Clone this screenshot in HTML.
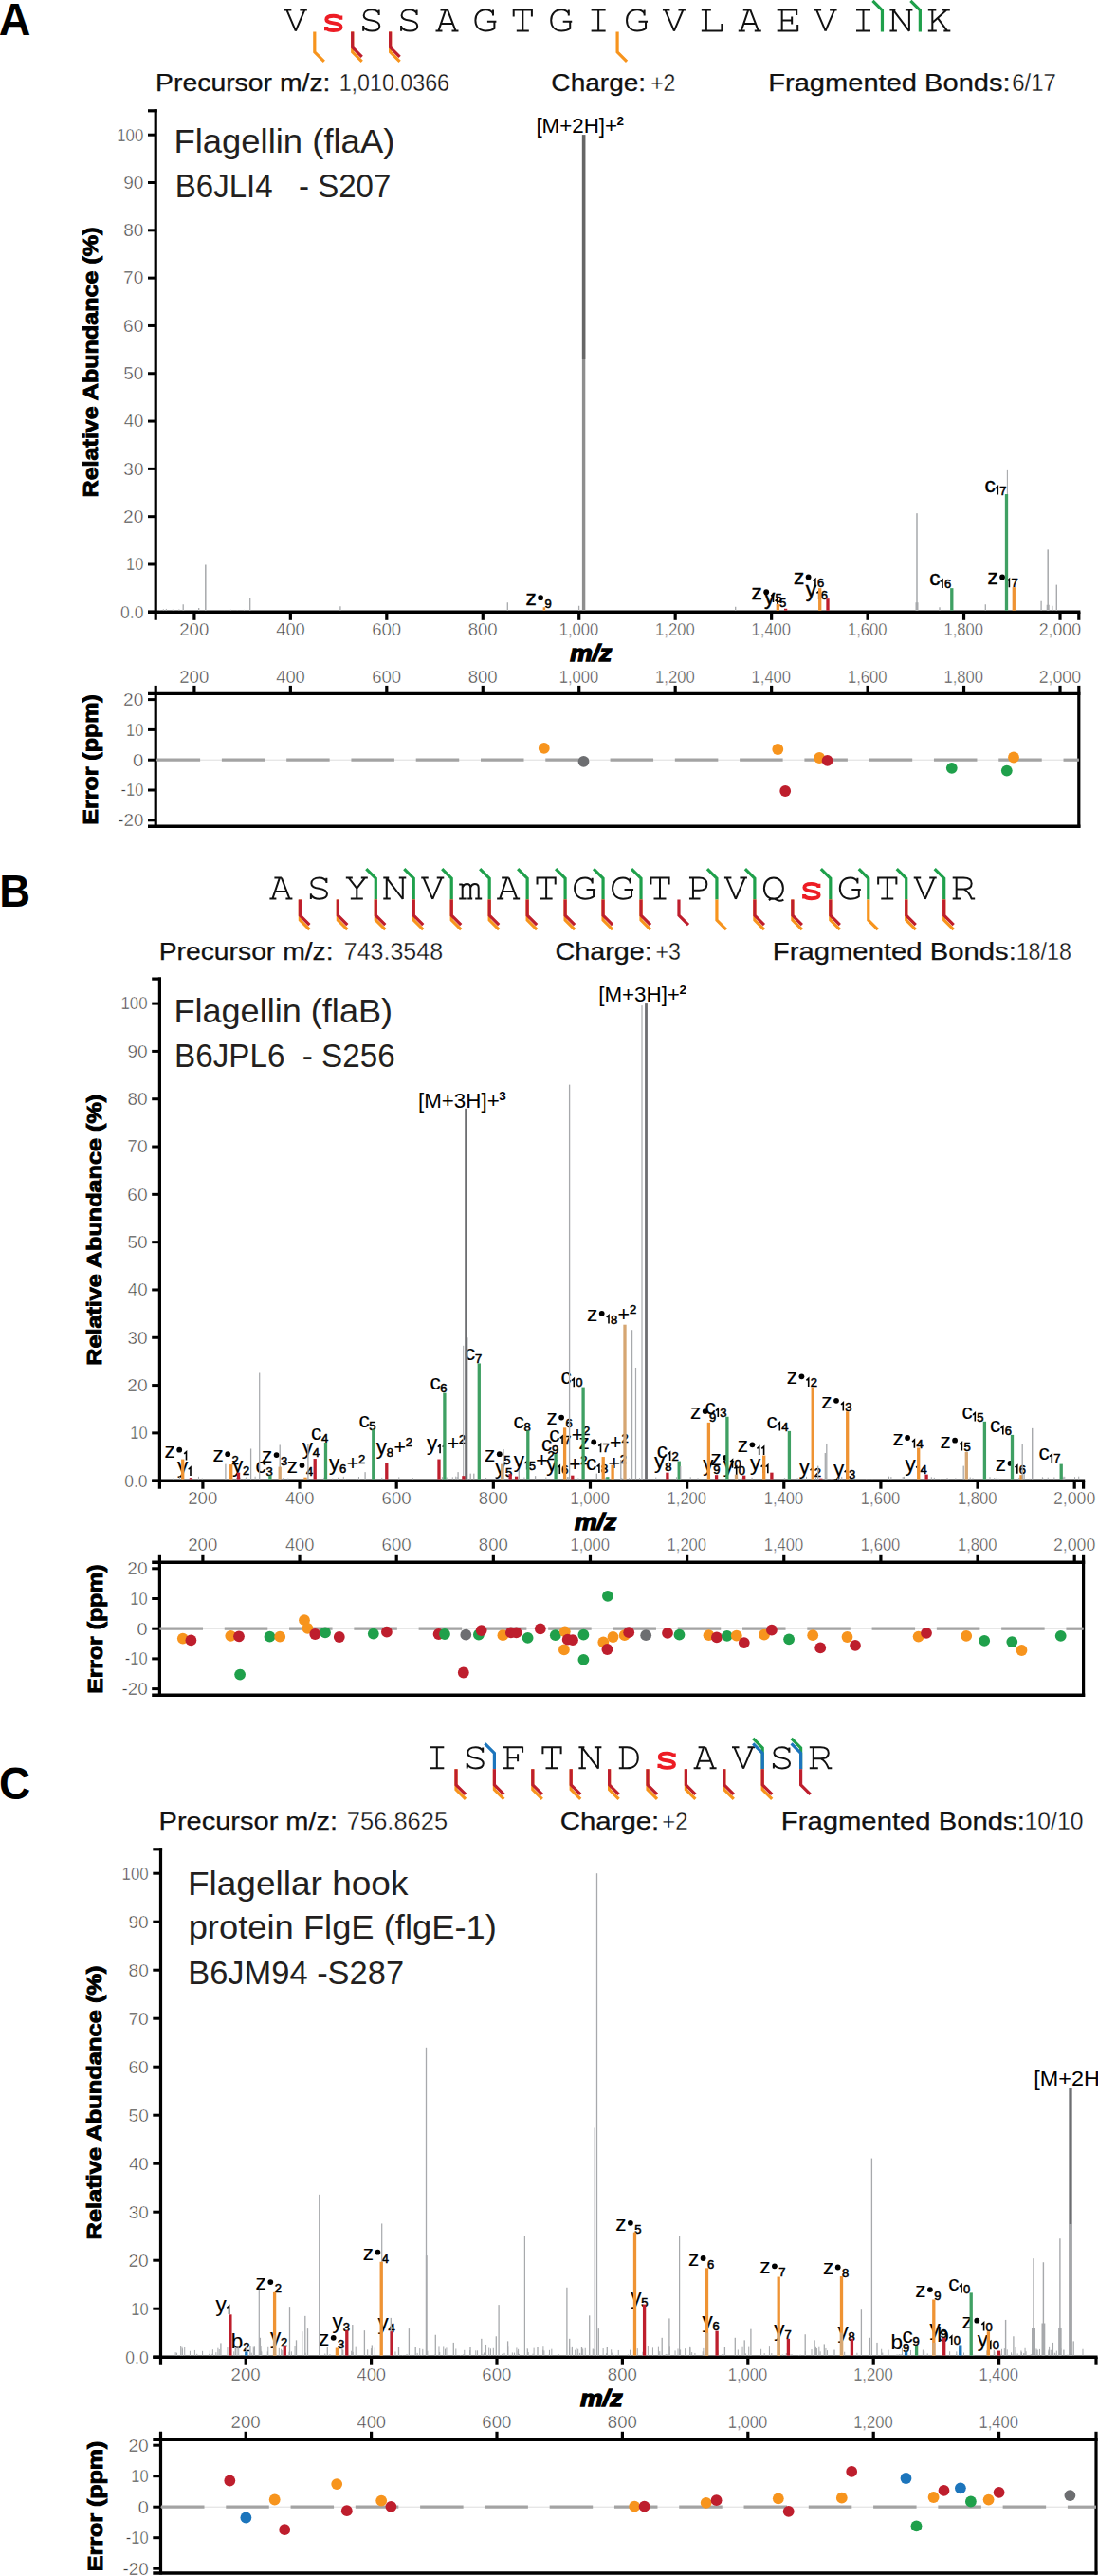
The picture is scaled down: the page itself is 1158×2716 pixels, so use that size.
<!DOCTYPE html><html><head><meta charset="utf-8"><style>html,body{margin:0;padding:0;background:#fff;}svg{display:block}</style></head><body>
<svg width="1158" height="2716" viewBox="0 0 1158 2716">
<rect width="1158" height="2716" fill="#fff"/>
<text x="-1.16" y="37.3" font-size="47.8" fill="#000" font-weight="bold" textLength="33.69" lengthAdjust="spacingAndGlyphs" font-family='"Liberation Sans", sans-serif'>A</text>
<path d="M-12,1 L-4.5,1 M4.5,1 L12,1 M-9.5,1 L0,23.3 M9.5,1 L0,23.3" transform="translate(311.85,9.4) scale(1,1)" fill="none" stroke="#111" stroke-width="2.0" stroke-linejoin="miter"/>
<path d="M7.4,10 C6,8 3.5,7.3 0,7.3 C-4.5,7.3 -7.3,8.8 -7.3,11.2 C-7.3,13.8 -4.5,14.5 0,15 C4.5,15.5 7.6,16.5 7.6,19.2 C7.6,21.7 4.5,22.6 0,22.6 C-3.5,22.6 -6,21.8 -7.6,20 M7.4,7.2 L7.4,11.4 M-7.6,18.5 L-7.6,22.8" transform="translate(351.76,9.4) scale(1.02,1.0)" fill="none" stroke="#ED1C24" stroke-width="3.9" stroke-linejoin="round"/>
<path d="M8,1.2 L8,6.5 M8,5 C6.5,2 4,0.9 0.5,0.9 C-5,0.9 -8,3.5 -8,6.8 C-8,10.3 -5,11.3 0,12.2 C5.5,13.1 8.6,14.6 8.6,18 C8.6,21.3 5.5,23.1 0.5,23.1 C-3.8,23.1 -6.8,21.5 -8.5,19 M-8.5,17.6 L-8.5,23.3" transform="translate(391.67,9.4) scale(1,1)" fill="none" stroke="#111" stroke-width="2.0" stroke-linejoin="miter"/>
<path d="M8,1.2 L8,6.5 M8,5 C6.5,2 4,0.9 0.5,0.9 C-5,0.9 -8,3.5 -8,6.8 C-8,10.3 -5,11.3 0,12.2 C5.5,13.1 8.6,14.6 8.6,18 C8.6,21.3 5.5,23.1 0.5,23.1 C-3.8,23.1 -6.8,21.5 -8.5,19 M-8.5,17.6 L-8.5,23.3" transform="translate(431.58,9.4) scale(1,1)" fill="none" stroke="#111" stroke-width="2.0" stroke-linejoin="miter"/>
<path d="M-7,1 L0.5,1 M0.5,1 L9,23 M-1.5,1 L-9,23 M-6.3,15.5 L6.3,15.5 M-12,23 L-5,23 M5,23 L12,23" transform="translate(471.49,9.4) scale(1,1)" fill="none" stroke="#111" stroke-width="2.0" stroke-linejoin="miter"/>
<path d="M8.6,1.2 L8.6,7 M8.6,5.2 C7,2.2 4.5,0.9 1,0.9 C-5.8,0.9 -10,5.5 -10,12 C-10,18.6 -6,23.1 1,23.1 C4.8,23.1 7.8,22.2 10,20.6 L10,13.3 M2.5,13.3 L12,13.3" transform="translate(511.4,9.4) scale(1,1)" fill="none" stroke="#111" stroke-width="2.0" stroke-linejoin="miter"/>
<path d="M-9.6,1 L9.6,1 M-9.6,0 L-9.6,8 M9.6,0 L9.6,8 M0,1 L0,23 M-6.5,23 L6.5,23" transform="translate(551.31,9.4) scale(1,1)" fill="none" stroke="#111" stroke-width="2.0" stroke-linejoin="miter"/>
<path d="M8.6,1.2 L8.6,7 M8.6,5.2 C7,2.2 4.5,0.9 1,0.9 C-5.8,0.9 -10,5.5 -10,12 C-10,18.6 -6,23.1 1,23.1 C4.8,23.1 7.8,22.2 10,20.6 L10,13.3 M2.5,13.3 L12,13.3" transform="translate(591.22,9.4) scale(1,1)" fill="none" stroke="#111" stroke-width="2.0" stroke-linejoin="miter"/>
<path d="M-7.5,1 L7.5,1 M0,1 L0,23 M-7.5,23 L7.5,23" transform="translate(631.13,9.4) scale(1,1)" fill="none" stroke="#111" stroke-width="2.0" stroke-linejoin="miter"/>
<path d="M8.6,1.2 L8.6,7 M8.6,5.2 C7,2.2 4.5,0.9 1,0.9 C-5.8,0.9 -10,5.5 -10,12 C-10,18.6 -6,23.1 1,23.1 C4.8,23.1 7.8,22.2 10,20.6 L10,13.3 M2.5,13.3 L12,13.3" transform="translate(671.04,9.4) scale(1,1)" fill="none" stroke="#111" stroke-width="2.0" stroke-linejoin="miter"/>
<path d="M-12,1 L-4.5,1 M4.5,1 L12,1 M-9.5,1 L0,23.3 M9.5,1 L0,23.3" transform="translate(710.95,9.4) scale(1,1)" fill="none" stroke="#111" stroke-width="2.0" stroke-linejoin="miter"/>
<path d="M-11,1 L-1,1 M-6,1 L-6,23 M-11,23 L10.5,23 M10.5,23.9 L10.5,15.5" transform="translate(750.86,9.4) scale(1,1)" fill="none" stroke="#111" stroke-width="2.0" stroke-linejoin="miter"/>
<path d="M-7,1 L0.5,1 M0.5,1 L9,23 M-1.5,1 L-9,23 M-6.3,15.5 L6.3,15.5 M-12,23 L-5,23 M5,23 L12,23" transform="translate(790.77,9.4) scale(1,1)" fill="none" stroke="#111" stroke-width="2.0" stroke-linejoin="miter"/>
<path d="M-11,1 L9.5,1 M9.5,0.1 L9.5,6.5 M-6,1 L-6,23 M-11,23 L10.5,23 M10.5,23.9 L10.5,16.5 M-6,12 L4.5,12 M4.5,8 L4.5,16" transform="translate(830.68,9.4) scale(1,1)" fill="none" stroke="#111" stroke-width="2.0" stroke-linejoin="miter"/>
<path d="M-12,1 L-4.5,1 M4.5,1 L12,1 M-9.5,1 L0,23.3 M9.5,1 L0,23.3" transform="translate(870.59,9.4) scale(1,1)" fill="none" stroke="#111" stroke-width="2.0" stroke-linejoin="miter"/>
<path d="M-7.5,1 L7.5,1 M0,1 L0,23 M-7.5,23 L7.5,23" transform="translate(910.5,9.4) scale(1,1)" fill="none" stroke="#111" stroke-width="2.0" stroke-linejoin="miter"/>
<path d="M-12,1 L-6,1 M-8.5,1 L-8.5,23 M-12,23 L-4.5,23 M-8.5,1 L8.5,23.4 M8.5,23.4 L8.5,1 M4.5,1 L12,1" transform="translate(950.41,9.4) scale(1,1)" fill="none" stroke="#111" stroke-width="2.0" stroke-linejoin="miter"/>
<path d="M-11.5,1 L-3,1 M-7,1 L-7,23 M-11.5,23 L-2.5,23 M-7,14.5 L8,1 M3,1 L11.5,1 M-1.5,9.5 L8.5,23 M5,23 L12,23" transform="translate(990.32,9.4) scale(1,1)" fill="none" stroke="#111" stroke-width="2.0" stroke-linejoin="miter"/>
<polyline points="331.81,33.4 331.81,54.9 341.81,64.9" fill="none" stroke="#F7941D" stroke-width="3.2" stroke-linejoin="miter" stroke-linecap="butt"/>
<polyline points="371.71,33.4 371.71,54.9 381.71,64.9" fill="none" stroke="#F7941D" stroke-width="3.2" stroke-linejoin="miter" stroke-linecap="butt"/>
<polyline points="371.71,33.4 371.71,49.9 381.71,59.9" fill="none" stroke="#BE1E2D" stroke-width="3.2" stroke-linejoin="miter" stroke-linecap="butt"/>
<polyline points="411.62,33.4 411.62,54.9 421.62,64.9" fill="none" stroke="#F7941D" stroke-width="3.2" stroke-linejoin="miter" stroke-linecap="butt"/>
<polyline points="411.62,33.4 411.62,49.9 421.62,59.9" fill="none" stroke="#BE1E2D" stroke-width="3.2" stroke-linejoin="miter" stroke-linecap="butt"/>
<polyline points="651.09,33.4 651.09,54.9 661.09,64.9" fill="none" stroke="#F7941D" stroke-width="3.2" stroke-linejoin="miter" stroke-linecap="butt"/>
<polyline points="920.46,0.9 930.46,10.9 930.46,33.4" fill="none" stroke="#1FA04B" stroke-width="3.2" stroke-linejoin="miter" stroke-linecap="butt"/>
<polyline points="960.37,0.9 970.37,10.9 970.37,33.4" fill="none" stroke="#1FA04B" stroke-width="3.2" stroke-linejoin="miter" stroke-linecap="butt"/>
<text x="164.07" y="96" font-size="25" fill="#111" textLength="184.42" lengthAdjust="spacingAndGlyphs" font-family='"Liberation Sans", sans-serif' stroke="#111" stroke-width="0.25">Precursor m/z:</text>
<text x="357.63" y="96" font-size="25" fill="#111" textLength="116.39" lengthAdjust="spacingAndGlyphs" font-family='"Liberation Sans", sans-serif' stroke="#fff" stroke-width="0.3">1,010.0366</text>
<text x="581.38" y="96" font-size="25" fill="#111" textLength="99.79" lengthAdjust="spacingAndGlyphs" font-family='"Liberation Sans", sans-serif' stroke="#111" stroke-width="0.25">Charge:</text>
<text x="686.17" y="96" font-size="25" fill="#111" textLength="26.29" lengthAdjust="spacingAndGlyphs" font-family='"Liberation Sans", sans-serif' stroke="#fff" stroke-width="0.3">+2</text>
<text x="810.21" y="96" font-size="25" fill="#111" textLength="255.44" lengthAdjust="spacingAndGlyphs" font-family='"Liberation Sans", sans-serif' stroke="#111" stroke-width="0.25">Fragmented Bonds:</text>
<text x="1067.18" y="96" font-size="25" fill="#111" textLength="46.62" lengthAdjust="spacingAndGlyphs" font-family='"Liberation Sans", sans-serif' stroke="#fff" stroke-width="0.3">6/17</text>
<text x="183.41" y="160.5" font-size="35" fill="#231F20" textLength="232.95" lengthAdjust="spacingAndGlyphs" font-family='"Liberation Sans", sans-serif'>Flagellin (flaA)</text>
<text x="184.79" y="208.3" font-size="35" fill="#231F20" textLength="227.57" lengthAdjust="spacingAndGlyphs" font-family='"Liberation Sans", sans-serif' xml:space="preserve">B6JLI4   - S207</text>
<line x1="164.2" y1="115.2" x2="164.2" y2="653.8" stroke="#000" stroke-width="3.2" stroke-linecap="butt"/>
<line x1="156" y1="116.8" x2="165.8" y2="116.8" stroke="#000" stroke-width="3.2" stroke-linecap="butt"/>
<line x1="156" y1="645.3" x2="164.2" y2="645.3" stroke="#000" stroke-width="3" stroke-linecap="butt"/>
<text x="127.02" y="651.6" font-size="17.6" fill="#3A3A3A" textLength="24.37" lengthAdjust="spacingAndGlyphs" font-family='"Liberation Sans", sans-serif' stroke="#fff" stroke-width="0.45">0.0</text>
<line x1="156" y1="594.99" x2="164.2" y2="594.99" stroke="#000" stroke-width="3" stroke-linecap="butt"/>
<text x="133.05" y="601.29" font-size="17.6" fill="#3A3A3A" textLength="18.3" lengthAdjust="spacingAndGlyphs" font-family='"Liberation Sans", sans-serif' stroke="#fff" stroke-width="0.45">10</text>
<line x1="156" y1="544.68" x2="164.2" y2="544.68" stroke="#000" stroke-width="3" stroke-linecap="butt"/>
<text x="130.14" y="550.98" font-size="17.6" fill="#3A3A3A" textLength="21.31" lengthAdjust="spacingAndGlyphs" font-family='"Liberation Sans", sans-serif' stroke="#fff" stroke-width="0.45">20</text>
<line x1="156" y1="494.37" x2="164.2" y2="494.37" stroke="#000" stroke-width="3" stroke-linecap="butt"/>
<text x="130.38" y="500.67" font-size="17.6" fill="#3A3A3A" textLength="21.06" lengthAdjust="spacingAndGlyphs" font-family='"Liberation Sans", sans-serif' stroke="#fff" stroke-width="0.45">30</text>
<line x1="156" y1="444.06" x2="164.2" y2="444.06" stroke="#000" stroke-width="3" stroke-linecap="butt"/>
<text x="130.67" y="450.36" font-size="17.6" fill="#3A3A3A" textLength="20.76" lengthAdjust="spacingAndGlyphs" font-family='"Liberation Sans", sans-serif' stroke="#fff" stroke-width="0.45">40</text>
<line x1="156" y1="393.75" x2="164.2" y2="393.75" stroke="#000" stroke-width="3" stroke-linecap="butt"/>
<text x="130.34" y="400.05" font-size="17.6" fill="#3A3A3A" textLength="21.1" lengthAdjust="spacingAndGlyphs" font-family='"Liberation Sans", sans-serif' stroke="#fff" stroke-width="0.45">50</text>
<line x1="156" y1="343.44" x2="164.2" y2="343.44" stroke="#000" stroke-width="3" stroke-linecap="butt"/>
<text x="130.13" y="349.74" font-size="17.6" fill="#3A3A3A" textLength="21.32" lengthAdjust="spacingAndGlyphs" font-family='"Liberation Sans", sans-serif' stroke="#fff" stroke-width="0.45">60</text>
<line x1="156" y1="293.13" x2="164.2" y2="293.13" stroke="#000" stroke-width="3" stroke-linecap="butt"/>
<text x="130.12" y="299.43" font-size="17.6" fill="#3A3A3A" textLength="21.33" lengthAdjust="spacingAndGlyphs" font-family='"Liberation Sans", sans-serif' stroke="#fff" stroke-width="0.45">70</text>
<line x1="156" y1="242.82" x2="164.2" y2="242.82" stroke="#000" stroke-width="3" stroke-linecap="butt"/>
<text x="130.27" y="249.12" font-size="17.6" fill="#3A3A3A" textLength="21.17" lengthAdjust="spacingAndGlyphs" font-family='"Liberation Sans", sans-serif' stroke="#fff" stroke-width="0.45">80</text>
<line x1="156" y1="192.51" x2="164.2" y2="192.51" stroke="#000" stroke-width="3" stroke-linecap="butt"/>
<text x="130.2" y="198.81" font-size="17.6" fill="#3A3A3A" textLength="21.24" lengthAdjust="spacingAndGlyphs" font-family='"Liberation Sans", sans-serif' stroke="#fff" stroke-width="0.45">90</text>
<line x1="156" y1="142.2" x2="164.2" y2="142.2" stroke="#000" stroke-width="3" stroke-linecap="butt"/>
<text x="123.22" y="148.5" font-size="17.6" fill="#3A3A3A" textLength="28.14" lengthAdjust="spacingAndGlyphs" font-family='"Liberation Sans", sans-serif' stroke="#fff" stroke-width="0.45">100</text>
<line x1="156" y1="645.3" x2="1139.4" y2="645.3" stroke="#000" stroke-width="3.5" stroke-linecap="butt"/>
<line x1="1137.8" y1="645.3" x2="1137.8" y2="653.8" stroke="#000" stroke-width="3.2" stroke-linecap="butt"/>
<line x1="204.9" y1="645.3" x2="204.9" y2="653.8" stroke="#000" stroke-width="3.2" stroke-linecap="butt"/>
<text x="189.26" y="669.9" font-size="17.6" fill="#3A3A3A" textLength="31.06" lengthAdjust="spacingAndGlyphs" font-family='"Liberation Sans", sans-serif' stroke="#fff" stroke-width="0.45">200</text>
<line x1="306.36" y1="645.3" x2="306.36" y2="653.8" stroke="#000" stroke-width="3.2" stroke-linecap="butt"/>
<text x="291.24" y="669.9" font-size="17.6" fill="#3A3A3A" textLength="30.53" lengthAdjust="spacingAndGlyphs" font-family='"Liberation Sans", sans-serif' stroke="#fff" stroke-width="0.45">400</text>
<line x1="407.81" y1="645.3" x2="407.81" y2="653.8" stroke="#000" stroke-width="3.2" stroke-linecap="butt"/>
<text x="392.17" y="669.9" font-size="17.6" fill="#3A3A3A" textLength="31.07" lengthAdjust="spacingAndGlyphs" font-family='"Liberation Sans", sans-serif' stroke="#fff" stroke-width="0.45">600</text>
<line x1="509.27" y1="645.3" x2="509.27" y2="653.8" stroke="#000" stroke-width="3.2" stroke-linecap="butt"/>
<text x="493.76" y="669.9" font-size="17.6" fill="#3A3A3A" textLength="30.93" lengthAdjust="spacingAndGlyphs" font-family='"Liberation Sans", sans-serif' stroke="#fff" stroke-width="0.45">800</text>
<line x1="610.72" y1="645.3" x2="610.72" y2="653.8" stroke="#000" stroke-width="3.2" stroke-linecap="butt"/>
<text x="589.66" y="669.9" font-size="17.6" fill="#3A3A3A" textLength="41.51" lengthAdjust="spacingAndGlyphs" font-family='"Liberation Sans", sans-serif' stroke="#fff" stroke-width="0.45">1,000</text>
<line x1="712.18" y1="645.3" x2="712.18" y2="653.8" stroke="#000" stroke-width="3.2" stroke-linecap="butt"/>
<text x="691.12" y="669.9" font-size="17.6" fill="#3A3A3A" textLength="41.51" lengthAdjust="spacingAndGlyphs" font-family='"Liberation Sans", sans-serif' stroke="#fff" stroke-width="0.45">1,200</text>
<line x1="813.64" y1="645.3" x2="813.64" y2="653.8" stroke="#000" stroke-width="3.2" stroke-linecap="butt"/>
<text x="792.57" y="669.9" font-size="17.6" fill="#3A3A3A" textLength="41.51" lengthAdjust="spacingAndGlyphs" font-family='"Liberation Sans", sans-serif' stroke="#fff" stroke-width="0.45">1,400</text>
<line x1="915.09" y1="645.3" x2="915.09" y2="653.8" stroke="#000" stroke-width="3.2" stroke-linecap="butt"/>
<text x="894.03" y="669.9" font-size="17.6" fill="#3A3A3A" textLength="41.51" lengthAdjust="spacingAndGlyphs" font-family='"Liberation Sans", sans-serif' stroke="#fff" stroke-width="0.45">1,600</text>
<line x1="1016.55" y1="645.3" x2="1016.55" y2="653.8" stroke="#000" stroke-width="3.2" stroke-linecap="butt"/>
<text x="995.48" y="669.9" font-size="17.6" fill="#3A3A3A" textLength="41.51" lengthAdjust="spacingAndGlyphs" font-family='"Liberation Sans", sans-serif' stroke="#fff" stroke-width="0.45">1,800</text>
<line x1="1118" y1="645.3" x2="1118" y2="653.8" stroke="#000" stroke-width="3.2" stroke-linecap="butt"/>
<text x="1095.71" y="669.9" font-size="17.6" fill="#3A3A3A" textLength="44.38" lengthAdjust="spacingAndGlyphs" font-family='"Liberation Sans", sans-serif' stroke="#fff" stroke-width="0.45">2,000</text>
<text transform="translate(102.6,382) rotate(-90)" font-size="21.6" font-weight="bold" fill="#000" stroke="#000" stroke-width="0.9" text-anchor="middle" textLength="285" lengthAdjust="spacingAndGlyphs" font-family='"Liberation Sans", sans-serif'>Relative Abundance (%)</text>
<text x="601.15" y="697" font-size="23.5" fill="#000" font-weight="bold" font-style="italic" textLength="44.23" lengthAdjust="spacingAndGlyphs" font-family='"Liberation Sans", sans-serif' stroke="#000" stroke-width="1.3">m/z</text>
<line x1="204.9" y1="731.4" x2="204.9" y2="722.9" stroke="#000" stroke-width="3.2" stroke-linecap="butt"/>
<text x="189.26" y="719.5" font-size="17.6" fill="#3A3A3A" textLength="31.06" lengthAdjust="spacingAndGlyphs" font-family='"Liberation Sans", sans-serif' stroke="#fff" stroke-width="0.45">200</text>
<line x1="306.36" y1="731.4" x2="306.36" y2="722.9" stroke="#000" stroke-width="3.2" stroke-linecap="butt"/>
<text x="291.24" y="719.5" font-size="17.6" fill="#3A3A3A" textLength="30.53" lengthAdjust="spacingAndGlyphs" font-family='"Liberation Sans", sans-serif' stroke="#fff" stroke-width="0.45">400</text>
<line x1="407.81" y1="731.4" x2="407.81" y2="722.9" stroke="#000" stroke-width="3.2" stroke-linecap="butt"/>
<text x="392.17" y="719.5" font-size="17.6" fill="#3A3A3A" textLength="31.07" lengthAdjust="spacingAndGlyphs" font-family='"Liberation Sans", sans-serif' stroke="#fff" stroke-width="0.45">600</text>
<line x1="509.27" y1="731.4" x2="509.27" y2="722.9" stroke="#000" stroke-width="3.2" stroke-linecap="butt"/>
<text x="493.76" y="719.5" font-size="17.6" fill="#3A3A3A" textLength="30.93" lengthAdjust="spacingAndGlyphs" font-family='"Liberation Sans", sans-serif' stroke="#fff" stroke-width="0.45">800</text>
<line x1="610.72" y1="731.4" x2="610.72" y2="722.9" stroke="#000" stroke-width="3.2" stroke-linecap="butt"/>
<text x="589.66" y="719.5" font-size="17.6" fill="#3A3A3A" textLength="41.51" lengthAdjust="spacingAndGlyphs" font-family='"Liberation Sans", sans-serif' stroke="#fff" stroke-width="0.45">1,000</text>
<line x1="712.18" y1="731.4" x2="712.18" y2="722.9" stroke="#000" stroke-width="3.2" stroke-linecap="butt"/>
<text x="691.12" y="719.5" font-size="17.6" fill="#3A3A3A" textLength="41.51" lengthAdjust="spacingAndGlyphs" font-family='"Liberation Sans", sans-serif' stroke="#fff" stroke-width="0.45">1,200</text>
<line x1="813.64" y1="731.4" x2="813.64" y2="722.9" stroke="#000" stroke-width="3.2" stroke-linecap="butt"/>
<text x="792.57" y="719.5" font-size="17.6" fill="#3A3A3A" textLength="41.51" lengthAdjust="spacingAndGlyphs" font-family='"Liberation Sans", sans-serif' stroke="#fff" stroke-width="0.45">1,400</text>
<line x1="915.09" y1="731.4" x2="915.09" y2="722.9" stroke="#000" stroke-width="3.2" stroke-linecap="butt"/>
<text x="894.03" y="719.5" font-size="17.6" fill="#3A3A3A" textLength="41.51" lengthAdjust="spacingAndGlyphs" font-family='"Liberation Sans", sans-serif' stroke="#fff" stroke-width="0.45">1,600</text>
<line x1="1016.55" y1="731.4" x2="1016.55" y2="722.9" stroke="#000" stroke-width="3.2" stroke-linecap="butt"/>
<text x="995.48" y="719.5" font-size="17.6" fill="#3A3A3A" textLength="41.51" lengthAdjust="spacingAndGlyphs" font-family='"Liberation Sans", sans-serif' stroke="#fff" stroke-width="0.45">1,800</text>
<line x1="1118" y1="731.4" x2="1118" y2="722.9" stroke="#000" stroke-width="3.2" stroke-linecap="butt"/>
<text x="1095.71" y="719.5" font-size="17.6" fill="#3A3A3A" textLength="44.38" lengthAdjust="spacingAndGlyphs" font-family='"Liberation Sans", sans-serif' stroke="#fff" stroke-width="0.45">2,000</text>
<line x1="164.2" y1="722.9" x2="164.2" y2="872.8" stroke="#000" stroke-width="3.2" stroke-linecap="butt"/>
<line x1="1137.8" y1="722.9" x2="1137.8" y2="872.8" stroke="#000" stroke-width="3.2" stroke-linecap="butt"/>
<line x1="156" y1="731.4" x2="1139.4" y2="731.4" stroke="#000" stroke-width="3.4" stroke-linecap="butt"/>
<line x1="156" y1="871.2" x2="1139.4" y2="871.2" stroke="#000" stroke-width="3.4" stroke-linecap="butt"/>
<line x1="156" y1="737.6" x2="164.2" y2="737.6" stroke="#000" stroke-width="3" stroke-linecap="butt"/>
<text x="130.14" y="743.9" font-size="17.6" fill="#3A3A3A" textLength="21.31" lengthAdjust="spacingAndGlyphs" font-family='"Liberation Sans", sans-serif' stroke="#fff" stroke-width="0.45">20</text>
<line x1="156" y1="769.4" x2="164.2" y2="769.4" stroke="#000" stroke-width="3" stroke-linecap="butt"/>
<text x="133.05" y="775.7" font-size="17.6" fill="#3A3A3A" textLength="18.3" lengthAdjust="spacingAndGlyphs" font-family='"Liberation Sans", sans-serif' stroke="#fff" stroke-width="0.45">10</text>
<line x1="156" y1="801.2" x2="164.2" y2="801.2" stroke="#000" stroke-width="3" stroke-linecap="butt"/>
<text x="140.1" y="807.5" font-size="17.6" fill="#3A3A3A" textLength="11.4" lengthAdjust="spacingAndGlyphs" font-family='"Liberation Sans", sans-serif' stroke="#fff" stroke-width="0.45">0</text>
<line x1="156" y1="833" x2="164.2" y2="833" stroke="#000" stroke-width="3" stroke-linecap="butt"/>
<text x="127.57" y="839.3" font-size="17.6" fill="#3A3A3A" textLength="23.77" lengthAdjust="spacingAndGlyphs" font-family='"Liberation Sans", sans-serif' stroke="#fff" stroke-width="0.45">-10</text>
<line x1="156" y1="864.8" x2="164.2" y2="864.8" stroke="#000" stroke-width="3" stroke-linecap="butt"/>
<text x="124.26" y="871.1" font-size="17.6" fill="#3A3A3A" textLength="27.17" lengthAdjust="spacingAndGlyphs" font-family='"Liberation Sans", sans-serif' stroke="#fff" stroke-width="0.45">-20</text>
<line x1="164.2" y1="801.2" x2="1137.8" y2="801.2" stroke="#DDDDDD" stroke-width="1" stroke-linecap="butt"/>
<line x1="165.6" y1="801.2" x2="211.1" y2="801.2" stroke="#A3A3A3" stroke-width="3.2" stroke-linecap="butt"/>
<line x1="233.88" y1="801.2" x2="279.38" y2="801.2" stroke="#A3A3A3" stroke-width="3.2" stroke-linecap="butt"/>
<line x1="302.16" y1="801.2" x2="347.66" y2="801.2" stroke="#A3A3A3" stroke-width="3.2" stroke-linecap="butt"/>
<line x1="370.44" y1="801.2" x2="415.94" y2="801.2" stroke="#A3A3A3" stroke-width="3.2" stroke-linecap="butt"/>
<line x1="438.72" y1="801.2" x2="484.22" y2="801.2" stroke="#A3A3A3" stroke-width="3.2" stroke-linecap="butt"/>
<line x1="507" y1="801.2" x2="552.5" y2="801.2" stroke="#A3A3A3" stroke-width="3.2" stroke-linecap="butt"/>
<line x1="575.28" y1="801.2" x2="620.78" y2="801.2" stroke="#A3A3A3" stroke-width="3.2" stroke-linecap="butt"/>
<line x1="643.56" y1="801.2" x2="689.06" y2="801.2" stroke="#A3A3A3" stroke-width="3.2" stroke-linecap="butt"/>
<line x1="711.84" y1="801.2" x2="757.34" y2="801.2" stroke="#A3A3A3" stroke-width="3.2" stroke-linecap="butt"/>
<line x1="780.12" y1="801.2" x2="825.62" y2="801.2" stroke="#A3A3A3" stroke-width="3.2" stroke-linecap="butt"/>
<line x1="848.4" y1="801.2" x2="893.9" y2="801.2" stroke="#A3A3A3" stroke-width="3.2" stroke-linecap="butt"/>
<line x1="916.68" y1="801.2" x2="962.18" y2="801.2" stroke="#A3A3A3" stroke-width="3.2" stroke-linecap="butt"/>
<line x1="984.96" y1="801.2" x2="1030.46" y2="801.2" stroke="#A3A3A3" stroke-width="3.2" stroke-linecap="butt"/>
<line x1="1053.24" y1="801.2" x2="1098.74" y2="801.2" stroke="#A3A3A3" stroke-width="3.2" stroke-linecap="butt"/>
<line x1="1121.52" y1="801.2" x2="1137.8" y2="801.2" stroke="#A3A3A3" stroke-width="3.2" stroke-linecap="butt"/>
<text transform="translate(102.8,801) rotate(-90)" font-size="21.6" font-weight="bold" fill="#000" stroke="#000" stroke-width="0.9" text-anchor="middle" textLength="137.5" lengthAdjust="spacingAndGlyphs" font-family='"Liberation Sans", sans-serif'>Error (ppm)</text>
<circle cx="573.8" cy="788.9" r="5.9" fill="#F7941D"/>
<circle cx="615.5" cy="802.8" r="5.9" fill="#6D6E71"/>
<circle cx="820.3" cy="790" r="5.9" fill="#F7941D"/>
<circle cx="828.2" cy="834" r="5.9" fill="#BE1E2D"/>
<circle cx="864.2" cy="799" r="5.9" fill="#F7941D"/>
<circle cx="872.6" cy="801.9" r="5.9" fill="#BE1E2D"/>
<circle cx="1003.8" cy="809.8" r="5.9" fill="#1FA04B"/>
<circle cx="1061.8" cy="812.6" r="5.9" fill="#1FA04B"/>
<circle cx="1069" cy="798.5" r="5.9" fill="#F7941D"/>
<text x="565.41" y="139.9" font-size="22.5" fill="#000" textLength="85.7" lengthAdjust="spacingAndGlyphs" font-family='"Liberation Sans", sans-serif'>[M+2H]+</text>
<text x="650.5" y="131.5" font-size="13" fill="#000" font-weight="bold" textLength="7.5" lengthAdjust="spacingAndGlyphs" font-family='"Liberation Sans", sans-serif'>2</text>
<text x="-0.84" y="955.7" font-size="47.8" fill="#000" font-weight="bold" textLength="32.8" lengthAdjust="spacingAndGlyphs" font-family='"Liberation Sans", sans-serif'>B</text>
<path d="M-7,1 L0.5,1 M0.5,1 L9,23 M-1.5,1 L-9,23 M-6.3,15.5 L6.3,15.5 M-12,23 L-5,23 M5,23 L12,23" transform="translate(296.4,924.6) scale(1,1)" fill="none" stroke="#111" stroke-width="2.0" stroke-linejoin="miter"/>
<path d="M8,1.2 L8,6.5 M8,5 C6.5,2 4,0.9 0.5,0.9 C-5,0.9 -8,3.5 -8,6.8 C-8,10.3 -5,11.3 0,12.2 C5.5,13.1 8.6,14.6 8.6,18 C8.6,21.3 5.5,23.1 0.5,23.1 C-3.8,23.1 -6.8,21.5 -8.5,19 M-8.5,17.6 L-8.5,23.3" transform="translate(336.36,924.6) scale(1,1)" fill="none" stroke="#111" stroke-width="2.0" stroke-linejoin="miter"/>
<path d="M-11.5,1 L-4.5,1 M4.5,1 L11.5,1 M-8.5,1 L0,12 M8.5,1 L0,12 M0,12 L0,23 M-6.5,23 L6.5,23" transform="translate(376.32,924.6) scale(1,1)" fill="none" stroke="#111" stroke-width="2.0" stroke-linejoin="miter"/>
<path d="M-12,1 L-6,1 M-8.5,1 L-8.5,23 M-12,23 L-4.5,23 M-8.5,1 L8.5,23.4 M8.5,23.4 L8.5,1 M4.5,1 L12,1" transform="translate(416.28,924.6) scale(1,1)" fill="none" stroke="#111" stroke-width="2.0" stroke-linejoin="miter"/>
<path d="M-12,1 L-4.5,1 M4.5,1 L12,1 M-9.5,1 L0,23.3 M9.5,1 L0,23.3" transform="translate(456.24,924.6) scale(1,1)" fill="none" stroke="#111" stroke-width="2.0" stroke-linejoin="miter"/>
<path d="M-12,8 L-8.5,8 M-8.5,7.5 L-8.5,23 M-12,23 L-4.5,23 M-8.5,11 C-7.5,8.6 -5.8,7.4 -3.8,7.4 C-1.3,7.4 0,8.8 0,11.5 L0,23 M0,11 C1,8.6 2.8,7.4 4.6,7.4 C7.2,7.4 8.5,8.8 8.5,11.5 L8.5,23 M5,23 L12,23 M-3,23 L2,23" transform="translate(496.2,924.6) scale(1,1)" fill="none" stroke="#111" stroke-width="2.0" stroke-linejoin="miter"/>
<path d="M-7,1 L0.5,1 M0.5,1 L9,23 M-1.5,1 L-9,23 M-6.3,15.5 L6.3,15.5 M-12,23 L-5,23 M5,23 L12,23" transform="translate(536.16,924.6) scale(1,1)" fill="none" stroke="#111" stroke-width="2.0" stroke-linejoin="miter"/>
<path d="M-9.6,1 L9.6,1 M-9.6,0 L-9.6,8 M9.6,0 L9.6,8 M0,1 L0,23 M-6.5,23 L6.5,23" transform="translate(576.12,924.6) scale(1,1)" fill="none" stroke="#111" stroke-width="2.0" stroke-linejoin="miter"/>
<path d="M8.6,1.2 L8.6,7 M8.6,5.2 C7,2.2 4.5,0.9 1,0.9 C-5.8,0.9 -10,5.5 -10,12 C-10,18.6 -6,23.1 1,23.1 C4.8,23.1 7.8,22.2 10,20.6 L10,13.3 M2.5,13.3 L12,13.3" transform="translate(616.08,924.6) scale(1,1)" fill="none" stroke="#111" stroke-width="2.0" stroke-linejoin="miter"/>
<path d="M8.6,1.2 L8.6,7 M8.6,5.2 C7,2.2 4.5,0.9 1,0.9 C-5.8,0.9 -10,5.5 -10,12 C-10,18.6 -6,23.1 1,23.1 C4.8,23.1 7.8,22.2 10,20.6 L10,13.3 M2.5,13.3 L12,13.3" transform="translate(656.04,924.6) scale(1,1)" fill="none" stroke="#111" stroke-width="2.0" stroke-linejoin="miter"/>
<path d="M-9.6,1 L9.6,1 M-9.6,0 L-9.6,8 M9.6,0 L9.6,8 M0,1 L0,23 M-6.5,23 L6.5,23" transform="translate(696,924.6) scale(1,1)" fill="none" stroke="#111" stroke-width="2.0" stroke-linejoin="miter"/>
<path d="M-9,1 L1.5,1 C6.8,1 9.4,3.8 9.4,7.6 C9.4,11.4 6.8,14.2 1.5,14.2 L-5,14.2 M-5,1 L-5,23 M-9,23 L2.5,23" transform="translate(735.96,924.6) scale(1,1)" fill="none" stroke="#111" stroke-width="2.0" stroke-linejoin="miter"/>
<path d="M-12,1 L-4.5,1 M4.5,1 L12,1 M-9.5,1 L0,23.3 M9.5,1 L0,23.3" transform="translate(775.92,924.6) scale(1,1)" fill="none" stroke="#111" stroke-width="2.0" stroke-linejoin="miter"/>
<path d="M0,0.9 C6,0.9 10,5.5 10,12 C10,18.5 6,23.1 0,23.1 C-6,23.1 -10,18.5 -10,12 C-10,5.5 -6,0.9 0,0.9 Z M-5,24.5 C-2.5,22.5 0.5,22.5 3,24 C5.5,25.5 8,25.5 10.5,24" transform="translate(815.88,924.6) scale(1,1)" fill="none" stroke="#111" stroke-width="2.0" stroke-linejoin="miter"/>
<path d="M7.4,10 C6,8 3.5,7.3 0,7.3 C-4.5,7.3 -7.3,8.8 -7.3,11.2 C-7.3,13.8 -4.5,14.5 0,15 C4.5,15.5 7.6,16.5 7.6,19.2 C7.6,21.7 4.5,22.6 0,22.6 C-3.5,22.6 -6,21.8 -7.6,20 M7.4,7.2 L7.4,11.4 M-7.6,18.5 L-7.6,22.8" transform="translate(855.84,924.6) scale(1.02,1.0)" fill="none" stroke="#ED1C24" stroke-width="3.9" stroke-linejoin="round"/>
<path d="M8.6,1.2 L8.6,7 M8.6,5.2 C7,2.2 4.5,0.9 1,0.9 C-5.8,0.9 -10,5.5 -10,12 C-10,18.6 -6,23.1 1,23.1 C4.8,23.1 7.8,22.2 10,20.6 L10,13.3 M2.5,13.3 L12,13.3" transform="translate(895.8,924.6) scale(1,1)" fill="none" stroke="#111" stroke-width="2.0" stroke-linejoin="miter"/>
<path d="M-9.6,1 L9.6,1 M-9.6,0 L-9.6,8 M9.6,0 L9.6,8 M0,1 L0,23 M-6.5,23 L6.5,23" transform="translate(935.76,924.6) scale(1,1)" fill="none" stroke="#111" stroke-width="2.0" stroke-linejoin="miter"/>
<path d="M-12,1 L-4.5,1 M4.5,1 L12,1 M-9.5,1 L0,23.3 M9.5,1 L0,23.3" transform="translate(975.72,924.6) scale(1,1)" fill="none" stroke="#111" stroke-width="2.0" stroke-linejoin="miter"/>
<path d="M-11,1 L0.5,1 C6,1 9,3.5 9,7 C9,10.5 6,13 0.5,13 L-7,13 M-7,1 L-7,23 M-11,23 L-2,23 M1,13 C4.5,14.5 7,18 9,23 L12.5,23" transform="translate(1015.68,924.6) scale(1,1)" fill="none" stroke="#111" stroke-width="2.0" stroke-linejoin="miter"/>
<polyline points="316.38,948.6 316.38,970.1 326.38,980.1" fill="none" stroke="#F7941D" stroke-width="3.2" stroke-linejoin="miter" stroke-linecap="butt"/>
<polyline points="316.38,948.6 316.38,965.1 326.38,975.1" fill="none" stroke="#BE1E2D" stroke-width="3.2" stroke-linejoin="miter" stroke-linecap="butt"/>
<polyline points="356.34,948.6 356.34,970.1 366.34,980.1" fill="none" stroke="#F7941D" stroke-width="3.2" stroke-linejoin="miter" stroke-linecap="butt"/>
<polyline points="356.34,948.6 356.34,965.1 366.34,975.1" fill="none" stroke="#BE1E2D" stroke-width="3.2" stroke-linejoin="miter" stroke-linecap="butt"/>
<polyline points="386.3,916.1 396.3,926.1 396.3,948.6" fill="none" stroke="#1FA04B" stroke-width="3.2" stroke-linejoin="miter" stroke-linecap="butt"/>
<polyline points="396.3,948.6 396.3,970.1 406.3,980.1" fill="none" stroke="#F7941D" stroke-width="3.2" stroke-linejoin="miter" stroke-linecap="butt"/>
<polyline points="396.3,948.6 396.3,965.1 406.3,975.1" fill="none" stroke="#BE1E2D" stroke-width="3.2" stroke-linejoin="miter" stroke-linecap="butt"/>
<polyline points="426.26,916.1 436.26,926.1 436.26,948.6" fill="none" stroke="#1FA04B" stroke-width="3.2" stroke-linejoin="miter" stroke-linecap="butt"/>
<polyline points="436.26,948.6 436.26,970.1 446.26,980.1" fill="none" stroke="#F7941D" stroke-width="3.2" stroke-linejoin="miter" stroke-linecap="butt"/>
<polyline points="436.26,948.6 436.26,965.1 446.26,975.1" fill="none" stroke="#BE1E2D" stroke-width="3.2" stroke-linejoin="miter" stroke-linecap="butt"/>
<polyline points="466.22,916.1 476.22,926.1 476.22,948.6" fill="none" stroke="#1FA04B" stroke-width="3.2" stroke-linejoin="miter" stroke-linecap="butt"/>
<polyline points="476.22,948.6 476.22,970.1 486.22,980.1" fill="none" stroke="#F7941D" stroke-width="3.2" stroke-linejoin="miter" stroke-linecap="butt"/>
<polyline points="476.22,948.6 476.22,965.1 486.22,975.1" fill="none" stroke="#BE1E2D" stroke-width="3.2" stroke-linejoin="miter" stroke-linecap="butt"/>
<polyline points="506.18,916.1 516.18,926.1 516.18,948.6" fill="none" stroke="#1FA04B" stroke-width="3.2" stroke-linejoin="miter" stroke-linecap="butt"/>
<polyline points="516.18,948.6 516.18,970.1 526.18,980.1" fill="none" stroke="#F7941D" stroke-width="3.2" stroke-linejoin="miter" stroke-linecap="butt"/>
<polyline points="516.18,948.6 516.18,965.1 526.18,975.1" fill="none" stroke="#BE1E2D" stroke-width="3.2" stroke-linejoin="miter" stroke-linecap="butt"/>
<polyline points="546.14,916.1 556.14,926.1 556.14,948.6" fill="none" stroke="#1FA04B" stroke-width="3.2" stroke-linejoin="miter" stroke-linecap="butt"/>
<polyline points="556.14,948.6 556.14,970.1 566.14,980.1" fill="none" stroke="#F7941D" stroke-width="3.2" stroke-linejoin="miter" stroke-linecap="butt"/>
<polyline points="556.14,948.6 556.14,965.1 566.14,975.1" fill="none" stroke="#BE1E2D" stroke-width="3.2" stroke-linejoin="miter" stroke-linecap="butt"/>
<polyline points="586.1,916.1 596.1,926.1 596.1,948.6" fill="none" stroke="#1FA04B" stroke-width="3.2" stroke-linejoin="miter" stroke-linecap="butt"/>
<polyline points="596.1,948.6 596.1,970.1 606.1,980.1" fill="none" stroke="#F7941D" stroke-width="3.2" stroke-linejoin="miter" stroke-linecap="butt"/>
<polyline points="596.1,948.6 596.1,965.1 606.1,975.1" fill="none" stroke="#BE1E2D" stroke-width="3.2" stroke-linejoin="miter" stroke-linecap="butt"/>
<polyline points="626.06,916.1 636.06,926.1 636.06,948.6" fill="none" stroke="#1FA04B" stroke-width="3.2" stroke-linejoin="miter" stroke-linecap="butt"/>
<polyline points="636.06,948.6 636.06,970.1 646.06,980.1" fill="none" stroke="#F7941D" stroke-width="3.2" stroke-linejoin="miter" stroke-linecap="butt"/>
<polyline points="636.06,948.6 636.06,965.1 646.06,975.1" fill="none" stroke="#BE1E2D" stroke-width="3.2" stroke-linejoin="miter" stroke-linecap="butt"/>
<polyline points="666.02,916.1 676.02,926.1 676.02,948.6" fill="none" stroke="#1FA04B" stroke-width="3.2" stroke-linejoin="miter" stroke-linecap="butt"/>
<polyline points="676.02,948.6 676.02,970.1 686.02,980.1" fill="none" stroke="#F7941D" stroke-width="3.2" stroke-linejoin="miter" stroke-linecap="butt"/>
<polyline points="676.02,948.6 676.02,965.1 686.02,975.1" fill="none" stroke="#BE1E2D" stroke-width="3.2" stroke-linejoin="miter" stroke-linecap="butt"/>
<polyline points="715.98,948.6 715.98,965.1 725.98,975.1" fill="none" stroke="#BE1E2D" stroke-width="3.2" stroke-linejoin="miter" stroke-linecap="butt"/>
<polyline points="745.94,916.1 755.94,926.1 755.94,948.6" fill="none" stroke="#1FA04B" stroke-width="3.2" stroke-linejoin="miter" stroke-linecap="butt"/>
<polyline points="755.94,948.6 755.94,970.1 765.94,980.1" fill="none" stroke="#F7941D" stroke-width="3.2" stroke-linejoin="miter" stroke-linecap="butt"/>
<polyline points="785.9,916.1 795.9,926.1 795.9,948.6" fill="none" stroke="#1FA04B" stroke-width="3.2" stroke-linejoin="miter" stroke-linecap="butt"/>
<polyline points="795.9,948.6 795.9,970.1 805.9,980.1" fill="none" stroke="#F7941D" stroke-width="3.2" stroke-linejoin="miter" stroke-linecap="butt"/>
<polyline points="795.9,948.6 795.9,965.1 805.9,975.1" fill="none" stroke="#BE1E2D" stroke-width="3.2" stroke-linejoin="miter" stroke-linecap="butt"/>
<polyline points="835.86,948.6 835.86,970.1 845.86,980.1" fill="none" stroke="#F7941D" stroke-width="3.2" stroke-linejoin="miter" stroke-linecap="butt"/>
<polyline points="835.86,948.6 835.86,965.1 845.86,975.1" fill="none" stroke="#BE1E2D" stroke-width="3.2" stroke-linejoin="miter" stroke-linecap="butt"/>
<polyline points="865.82,916.1 875.82,926.1 875.82,948.6" fill="none" stroke="#1FA04B" stroke-width="3.2" stroke-linejoin="miter" stroke-linecap="butt"/>
<polyline points="875.82,948.6 875.82,970.1 885.82,980.1" fill="none" stroke="#F7941D" stroke-width="3.2" stroke-linejoin="miter" stroke-linecap="butt"/>
<polyline points="875.82,948.6 875.82,965.1 885.82,975.1" fill="none" stroke="#BE1E2D" stroke-width="3.2" stroke-linejoin="miter" stroke-linecap="butt"/>
<polyline points="905.78,916.1 915.78,926.1 915.78,948.6" fill="none" stroke="#1FA04B" stroke-width="3.2" stroke-linejoin="miter" stroke-linecap="butt"/>
<polyline points="915.78,948.6 915.78,970.1 925.78,980.1" fill="none" stroke="#F7941D" stroke-width="3.2" stroke-linejoin="miter" stroke-linecap="butt"/>
<polyline points="945.74,916.1 955.74,926.1 955.74,948.6" fill="none" stroke="#1FA04B" stroke-width="3.2" stroke-linejoin="miter" stroke-linecap="butt"/>
<polyline points="955.74,948.6 955.74,970.1 965.74,980.1" fill="none" stroke="#F7941D" stroke-width="3.2" stroke-linejoin="miter" stroke-linecap="butt"/>
<polyline points="955.74,948.6 955.74,965.1 965.74,975.1" fill="none" stroke="#BE1E2D" stroke-width="3.2" stroke-linejoin="miter" stroke-linecap="butt"/>
<polyline points="985.7,916.1 995.7,926.1 995.7,948.6" fill="none" stroke="#1FA04B" stroke-width="3.2" stroke-linejoin="miter" stroke-linecap="butt"/>
<polyline points="995.7,948.6 995.7,970.1 1005.7,980.1" fill="none" stroke="#F7941D" stroke-width="3.2" stroke-linejoin="miter" stroke-linecap="butt"/>
<polyline points="995.7,948.6 995.7,965.1 1005.7,975.1" fill="none" stroke="#BE1E2D" stroke-width="3.2" stroke-linejoin="miter" stroke-linecap="butt"/>
<text x="167.68" y="1011.8" font-size="25" fill="#111" textLength="183.9" lengthAdjust="spacingAndGlyphs" font-family='"Liberation Sans", sans-serif' stroke="#111" stroke-width="0.25">Precursor m/z:</text>
<text x="362.72" y="1011.8" font-size="25" fill="#111" textLength="104.37" lengthAdjust="spacingAndGlyphs" font-family='"Liberation Sans", sans-serif' stroke="#fff" stroke-width="0.3">743.3548</text>
<text x="585.44" y="1011.8" font-size="25" fill="#111" textLength="102.39" lengthAdjust="spacingAndGlyphs" font-family='"Liberation Sans", sans-serif' stroke="#111" stroke-width="0.25">Charge:</text>
<text x="691.47" y="1011.8" font-size="25" fill="#111" textLength="26.45" lengthAdjust="spacingAndGlyphs" font-family='"Liberation Sans", sans-serif' stroke="#fff" stroke-width="0.3">+3</text>
<text x="814.8" y="1011.8" font-size="25" fill="#111" textLength="257.07" lengthAdjust="spacingAndGlyphs" font-family='"Liberation Sans", sans-serif' stroke="#111" stroke-width="0.25">Fragmented Bonds:</text>
<text x="1071.63" y="1011.8" font-size="25" fill="#111" textLength="58.29" lengthAdjust="spacingAndGlyphs" font-family='"Liberation Sans", sans-serif' stroke="#fff" stroke-width="0.3">18/18</text>
<text x="183.44" y="1077.6" font-size="35" fill="#231F20" textLength="230.6" lengthAdjust="spacingAndGlyphs" font-family='"Liberation Sans", sans-serif'>Flagellin (flaB)</text>
<text x="184.08" y="1124.7" font-size="35" fill="#231F20" textLength="232.58" lengthAdjust="spacingAndGlyphs" font-family='"Liberation Sans", sans-serif' xml:space="preserve">B6JPL6  - S256</text>
<line x1="168.4" y1="1030.5" x2="168.4" y2="1569.7" stroke="#000" stroke-width="3.2" stroke-linecap="butt"/>
<line x1="160.2" y1="1032.1" x2="170" y2="1032.1" stroke="#000" stroke-width="3.2" stroke-linecap="butt"/>
<line x1="160.2" y1="1561.2" x2="168.4" y2="1561.2" stroke="#000" stroke-width="3" stroke-linecap="butt"/>
<text x="131.22" y="1567.5" font-size="17.6" fill="#3A3A3A" textLength="24.37" lengthAdjust="spacingAndGlyphs" font-family='"Liberation Sans", sans-serif' stroke="#fff" stroke-width="0.45">0.0</text>
<line x1="160.2" y1="1510.89" x2="168.4" y2="1510.89" stroke="#000" stroke-width="3" stroke-linecap="butt"/>
<text x="137.25" y="1517.19" font-size="17.6" fill="#3A3A3A" textLength="18.3" lengthAdjust="spacingAndGlyphs" font-family='"Liberation Sans", sans-serif' stroke="#fff" stroke-width="0.45">10</text>
<line x1="160.2" y1="1460.58" x2="168.4" y2="1460.58" stroke="#000" stroke-width="3" stroke-linecap="butt"/>
<text x="134.34" y="1466.88" font-size="17.6" fill="#3A3A3A" textLength="21.31" lengthAdjust="spacingAndGlyphs" font-family='"Liberation Sans", sans-serif' stroke="#fff" stroke-width="0.45">20</text>
<line x1="160.2" y1="1410.27" x2="168.4" y2="1410.27" stroke="#000" stroke-width="3" stroke-linecap="butt"/>
<text x="134.58" y="1416.57" font-size="17.6" fill="#3A3A3A" textLength="21.06" lengthAdjust="spacingAndGlyphs" font-family='"Liberation Sans", sans-serif' stroke="#fff" stroke-width="0.45">30</text>
<line x1="160.2" y1="1359.96" x2="168.4" y2="1359.96" stroke="#000" stroke-width="3" stroke-linecap="butt"/>
<text x="134.87" y="1366.26" font-size="17.6" fill="#3A3A3A" textLength="20.76" lengthAdjust="spacingAndGlyphs" font-family='"Liberation Sans", sans-serif' stroke="#fff" stroke-width="0.45">40</text>
<line x1="160.2" y1="1309.65" x2="168.4" y2="1309.65" stroke="#000" stroke-width="3" stroke-linecap="butt"/>
<text x="134.54" y="1315.95" font-size="17.6" fill="#3A3A3A" textLength="21.1" lengthAdjust="spacingAndGlyphs" font-family='"Liberation Sans", sans-serif' stroke="#fff" stroke-width="0.45">50</text>
<line x1="160.2" y1="1259.34" x2="168.4" y2="1259.34" stroke="#000" stroke-width="3" stroke-linecap="butt"/>
<text x="134.33" y="1265.64" font-size="17.6" fill="#3A3A3A" textLength="21.32" lengthAdjust="spacingAndGlyphs" font-family='"Liberation Sans", sans-serif' stroke="#fff" stroke-width="0.45">60</text>
<line x1="160.2" y1="1209.03" x2="168.4" y2="1209.03" stroke="#000" stroke-width="3" stroke-linecap="butt"/>
<text x="134.32" y="1215.33" font-size="17.6" fill="#3A3A3A" textLength="21.33" lengthAdjust="spacingAndGlyphs" font-family='"Liberation Sans", sans-serif' stroke="#fff" stroke-width="0.45">70</text>
<line x1="160.2" y1="1158.72" x2="168.4" y2="1158.72" stroke="#000" stroke-width="3" stroke-linecap="butt"/>
<text x="134.47" y="1165.02" font-size="17.6" fill="#3A3A3A" textLength="21.17" lengthAdjust="spacingAndGlyphs" font-family='"Liberation Sans", sans-serif' stroke="#fff" stroke-width="0.45">80</text>
<line x1="160.2" y1="1108.41" x2="168.4" y2="1108.41" stroke="#000" stroke-width="3" stroke-linecap="butt"/>
<text x="134.4" y="1114.71" font-size="17.6" fill="#3A3A3A" textLength="21.24" lengthAdjust="spacingAndGlyphs" font-family='"Liberation Sans", sans-serif' stroke="#fff" stroke-width="0.45">90</text>
<line x1="160.2" y1="1058.1" x2="168.4" y2="1058.1" stroke="#000" stroke-width="3" stroke-linecap="butt"/>
<text x="127.42" y="1064.4" font-size="17.6" fill="#3A3A3A" textLength="28.14" lengthAdjust="spacingAndGlyphs" font-family='"Liberation Sans", sans-serif' stroke="#fff" stroke-width="0.45">100</text>
<line x1="160.2" y1="1561.2" x2="1144.2" y2="1561.2" stroke="#000" stroke-width="3.5" stroke-linecap="butt"/>
<line x1="1142.6" y1="1561.2" x2="1142.6" y2="1569.7" stroke="#000" stroke-width="3.2" stroke-linecap="butt"/>
<line x1="213.9" y1="1561.2" x2="213.9" y2="1569.7" stroke="#000" stroke-width="3.2" stroke-linecap="butt"/>
<text x="198.26" y="1585.8" font-size="17.6" fill="#3A3A3A" textLength="31.06" lengthAdjust="spacingAndGlyphs" font-family='"Liberation Sans", sans-serif' stroke="#fff" stroke-width="0.45">200</text>
<line x1="316.04" y1="1561.2" x2="316.04" y2="1569.7" stroke="#000" stroke-width="3.2" stroke-linecap="butt"/>
<text x="300.92" y="1585.8" font-size="17.6" fill="#3A3A3A" textLength="30.53" lengthAdjust="spacingAndGlyphs" font-family='"Liberation Sans", sans-serif' stroke="#fff" stroke-width="0.45">400</text>
<line x1="418.19" y1="1561.2" x2="418.19" y2="1569.7" stroke="#000" stroke-width="3.2" stroke-linecap="butt"/>
<text x="402.54" y="1585.8" font-size="17.6" fill="#3A3A3A" textLength="31.07" lengthAdjust="spacingAndGlyphs" font-family='"Liberation Sans", sans-serif' stroke="#fff" stroke-width="0.45">600</text>
<line x1="520.33" y1="1561.2" x2="520.33" y2="1569.7" stroke="#000" stroke-width="3.2" stroke-linecap="butt"/>
<text x="504.83" y="1585.8" font-size="17.6" fill="#3A3A3A" textLength="30.93" lengthAdjust="spacingAndGlyphs" font-family='"Liberation Sans", sans-serif' stroke="#fff" stroke-width="0.45">800</text>
<line x1="622.48" y1="1561.2" x2="622.48" y2="1569.7" stroke="#000" stroke-width="3.2" stroke-linecap="butt"/>
<text x="601.41" y="1585.8" font-size="17.6" fill="#3A3A3A" textLength="41.51" lengthAdjust="spacingAndGlyphs" font-family='"Liberation Sans", sans-serif' stroke="#fff" stroke-width="0.45">1,000</text>
<line x1="724.62" y1="1561.2" x2="724.62" y2="1569.7" stroke="#000" stroke-width="3.2" stroke-linecap="butt"/>
<text x="703.56" y="1585.8" font-size="17.6" fill="#3A3A3A" textLength="41.51" lengthAdjust="spacingAndGlyphs" font-family='"Liberation Sans", sans-serif' stroke="#fff" stroke-width="0.45">1,200</text>
<line x1="826.76" y1="1561.2" x2="826.76" y2="1569.7" stroke="#000" stroke-width="3.2" stroke-linecap="butt"/>
<text x="805.7" y="1585.8" font-size="17.6" fill="#3A3A3A" textLength="41.51" lengthAdjust="spacingAndGlyphs" font-family='"Liberation Sans", sans-serif' stroke="#fff" stroke-width="0.45">1,400</text>
<line x1="928.91" y1="1561.2" x2="928.91" y2="1569.7" stroke="#000" stroke-width="3.2" stroke-linecap="butt"/>
<text x="907.84" y="1585.8" font-size="17.6" fill="#3A3A3A" textLength="41.51" lengthAdjust="spacingAndGlyphs" font-family='"Liberation Sans", sans-serif' stroke="#fff" stroke-width="0.45">1,600</text>
<line x1="1031.05" y1="1561.2" x2="1031.05" y2="1569.7" stroke="#000" stroke-width="3.2" stroke-linecap="butt"/>
<text x="1009.99" y="1585.8" font-size="17.6" fill="#3A3A3A" textLength="41.51" lengthAdjust="spacingAndGlyphs" font-family='"Liberation Sans", sans-serif' stroke="#fff" stroke-width="0.45">1,800</text>
<line x1="1133.2" y1="1561.2" x2="1133.2" y2="1569.7" stroke="#000" stroke-width="3.2" stroke-linecap="butt"/>
<text x="1110.9" y="1585.8" font-size="17.6" fill="#3A3A3A" textLength="44.38" lengthAdjust="spacingAndGlyphs" font-family='"Liberation Sans", sans-serif' stroke="#fff" stroke-width="0.45">2,000</text>
<text transform="translate(107.2,1296.8) rotate(-90)" font-size="21.6" font-weight="bold" fill="#000" stroke="#000" stroke-width="0.9" text-anchor="middle" textLength="286" lengthAdjust="spacingAndGlyphs" font-family='"Liberation Sans", sans-serif'>Relative Abundance (%)</text>
<text x="605.95" y="1613" font-size="23.5" fill="#000" font-weight="bold" font-style="italic" textLength="44.34" lengthAdjust="spacingAndGlyphs" font-family='"Liberation Sans", sans-serif' stroke="#000" stroke-width="1.3">m/z</text>
<line x1="213.9" y1="1647.3" x2="213.9" y2="1638.8" stroke="#000" stroke-width="3.2" stroke-linecap="butt"/>
<text x="198.26" y="1635.4" font-size="17.6" fill="#3A3A3A" textLength="31.06" lengthAdjust="spacingAndGlyphs" font-family='"Liberation Sans", sans-serif' stroke="#fff" stroke-width="0.45">200</text>
<line x1="316.04" y1="1647.3" x2="316.04" y2="1638.8" stroke="#000" stroke-width="3.2" stroke-linecap="butt"/>
<text x="300.92" y="1635.4" font-size="17.6" fill="#3A3A3A" textLength="30.53" lengthAdjust="spacingAndGlyphs" font-family='"Liberation Sans", sans-serif' stroke="#fff" stroke-width="0.45">400</text>
<line x1="418.19" y1="1647.3" x2="418.19" y2="1638.8" stroke="#000" stroke-width="3.2" stroke-linecap="butt"/>
<text x="402.54" y="1635.4" font-size="17.6" fill="#3A3A3A" textLength="31.07" lengthAdjust="spacingAndGlyphs" font-family='"Liberation Sans", sans-serif' stroke="#fff" stroke-width="0.45">600</text>
<line x1="520.33" y1="1647.3" x2="520.33" y2="1638.8" stroke="#000" stroke-width="3.2" stroke-linecap="butt"/>
<text x="504.83" y="1635.4" font-size="17.6" fill="#3A3A3A" textLength="30.93" lengthAdjust="spacingAndGlyphs" font-family='"Liberation Sans", sans-serif' stroke="#fff" stroke-width="0.45">800</text>
<line x1="622.48" y1="1647.3" x2="622.48" y2="1638.8" stroke="#000" stroke-width="3.2" stroke-linecap="butt"/>
<text x="601.41" y="1635.4" font-size="17.6" fill="#3A3A3A" textLength="41.51" lengthAdjust="spacingAndGlyphs" font-family='"Liberation Sans", sans-serif' stroke="#fff" stroke-width="0.45">1,000</text>
<line x1="724.62" y1="1647.3" x2="724.62" y2="1638.8" stroke="#000" stroke-width="3.2" stroke-linecap="butt"/>
<text x="703.56" y="1635.4" font-size="17.6" fill="#3A3A3A" textLength="41.51" lengthAdjust="spacingAndGlyphs" font-family='"Liberation Sans", sans-serif' stroke="#fff" stroke-width="0.45">1,200</text>
<line x1="826.76" y1="1647.3" x2="826.76" y2="1638.8" stroke="#000" stroke-width="3.2" stroke-linecap="butt"/>
<text x="805.7" y="1635.4" font-size="17.6" fill="#3A3A3A" textLength="41.51" lengthAdjust="spacingAndGlyphs" font-family='"Liberation Sans", sans-serif' stroke="#fff" stroke-width="0.45">1,400</text>
<line x1="928.91" y1="1647.3" x2="928.91" y2="1638.8" stroke="#000" stroke-width="3.2" stroke-linecap="butt"/>
<text x="907.84" y="1635.4" font-size="17.6" fill="#3A3A3A" textLength="41.51" lengthAdjust="spacingAndGlyphs" font-family='"Liberation Sans", sans-serif' stroke="#fff" stroke-width="0.45">1,600</text>
<line x1="1031.05" y1="1647.3" x2="1031.05" y2="1638.8" stroke="#000" stroke-width="3.2" stroke-linecap="butt"/>
<text x="1009.99" y="1635.4" font-size="17.6" fill="#3A3A3A" textLength="41.51" lengthAdjust="spacingAndGlyphs" font-family='"Liberation Sans", sans-serif' stroke="#fff" stroke-width="0.45">1,800</text>
<line x1="1133.2" y1="1647.3" x2="1133.2" y2="1638.8" stroke="#000" stroke-width="3.2" stroke-linecap="butt"/>
<text x="1110.9" y="1635.4" font-size="17.6" fill="#3A3A3A" textLength="44.38" lengthAdjust="spacingAndGlyphs" font-family='"Liberation Sans", sans-serif' stroke="#fff" stroke-width="0.45">2,000</text>
<line x1="168.4" y1="1638.8" x2="168.4" y2="1788.9" stroke="#000" stroke-width="3.2" stroke-linecap="butt"/>
<line x1="1142.6" y1="1638.8" x2="1142.6" y2="1788.9" stroke="#000" stroke-width="3.2" stroke-linecap="butt"/>
<line x1="160.2" y1="1647.3" x2="1144.2" y2="1647.3" stroke="#000" stroke-width="3.4" stroke-linecap="butt"/>
<line x1="160.2" y1="1787.3" x2="1144.2" y2="1787.3" stroke="#000" stroke-width="3.4" stroke-linecap="butt"/>
<line x1="160.2" y1="1653.8" x2="168.4" y2="1653.8" stroke="#000" stroke-width="3" stroke-linecap="butt"/>
<text x="134.34" y="1660.1" font-size="17.6" fill="#3A3A3A" textLength="21.31" lengthAdjust="spacingAndGlyphs" font-family='"Liberation Sans", sans-serif' stroke="#fff" stroke-width="0.45">20</text>
<line x1="160.2" y1="1685.5" x2="168.4" y2="1685.5" stroke="#000" stroke-width="3" stroke-linecap="butt"/>
<text x="137.25" y="1691.8" font-size="17.6" fill="#3A3A3A" textLength="18.3" lengthAdjust="spacingAndGlyphs" font-family='"Liberation Sans", sans-serif' stroke="#fff" stroke-width="0.45">10</text>
<line x1="160.2" y1="1717.2" x2="168.4" y2="1717.2" stroke="#000" stroke-width="3" stroke-linecap="butt"/>
<text x="144.3" y="1723.5" font-size="17.6" fill="#3A3A3A" textLength="11.4" lengthAdjust="spacingAndGlyphs" font-family='"Liberation Sans", sans-serif' stroke="#fff" stroke-width="0.45">0</text>
<line x1="160.2" y1="1748.9" x2="168.4" y2="1748.9" stroke="#000" stroke-width="3" stroke-linecap="butt"/>
<text x="131.77" y="1755.2" font-size="17.6" fill="#3A3A3A" textLength="23.77" lengthAdjust="spacingAndGlyphs" font-family='"Liberation Sans", sans-serif' stroke="#fff" stroke-width="0.45">-10</text>
<line x1="160.2" y1="1780.6" x2="168.4" y2="1780.6" stroke="#000" stroke-width="3" stroke-linecap="butt"/>
<text x="128.46" y="1786.9" font-size="17.6" fill="#3A3A3A" textLength="27.17" lengthAdjust="spacingAndGlyphs" font-family='"Liberation Sans", sans-serif' stroke="#fff" stroke-width="0.45">-20</text>
<line x1="168.4" y1="1717.2" x2="1142.6" y2="1717.2" stroke="#DDDDDD" stroke-width="1" stroke-linecap="butt"/>
<line x1="168.5" y1="1717.2" x2="214" y2="1717.2" stroke="#A3A3A3" stroke-width="3.2" stroke-linecap="butt"/>
<line x1="236.78" y1="1717.2" x2="282.28" y2="1717.2" stroke="#A3A3A3" stroke-width="3.2" stroke-linecap="butt"/>
<line x1="305.06" y1="1717.2" x2="350.56" y2="1717.2" stroke="#A3A3A3" stroke-width="3.2" stroke-linecap="butt"/>
<line x1="373.34" y1="1717.2" x2="418.84" y2="1717.2" stroke="#A3A3A3" stroke-width="3.2" stroke-linecap="butt"/>
<line x1="441.62" y1="1717.2" x2="487.12" y2="1717.2" stroke="#A3A3A3" stroke-width="3.2" stroke-linecap="butt"/>
<line x1="509.9" y1="1717.2" x2="555.4" y2="1717.2" stroke="#A3A3A3" stroke-width="3.2" stroke-linecap="butt"/>
<line x1="578.18" y1="1717.2" x2="623.68" y2="1717.2" stroke="#A3A3A3" stroke-width="3.2" stroke-linecap="butt"/>
<line x1="646.46" y1="1717.2" x2="691.96" y2="1717.2" stroke="#A3A3A3" stroke-width="3.2" stroke-linecap="butt"/>
<line x1="714.74" y1="1717.2" x2="760.24" y2="1717.2" stroke="#A3A3A3" stroke-width="3.2" stroke-linecap="butt"/>
<line x1="783.02" y1="1717.2" x2="828.52" y2="1717.2" stroke="#A3A3A3" stroke-width="3.2" stroke-linecap="butt"/>
<line x1="851.3" y1="1717.2" x2="896.8" y2="1717.2" stroke="#A3A3A3" stroke-width="3.2" stroke-linecap="butt"/>
<line x1="919.58" y1="1717.2" x2="965.08" y2="1717.2" stroke="#A3A3A3" stroke-width="3.2" stroke-linecap="butt"/>
<line x1="987.86" y1="1717.2" x2="1033.36" y2="1717.2" stroke="#A3A3A3" stroke-width="3.2" stroke-linecap="butt"/>
<line x1="1056.14" y1="1717.2" x2="1101.64" y2="1717.2" stroke="#A3A3A3" stroke-width="3.2" stroke-linecap="butt"/>
<line x1="1124.42" y1="1717.2" x2="1142.6" y2="1717.2" stroke="#A3A3A3" stroke-width="3.2" stroke-linecap="butt"/>
<text transform="translate(107.6,1717.7) rotate(-90)" font-size="21.6" font-weight="bold" fill="#000" stroke="#000" stroke-width="0.9" text-anchor="middle" textLength="136.3" lengthAdjust="spacingAndGlyphs" font-family='"Liberation Sans", sans-serif'>Error (ppm)</text>
<circle cx="192.8" cy="1727.6" r="5.9" fill="#F7941D"/>
<circle cx="201.4" cy="1729.4" r="5.9" fill="#BE1E2D"/>
<circle cx="243.3" cy="1724.8" r="5.9" fill="#F7941D"/>
<circle cx="252" cy="1725.3" r="5.9" fill="#BE1E2D"/>
<circle cx="253.1" cy="1765.6" r="5.9" fill="#1FA04B"/>
<circle cx="284.5" cy="1725.7" r="5.9" fill="#1FA04B"/>
<circle cx="295.2" cy="1725.7" r="5.9" fill="#F7941D"/>
<circle cx="321" cy="1708.2" r="5.9" fill="#F7941D"/>
<circle cx="324.4" cy="1716.9" r="5.9" fill="#F7941D"/>
<circle cx="332.3" cy="1723" r="5.9" fill="#BE1E2D"/>
<circle cx="343" cy="1721.4" r="5.9" fill="#1FA04B"/>
<circle cx="357.8" cy="1726" r="5.9" fill="#BE1E2D"/>
<circle cx="393.8" cy="1722.6" r="5.9" fill="#1FA04B"/>
<circle cx="407.9" cy="1720.7" r="5.9" fill="#BE1E2D"/>
<circle cx="462.6" cy="1723" r="5.9" fill="#BE1E2D"/>
<circle cx="469" cy="1723" r="5.9" fill="#1FA04B"/>
<circle cx="488.8" cy="1763.5" r="5.9" fill="#BE1E2D"/>
<circle cx="491.3" cy="1723.7" r="5.9" fill="#6D6E71"/>
<circle cx="504.9" cy="1723.5" r="5.9" fill="#1FA04B"/>
<circle cx="507.7" cy="1719.1" r="5.9" fill="#BE1E2D"/>
<circle cx="530.4" cy="1724.2" r="5.9" fill="#F7941D"/>
<circle cx="538.9" cy="1721.4" r="5.9" fill="#BE1E2D"/>
<circle cx="544.5" cy="1721.4" r="5.9" fill="#BE1E2D"/>
<circle cx="556.6" cy="1726.9" r="5.9" fill="#1FA04B"/>
<circle cx="569.8" cy="1717.3" r="5.9" fill="#BE1E2D"/>
<circle cx="585.8" cy="1724.2" r="5.9" fill="#1FA04B"/>
<circle cx="594.9" cy="1739.4" r="5.9" fill="#F7941D"/>
<circle cx="595.8" cy="1720.3" r="5.9" fill="#F7941D"/>
<circle cx="598.7" cy="1728.7" r="5.9" fill="#BE1E2D"/>
<circle cx="604" cy="1729.2" r="5.9" fill="#BE1E2D"/>
<circle cx="615.4" cy="1723.7" r="5.9" fill="#1FA04B"/>
<circle cx="615.4" cy="1749.9" r="5.9" fill="#1FA04B"/>
<circle cx="636.3" cy="1731.4" r="5.9" fill="#F7941D"/>
<circle cx="640.4" cy="1739" r="5.9" fill="#BE1E2D"/>
<circle cx="640.9" cy="1682.8" r="5.9" fill="#1FA04B"/>
<circle cx="646.5" cy="1726" r="5.9" fill="#F7941D"/>
<circle cx="658.7" cy="1724.2" r="5.9" fill="#F7941D"/>
<circle cx="663.2" cy="1721.2" r="5.9" fill="#BE1E2D"/>
<circle cx="681.2" cy="1724.2" r="5.9" fill="#6D6E71"/>
<circle cx="704" cy="1721.9" r="5.9" fill="#BE1E2D"/>
<circle cx="716.5" cy="1723.7" r="5.9" fill="#1FA04B"/>
<circle cx="747.5" cy="1724.2" r="5.9" fill="#F7941D"/>
<circle cx="755.9" cy="1726.4" r="5.9" fill="#BE1E2D"/>
<circle cx="766.8" cy="1724.8" r="5.9" fill="#1FA04B"/>
<circle cx="776.8" cy="1724.6" r="5.9" fill="#F7941D"/>
<circle cx="784.8" cy="1732.1" r="5.9" fill="#BE1E2D"/>
<circle cx="806" cy="1723.7" r="5.9" fill="#F7941D"/>
<circle cx="813.9" cy="1718.7" r="5.9" fill="#BE1E2D"/>
<circle cx="832.1" cy="1728.3" r="5.9" fill="#1FA04B"/>
<circle cx="857.2" cy="1724.2" r="5.9" fill="#F7941D"/>
<circle cx="865.2" cy="1737.4" r="5.9" fill="#BE1E2D"/>
<circle cx="893.5" cy="1726" r="5.9" fill="#F7941D"/>
<circle cx="902" cy="1734.9" r="5.9" fill="#BE1E2D"/>
<circle cx="968.6" cy="1725.6" r="5.9" fill="#F7941D"/>
<circle cx="977" cy="1721.8" r="5.9" fill="#BE1E2D"/>
<circle cx="1019.2" cy="1724.8" r="5.9" fill="#F7941D"/>
<circle cx="1038.2" cy="1729.9" r="5.9" fill="#1FA04B"/>
<circle cx="1067.3" cy="1731.1" r="5.9" fill="#1FA04B"/>
<circle cx="1077.5" cy="1740" r="5.9" fill="#F7941D"/>
<circle cx="1118.7" cy="1724.8" r="5.9" fill="#1FA04B"/>
<text x="441.01" y="1168.4" font-size="22.5" fill="#000" textLength="85.7" lengthAdjust="spacingAndGlyphs" font-family='"Liberation Sans", sans-serif'>[M+3H]+</text>
<text x="526.2" y="1160" font-size="13" fill="#000" font-weight="bold" textLength="7.5" lengthAdjust="spacingAndGlyphs" font-family='"Liberation Sans", sans-serif'>3</text>
<text x="631.21" y="1056.2" font-size="22.5" fill="#000" textLength="85.7" lengthAdjust="spacingAndGlyphs" font-family='"Liberation Sans", sans-serif'>[M+3H]+</text>
<text x="716.4" y="1047.8" font-size="13" fill="#000" font-weight="bold" textLength="7.5" lengthAdjust="spacingAndGlyphs" font-family='"Liberation Sans", sans-serif'>2</text>
<text x="-0.99" y="1897.2" font-size="47.8" fill="#000" font-weight="bold" textLength="33.25" lengthAdjust="spacingAndGlyphs" font-family='"Liberation Sans", sans-serif'>C</text>
<path d="M-7.5,1 L7.5,1 M0,1 L0,23 M-7.5,23 L7.5,23" transform="translate(460.8,1841.3) scale(1,1)" fill="none" stroke="#111" stroke-width="2.0" stroke-linejoin="miter"/>
<path d="M8,1.2 L8,6.5 M8,5 C6.5,2 4,0.9 0.5,0.9 C-5,0.9 -8,3.5 -8,6.8 C-8,10.3 -5,11.3 0,12.2 C5.5,13.1 8.6,14.6 8.6,18 C8.6,21.3 5.5,23.1 0.5,23.1 C-3.8,23.1 -6.8,21.5 -8.5,19 M-8.5,17.6 L-8.5,23.3" transform="translate(501.2,1841.3) scale(1,1)" fill="none" stroke="#111" stroke-width="2.0" stroke-linejoin="miter"/>
<path d="M-11,1 L9.5,1 M9.5,0.1 L9.5,6.5 M-6,1 L-6,23 M-11,23 L0.5,23 M-6,12 L4.5,12 M4.5,8 L4.5,16" transform="translate(541.6,1841.3) scale(1,1)" fill="none" stroke="#111" stroke-width="2.0" stroke-linejoin="miter"/>
<path d="M-9.6,1 L9.6,1 M-9.6,0 L-9.6,8 M9.6,0 L9.6,8 M0,1 L0,23 M-6.5,23 L6.5,23" transform="translate(582,1841.3) scale(1,1)" fill="none" stroke="#111" stroke-width="2.0" stroke-linejoin="miter"/>
<path d="M-12,1 L-6,1 M-8.5,1 L-8.5,23 M-12,23 L-4.5,23 M-8.5,1 L8.5,23.4 M8.5,23.4 L8.5,1 M4.5,1 L12,1" transform="translate(622.4,1841.3) scale(1,1)" fill="none" stroke="#111" stroke-width="2.0" stroke-linejoin="miter"/>
<path d="M-10,1 L-1.5,1 C6,1 10,5.6 10,12 C10,18.4 6,23 -1.5,23 L-10,23 M-6,1 L-6,23" transform="translate(662.8,1841.3) scale(1,1)" fill="none" stroke="#111" stroke-width="2.0" stroke-linejoin="miter"/>
<path d="M7.4,10 C6,8 3.5,7.3 0,7.3 C-4.5,7.3 -7.3,8.8 -7.3,11.2 C-7.3,13.8 -4.5,14.5 0,15 C4.5,15.5 7.6,16.5 7.6,19.2 C7.6,21.7 4.5,22.6 0,22.6 C-3.5,22.6 -6,21.8 -7.6,20 M7.4,7.2 L7.4,11.4 M-7.6,18.5 L-7.6,22.8" transform="translate(703.2,1841.3) scale(1.02,1.0)" fill="none" stroke="#ED1C24" stroke-width="3.9" stroke-linejoin="round"/>
<path d="M-7,1 L0.5,1 M0.5,1 L9,23 M-1.5,1 L-9,23 M-6.3,15.5 L6.3,15.5 M-12,23 L-5,23 M5,23 L12,23" transform="translate(743.6,1841.3) scale(1,1)" fill="none" stroke="#111" stroke-width="2.0" stroke-linejoin="miter"/>
<path d="M-12,1 L-4.5,1 M4.5,1 L12,1 M-9.5,1 L0,23.3 M9.5,1 L0,23.3" transform="translate(784,1841.3) scale(1,1)" fill="none" stroke="#111" stroke-width="2.0" stroke-linejoin="miter"/>
<path d="M8,1.2 L8,6.5 M8,5 C6.5,2 4,0.9 0.5,0.9 C-5,0.9 -8,3.5 -8,6.8 C-8,10.3 -5,11.3 0,12.2 C5.5,13.1 8.6,14.6 8.6,18 C8.6,21.3 5.5,23.1 0.5,23.1 C-3.8,23.1 -6.8,21.5 -8.5,19 M-8.5,17.6 L-8.5,23.3" transform="translate(824.4,1841.3) scale(1,1)" fill="none" stroke="#111" stroke-width="2.0" stroke-linejoin="miter"/>
<path d="M-11,1 L0.5,1 C6,1 9,3.5 9,7 C9,10.5 6,13 0.5,13 L-7,13 M-7,1 L-7,23 M-11,23 L-2,23 M1,13 C4.5,14.5 7,18 9,23 L12.5,23" transform="translate(864.8,1841.3) scale(1,1)" fill="none" stroke="#111" stroke-width="2.0" stroke-linejoin="miter"/>
<polyline points="481,1865.3 481,1886.8 491,1896.8" fill="none" stroke="#F7941D" stroke-width="3.2" stroke-linejoin="miter" stroke-linecap="butt"/>
<polyline points="481,1865.3 481,1881.8 491,1891.8" fill="none" stroke="#BE1E2D" stroke-width="3.2" stroke-linejoin="miter" stroke-linecap="butt"/>
<polyline points="511.4,1838.3 521.4,1848.3 521.4,1865.3" fill="none" stroke="#1C75BC" stroke-width="3.2" stroke-linejoin="miter" stroke-linecap="butt"/>
<polyline points="521.4,1865.3 521.4,1886.8 531.4,1896.8" fill="none" stroke="#F7941D" stroke-width="3.2" stroke-linejoin="miter" stroke-linecap="butt"/>
<polyline points="521.4,1865.3 521.4,1881.8 531.4,1891.8" fill="none" stroke="#BE1E2D" stroke-width="3.2" stroke-linejoin="miter" stroke-linecap="butt"/>
<polyline points="561.8,1865.3 561.8,1886.8 571.8,1896.8" fill="none" stroke="#F7941D" stroke-width="3.2" stroke-linejoin="miter" stroke-linecap="butt"/>
<polyline points="561.8,1865.3 561.8,1881.8 571.8,1891.8" fill="none" stroke="#BE1E2D" stroke-width="3.2" stroke-linejoin="miter" stroke-linecap="butt"/>
<polyline points="602.2,1865.3 602.2,1886.8 612.2,1896.8" fill="none" stroke="#F7941D" stroke-width="3.2" stroke-linejoin="miter" stroke-linecap="butt"/>
<polyline points="602.2,1865.3 602.2,1881.8 612.2,1891.8" fill="none" stroke="#BE1E2D" stroke-width="3.2" stroke-linejoin="miter" stroke-linecap="butt"/>
<polyline points="642.6,1865.3 642.6,1886.8 652.6,1896.8" fill="none" stroke="#F7941D" stroke-width="3.2" stroke-linejoin="miter" stroke-linecap="butt"/>
<polyline points="642.6,1865.3 642.6,1881.8 652.6,1891.8" fill="none" stroke="#BE1E2D" stroke-width="3.2" stroke-linejoin="miter" stroke-linecap="butt"/>
<polyline points="683,1865.3 683,1886.8 693,1896.8" fill="none" stroke="#F7941D" stroke-width="3.2" stroke-linejoin="miter" stroke-linecap="butt"/>
<polyline points="683,1865.3 683,1881.8 693,1891.8" fill="none" stroke="#BE1E2D" stroke-width="3.2" stroke-linejoin="miter" stroke-linecap="butt"/>
<polyline points="723.4,1865.3 723.4,1886.8 733.4,1896.8" fill="none" stroke="#F7941D" stroke-width="3.2" stroke-linejoin="miter" stroke-linecap="butt"/>
<polyline points="723.4,1865.3 723.4,1881.8 733.4,1891.8" fill="none" stroke="#BE1E2D" stroke-width="3.2" stroke-linejoin="miter" stroke-linecap="butt"/>
<polyline points="763.8,1865.3 763.8,1886.8 773.8,1896.8" fill="none" stroke="#F7941D" stroke-width="3.2" stroke-linejoin="miter" stroke-linecap="butt"/>
<polyline points="763.8,1865.3 763.8,1881.8 773.8,1891.8" fill="none" stroke="#BE1E2D" stroke-width="3.2" stroke-linejoin="miter" stroke-linecap="butt"/>
<polyline points="794.2,1832.8 804.2,1842.8 804.2,1865.3" fill="none" stroke="#1FA04B" stroke-width="3.2" stroke-linejoin="miter" stroke-linecap="butt"/>
<polyline points="794.2,1838.3 804.2,1848.3 804.2,1865.3" fill="none" stroke="#1C75BC" stroke-width="3.2" stroke-linejoin="miter" stroke-linecap="butt"/>
<polyline points="804.2,1865.3 804.2,1886.8 814.2,1896.8" fill="none" stroke="#F7941D" stroke-width="3.2" stroke-linejoin="miter" stroke-linecap="butt"/>
<polyline points="804.2,1865.3 804.2,1881.8 814.2,1891.8" fill="none" stroke="#BE1E2D" stroke-width="3.2" stroke-linejoin="miter" stroke-linecap="butt"/>
<polyline points="834.6,1832.8 844.6,1842.8 844.6,1865.3" fill="none" stroke="#1FA04B" stroke-width="3.2" stroke-linejoin="miter" stroke-linecap="butt"/>
<polyline points="834.6,1838.3 844.6,1848.3 844.6,1865.3" fill="none" stroke="#1C75BC" stroke-width="3.2" stroke-linejoin="miter" stroke-linecap="butt"/>
<polyline points="844.6,1865.3 844.6,1881.8 854.6,1891.8" fill="none" stroke="#BE1E2D" stroke-width="3.2" stroke-linejoin="miter" stroke-linecap="butt"/>
<text x="167.62" y="1928.5" font-size="25" fill="#111" textLength="188.53" lengthAdjust="spacingAndGlyphs" font-family='"Liberation Sans", sans-serif' stroke="#111" stroke-width="0.25">Precursor m/z:</text>
<text x="365.89" y="1928.5" font-size="25" fill="#111" textLength="106.17" lengthAdjust="spacingAndGlyphs" font-family='"Liberation Sans", sans-serif' stroke="#fff" stroke-width="0.3">756.8625</text>
<text x="590.71" y="1928.5" font-size="25" fill="#111" textLength="104.58" lengthAdjust="spacingAndGlyphs" font-family='"Liberation Sans", sans-serif' stroke="#111" stroke-width="0.25">Charge:</text>
<text x="698.23" y="1928.5" font-size="25" fill="#111" textLength="27.27" lengthAdjust="spacingAndGlyphs" font-family='"Liberation Sans", sans-serif' stroke="#fff" stroke-width="0.3">+2</text>
<text x="823.8" y="1928.5" font-size="25" fill="#111" textLength="257.07" lengthAdjust="spacingAndGlyphs" font-family='"Liberation Sans", sans-serif' stroke="#111" stroke-width="0.25">Fragmented Bonds:</text>
<text x="1080.51" y="1928.5" font-size="25" fill="#111" textLength="62.06" lengthAdjust="spacingAndGlyphs" font-family='"Liberation Sans", sans-serif' stroke="#fff" stroke-width="0.3">10/10</text>
<text x="197.96" y="1998.3" font-size="35" fill="#231F20" textLength="232.48" lengthAdjust="spacingAndGlyphs" font-family='"Liberation Sans", sans-serif'>Flagellar hook</text>
<text x="198.66" y="2043.8" font-size="35" fill="#231F20" textLength="325.2" lengthAdjust="spacingAndGlyphs" font-family='"Liberation Sans", sans-serif'>protein FlgE (flgE-1)</text>
<text x="198.17" y="2092.3" font-size="35" fill="#231F20" textLength="227.96" lengthAdjust="spacingAndGlyphs" font-family='"Liberation Sans", sans-serif'>B6JM94 -S287</text>
<line x1="169.5" y1="1948.2" x2="169.5" y2="2493.7" stroke="#000" stroke-width="3.2" stroke-linecap="butt"/>
<line x1="161.3" y1="1949.8" x2="171.1" y2="1949.8" stroke="#000" stroke-width="3.2" stroke-linecap="butt"/>
<line x1="161.3" y1="2485.2" x2="169.5" y2="2485.2" stroke="#000" stroke-width="3" stroke-linecap="butt"/>
<text x="132.32" y="2491.5" font-size="17.6" fill="#3A3A3A" textLength="24.37" lengthAdjust="spacingAndGlyphs" font-family='"Liberation Sans", sans-serif' stroke="#fff" stroke-width="0.45">0.0</text>
<line x1="161.3" y1="2434.2" x2="169.5" y2="2434.2" stroke="#000" stroke-width="3" stroke-linecap="butt"/>
<text x="138.35" y="2440.5" font-size="17.6" fill="#3A3A3A" textLength="18.3" lengthAdjust="spacingAndGlyphs" font-family='"Liberation Sans", sans-serif' stroke="#fff" stroke-width="0.45">10</text>
<line x1="161.3" y1="2383.2" x2="169.5" y2="2383.2" stroke="#000" stroke-width="3" stroke-linecap="butt"/>
<text x="135.44" y="2389.5" font-size="17.6" fill="#3A3A3A" textLength="21.31" lengthAdjust="spacingAndGlyphs" font-family='"Liberation Sans", sans-serif' stroke="#fff" stroke-width="0.45">20</text>
<line x1="161.3" y1="2332.2" x2="169.5" y2="2332.2" stroke="#000" stroke-width="3" stroke-linecap="butt"/>
<text x="135.68" y="2338.5" font-size="17.6" fill="#3A3A3A" textLength="21.06" lengthAdjust="spacingAndGlyphs" font-family='"Liberation Sans", sans-serif' stroke="#fff" stroke-width="0.45">30</text>
<line x1="161.3" y1="2281.2" x2="169.5" y2="2281.2" stroke="#000" stroke-width="3" stroke-linecap="butt"/>
<text x="135.97" y="2287.5" font-size="17.6" fill="#3A3A3A" textLength="20.76" lengthAdjust="spacingAndGlyphs" font-family='"Liberation Sans", sans-serif' stroke="#fff" stroke-width="0.45">40</text>
<line x1="161.3" y1="2230.2" x2="169.5" y2="2230.2" stroke="#000" stroke-width="3" stroke-linecap="butt"/>
<text x="135.64" y="2236.5" font-size="17.6" fill="#3A3A3A" textLength="21.1" lengthAdjust="spacingAndGlyphs" font-family='"Liberation Sans", sans-serif' stroke="#fff" stroke-width="0.45">50</text>
<line x1="161.3" y1="2179.2" x2="169.5" y2="2179.2" stroke="#000" stroke-width="3" stroke-linecap="butt"/>
<text x="135.43" y="2185.5" font-size="17.6" fill="#3A3A3A" textLength="21.32" lengthAdjust="spacingAndGlyphs" font-family='"Liberation Sans", sans-serif' stroke="#fff" stroke-width="0.45">60</text>
<line x1="161.3" y1="2128.2" x2="169.5" y2="2128.2" stroke="#000" stroke-width="3" stroke-linecap="butt"/>
<text x="135.42" y="2134.5" font-size="17.6" fill="#3A3A3A" textLength="21.33" lengthAdjust="spacingAndGlyphs" font-family='"Liberation Sans", sans-serif' stroke="#fff" stroke-width="0.45">70</text>
<line x1="161.3" y1="2077.2" x2="169.5" y2="2077.2" stroke="#000" stroke-width="3" stroke-linecap="butt"/>
<text x="135.57" y="2083.5" font-size="17.6" fill="#3A3A3A" textLength="21.17" lengthAdjust="spacingAndGlyphs" font-family='"Liberation Sans", sans-serif' stroke="#fff" stroke-width="0.45">80</text>
<line x1="161.3" y1="2026.2" x2="169.5" y2="2026.2" stroke="#000" stroke-width="3" stroke-linecap="butt"/>
<text x="135.5" y="2032.5" font-size="17.6" fill="#3A3A3A" textLength="21.24" lengthAdjust="spacingAndGlyphs" font-family='"Liberation Sans", sans-serif' stroke="#fff" stroke-width="0.45">90</text>
<line x1="161.3" y1="1975.2" x2="169.5" y2="1975.2" stroke="#000" stroke-width="3" stroke-linecap="butt"/>
<text x="128.52" y="1981.5" font-size="17.6" fill="#3A3A3A" textLength="28.14" lengthAdjust="spacingAndGlyphs" font-family='"Liberation Sans", sans-serif' stroke="#fff" stroke-width="0.45">100</text>
<line x1="161.3" y1="2485.2" x2="1157.6" y2="2485.2" stroke="#000" stroke-width="3.5" stroke-linecap="butt"/>
<line x1="1156" y1="2485.2" x2="1156" y2="2493.7" stroke="#000" stroke-width="3.2" stroke-linecap="butt"/>
<line x1="259.2" y1="2485.2" x2="259.2" y2="2493.7" stroke="#000" stroke-width="3.2" stroke-linecap="butt"/>
<text x="243.56" y="2509.8" font-size="17.6" fill="#3A3A3A" textLength="31.06" lengthAdjust="spacingAndGlyphs" font-family='"Liberation Sans", sans-serif' stroke="#fff" stroke-width="0.45">200</text>
<line x1="391.6" y1="2485.2" x2="391.6" y2="2493.7" stroke="#000" stroke-width="3.2" stroke-linecap="butt"/>
<text x="376.48" y="2509.8" font-size="17.6" fill="#3A3A3A" textLength="30.53" lengthAdjust="spacingAndGlyphs" font-family='"Liberation Sans", sans-serif' stroke="#fff" stroke-width="0.45">400</text>
<line x1="524" y1="2485.2" x2="524" y2="2493.7" stroke="#000" stroke-width="3.2" stroke-linecap="butt"/>
<text x="508.35" y="2509.8" font-size="17.6" fill="#3A3A3A" textLength="31.07" lengthAdjust="spacingAndGlyphs" font-family='"Liberation Sans", sans-serif' stroke="#fff" stroke-width="0.45">600</text>
<line x1="656.4" y1="2485.2" x2="656.4" y2="2493.7" stroke="#000" stroke-width="3.2" stroke-linecap="butt"/>
<text x="640.89" y="2509.8" font-size="17.6" fill="#3A3A3A" textLength="30.93" lengthAdjust="spacingAndGlyphs" font-family='"Liberation Sans", sans-serif' stroke="#fff" stroke-width="0.45">800</text>
<line x1="788.8" y1="2485.2" x2="788.8" y2="2493.7" stroke="#000" stroke-width="3.2" stroke-linecap="butt"/>
<text x="767.74" y="2509.8" font-size="17.6" fill="#3A3A3A" textLength="41.51" lengthAdjust="spacingAndGlyphs" font-family='"Liberation Sans", sans-serif' stroke="#fff" stroke-width="0.45">1,000</text>
<line x1="921.2" y1="2485.2" x2="921.2" y2="2493.7" stroke="#000" stroke-width="3.2" stroke-linecap="butt"/>
<text x="900.14" y="2509.8" font-size="17.6" fill="#3A3A3A" textLength="41.51" lengthAdjust="spacingAndGlyphs" font-family='"Liberation Sans", sans-serif' stroke="#fff" stroke-width="0.45">1,200</text>
<line x1="1053.6" y1="2485.2" x2="1053.6" y2="2493.7" stroke="#000" stroke-width="3.2" stroke-linecap="butt"/>
<text x="1032.54" y="2509.8" font-size="17.6" fill="#3A3A3A" textLength="41.51" lengthAdjust="spacingAndGlyphs" font-family='"Liberation Sans", sans-serif' stroke="#fff" stroke-width="0.45">1,400</text>
<text transform="translate(107.2,2217) rotate(-90)" font-size="21.6" font-weight="bold" fill="#000" stroke="#000" stroke-width="0.9" text-anchor="middle" textLength="289" lengthAdjust="spacingAndGlyphs" font-family='"Liberation Sans", sans-serif'>Relative Abundance (%)</text>
<text x="612.14" y="2536.9" font-size="23.5" fill="#000" font-weight="bold" font-style="italic" textLength="44.44" lengthAdjust="spacingAndGlyphs" font-family='"Liberation Sans", sans-serif' stroke="#000" stroke-width="1.3">m/z</text>
<line x1="259.2" y1="2572.3" x2="259.2" y2="2563.8" stroke="#000" stroke-width="3.2" stroke-linecap="butt"/>
<text x="243.56" y="2560.4" font-size="17.6" fill="#3A3A3A" textLength="31.06" lengthAdjust="spacingAndGlyphs" font-family='"Liberation Sans", sans-serif' stroke="#fff" stroke-width="0.45">200</text>
<line x1="391.6" y1="2572.3" x2="391.6" y2="2563.8" stroke="#000" stroke-width="3.2" stroke-linecap="butt"/>
<text x="376.48" y="2560.4" font-size="17.6" fill="#3A3A3A" textLength="30.53" lengthAdjust="spacingAndGlyphs" font-family='"Liberation Sans", sans-serif' stroke="#fff" stroke-width="0.45">400</text>
<line x1="524" y1="2572.3" x2="524" y2="2563.8" stroke="#000" stroke-width="3.2" stroke-linecap="butt"/>
<text x="508.35" y="2560.4" font-size="17.6" fill="#3A3A3A" textLength="31.07" lengthAdjust="spacingAndGlyphs" font-family='"Liberation Sans", sans-serif' stroke="#fff" stroke-width="0.45">600</text>
<line x1="656.4" y1="2572.3" x2="656.4" y2="2563.8" stroke="#000" stroke-width="3.2" stroke-linecap="butt"/>
<text x="640.89" y="2560.4" font-size="17.6" fill="#3A3A3A" textLength="30.93" lengthAdjust="spacingAndGlyphs" font-family='"Liberation Sans", sans-serif' stroke="#fff" stroke-width="0.45">800</text>
<line x1="788.8" y1="2572.3" x2="788.8" y2="2563.8" stroke="#000" stroke-width="3.2" stroke-linecap="butt"/>
<text x="767.74" y="2560.4" font-size="17.6" fill="#3A3A3A" textLength="41.51" lengthAdjust="spacingAndGlyphs" font-family='"Liberation Sans", sans-serif' stroke="#fff" stroke-width="0.45">1,000</text>
<line x1="921.2" y1="2572.3" x2="921.2" y2="2563.8" stroke="#000" stroke-width="3.2" stroke-linecap="butt"/>
<text x="900.14" y="2560.4" font-size="17.6" fill="#3A3A3A" textLength="41.51" lengthAdjust="spacingAndGlyphs" font-family='"Liberation Sans", sans-serif' stroke="#fff" stroke-width="0.45">1,200</text>
<line x1="1053.6" y1="2572.3" x2="1053.6" y2="2563.8" stroke="#000" stroke-width="3.2" stroke-linecap="butt"/>
<text x="1032.54" y="2560.4" font-size="17.6" fill="#3A3A3A" textLength="41.51" lengthAdjust="spacingAndGlyphs" font-family='"Liberation Sans", sans-serif' stroke="#fff" stroke-width="0.45">1,400</text>
<line x1="169.5" y1="2563.8" x2="169.5" y2="2714.6" stroke="#000" stroke-width="3.2" stroke-linecap="butt"/>
<line x1="1156" y1="2563.8" x2="1156" y2="2714.6" stroke="#000" stroke-width="3.2" stroke-linecap="butt"/>
<line x1="161.3" y1="2572.3" x2="1157.6" y2="2572.3" stroke="#000" stroke-width="3.4" stroke-linecap="butt"/>
<line x1="161.3" y1="2713" x2="1157.6" y2="2713" stroke="#000" stroke-width="3.4" stroke-linecap="butt"/>
<line x1="161.3" y1="2578.2" x2="169.5" y2="2578.2" stroke="#000" stroke-width="3" stroke-linecap="butt"/>
<text x="135.44" y="2584.5" font-size="17.6" fill="#3A3A3A" textLength="21.31" lengthAdjust="spacingAndGlyphs" font-family='"Liberation Sans", sans-serif' stroke="#fff" stroke-width="0.45">20</text>
<line x1="161.3" y1="2610.7" x2="169.5" y2="2610.7" stroke="#000" stroke-width="3" stroke-linecap="butt"/>
<text x="138.35" y="2617" font-size="17.6" fill="#3A3A3A" textLength="18.3" lengthAdjust="spacingAndGlyphs" font-family='"Liberation Sans", sans-serif' stroke="#fff" stroke-width="0.45">10</text>
<line x1="161.3" y1="2643.2" x2="169.5" y2="2643.2" stroke="#000" stroke-width="3" stroke-linecap="butt"/>
<text x="145.4" y="2649.5" font-size="17.6" fill="#3A3A3A" textLength="11.4" lengthAdjust="spacingAndGlyphs" font-family='"Liberation Sans", sans-serif' stroke="#fff" stroke-width="0.45">0</text>
<line x1="161.3" y1="2675.7" x2="169.5" y2="2675.7" stroke="#000" stroke-width="3" stroke-linecap="butt"/>
<text x="132.87" y="2682" font-size="17.6" fill="#3A3A3A" textLength="23.77" lengthAdjust="spacingAndGlyphs" font-family='"Liberation Sans", sans-serif' stroke="#fff" stroke-width="0.45">-10</text>
<line x1="161.3" y1="2708.2" x2="169.5" y2="2708.2" stroke="#000" stroke-width="3" stroke-linecap="butt"/>
<text x="129.56" y="2714.5" font-size="17.6" fill="#3A3A3A" textLength="27.17" lengthAdjust="spacingAndGlyphs" font-family='"Liberation Sans", sans-serif' stroke="#fff" stroke-width="0.45">-20</text>
<line x1="169.5" y1="2643.2" x2="1156" y2="2643.2" stroke="#DDDDDD" stroke-width="1" stroke-linecap="butt"/>
<line x1="170" y1="2643.2" x2="215.5" y2="2643.2" stroke="#A3A3A3" stroke-width="3.2" stroke-linecap="butt"/>
<line x1="238.28" y1="2643.2" x2="283.78" y2="2643.2" stroke="#A3A3A3" stroke-width="3.2" stroke-linecap="butt"/>
<line x1="306.56" y1="2643.2" x2="352.06" y2="2643.2" stroke="#A3A3A3" stroke-width="3.2" stroke-linecap="butt"/>
<line x1="374.84" y1="2643.2" x2="420.34" y2="2643.2" stroke="#A3A3A3" stroke-width="3.2" stroke-linecap="butt"/>
<line x1="443.12" y1="2643.2" x2="488.62" y2="2643.2" stroke="#A3A3A3" stroke-width="3.2" stroke-linecap="butt"/>
<line x1="511.4" y1="2643.2" x2="556.9" y2="2643.2" stroke="#A3A3A3" stroke-width="3.2" stroke-linecap="butt"/>
<line x1="579.68" y1="2643.2" x2="625.18" y2="2643.2" stroke="#A3A3A3" stroke-width="3.2" stroke-linecap="butt"/>
<line x1="647.96" y1="2643.2" x2="693.46" y2="2643.2" stroke="#A3A3A3" stroke-width="3.2" stroke-linecap="butt"/>
<line x1="716.24" y1="2643.2" x2="761.74" y2="2643.2" stroke="#A3A3A3" stroke-width="3.2" stroke-linecap="butt"/>
<line x1="784.52" y1="2643.2" x2="830.02" y2="2643.2" stroke="#A3A3A3" stroke-width="3.2" stroke-linecap="butt"/>
<line x1="852.8" y1="2643.2" x2="898.3" y2="2643.2" stroke="#A3A3A3" stroke-width="3.2" stroke-linecap="butt"/>
<line x1="921.08" y1="2643.2" x2="966.58" y2="2643.2" stroke="#A3A3A3" stroke-width="3.2" stroke-linecap="butt"/>
<line x1="989.36" y1="2643.2" x2="1034.86" y2="2643.2" stroke="#A3A3A3" stroke-width="3.2" stroke-linecap="butt"/>
<line x1="1057.64" y1="2643.2" x2="1103.14" y2="2643.2" stroke="#A3A3A3" stroke-width="3.2" stroke-linecap="butt"/>
<line x1="1125.92" y1="2643.2" x2="1156" y2="2643.2" stroke="#A3A3A3" stroke-width="3.2" stroke-linecap="butt"/>
<text transform="translate(107.8,2642.4) rotate(-90)" font-size="21.6" font-weight="bold" fill="#000" stroke="#000" stroke-width="0.9" text-anchor="middle" textLength="137.7" lengthAdjust="spacingAndGlyphs" font-family='"Liberation Sans", sans-serif'>Error (ppm)</text>
<circle cx="242.3" cy="2615.5" r="5.9" fill="#BE1E2D"/>
<circle cx="259.4" cy="2654.5" r="5.9" fill="#1C75BC"/>
<circle cx="289.7" cy="2635.5" r="5.9" fill="#F7941D"/>
<circle cx="300.2" cy="2667.2" r="5.9" fill="#BE1E2D"/>
<circle cx="355.2" cy="2619.1" r="5.9" fill="#F7941D"/>
<circle cx="365.8" cy="2647.2" r="5.9" fill="#BE1E2D"/>
<circle cx="402.2" cy="2636.6" r="5.9" fill="#F7941D"/>
<circle cx="412.4" cy="2642.8" r="5.9" fill="#BE1E2D"/>
<circle cx="669.2" cy="2642.7" r="5.9" fill="#F7941D"/>
<circle cx="679.6" cy="2642.7" r="5.9" fill="#BE1E2D"/>
<circle cx="744.7" cy="2638.8" r="5.9" fill="#F7941D"/>
<circle cx="755.6" cy="2636.2" r="5.9" fill="#BE1E2D"/>
<circle cx="820.8" cy="2634.3" r="5.9" fill="#F7941D"/>
<circle cx="831.7" cy="2647.8" r="5.9" fill="#BE1E2D"/>
<circle cx="887.8" cy="2633.7" r="5.9" fill="#F7941D"/>
<circle cx="898.2" cy="2605.9" r="5.9" fill="#BE1E2D"/>
<circle cx="955.5" cy="2613" r="5.9" fill="#1C75BC"/>
<circle cx="966.5" cy="2663.3" r="5.9" fill="#1FA04B"/>
<circle cx="984.6" cy="2633" r="5.9" fill="#F7941D"/>
<circle cx="995.5" cy="2625.9" r="5.9" fill="#BE1E2D"/>
<circle cx="1012.9" cy="2623.3" r="5.9" fill="#1C75BC"/>
<circle cx="1023.9" cy="2637.5" r="5.9" fill="#1FA04B"/>
<circle cx="1042.6" cy="2635.6" r="5.9" fill="#F7941D"/>
<circle cx="1053.6" cy="2627.8" r="5.9" fill="#BE1E2D"/>
<circle cx="1128.4" cy="2631.1" r="5.9" fill="#6D6E71"/>
<text x="1090.33" y="2198.8" font-size="22.5" fill="#000" textLength="69.58" lengthAdjust="spacingAndGlyphs" font-family='"Liberation Sans", sans-serif'>[M+2H</text>
<text x="554.4" y="638" font-size="22.5" fill="#000" stroke="#000" stroke-width="0.45" font-family='"Liberation Sans", sans-serif'>z</text>
<circle cx="570.1" cy="630.2" r="2.9" fill="#000"/>
<text x="574.5" y="641" font-size="13" fill="#000" stroke="#000" stroke-width="0.55" font-family='"Liberation Sans", sans-serif'>9</text>
<text x="792.5" y="632" font-size="22.5" fill="#000" stroke="#000" stroke-width="0.45" font-family='"Liberation Sans", sans-serif'>z</text>
<circle cx="808.2" cy="624.2" r="2.9" fill="#000"/>
<path d="M813.2,628.36 L815.5,626.26 L815.5,635" fill="none" stroke="#000" stroke-width="1.6" stroke-linejoin="miter"/>
<text x="817.5" y="635" font-size="13" fill="#000" stroke="#000" stroke-width="0.55" font-family='"Liberation Sans", sans-serif'>5</text>
<text x="805.9" y="637.4" font-size="22.5" fill="#000" stroke="#000" stroke-width="0.45" font-family='"Liberation Sans", sans-serif'>y</text>
<path d="M817.6,633.76 L819.9,631.66 L819.9,640.4" fill="none" stroke="#000" stroke-width="1.6" stroke-linejoin="miter"/>
<text x="821.9" y="640.4" font-size="13" fill="#000" stroke="#000" stroke-width="0.55" font-family='"Liberation Sans", sans-serif'>5</text>
<text x="836.9" y="616.3" font-size="22.5" fill="#000" stroke="#000" stroke-width="0.45" font-family='"Liberation Sans", sans-serif'>z</text>
<circle cx="852.6" cy="608.5" r="2.9" fill="#000"/>
<path d="M857.6,612.66 L859.9,610.56 L859.9,619.3" fill="none" stroke="#000" stroke-width="1.6" stroke-linejoin="miter"/>
<text x="861.9" y="619.3" font-size="13" fill="#000" stroke="#000" stroke-width="0.55" font-family='"Liberation Sans", sans-serif'>6</text>
<text x="849.7" y="629" font-size="22.5" fill="#000" stroke="#000" stroke-width="0.45" font-family='"Liberation Sans", sans-serif'>y</text>
<path d="M861.4,625.36 L863.7,623.26 L863.7,632" fill="none" stroke="#000" stroke-width="1.6" stroke-linejoin="miter"/>
<text x="865.7" y="632" font-size="13" fill="#000" stroke="#000" stroke-width="0.55" font-family='"Liberation Sans", sans-serif'>6</text>
<text x="980.2" y="617" font-size="22.5" fill="#000" stroke="#000" stroke-width="0.45" font-family='"Liberation Sans", sans-serif'>c</text>
<path d="M991.7,613.36 L994,611.26 L994,620" fill="none" stroke="#000" stroke-width="1.6" stroke-linejoin="miter"/>
<text x="996" y="620" font-size="13" fill="#000" stroke="#000" stroke-width="0.55" font-family='"Liberation Sans", sans-serif'>6</text>
<text x="1038.5" y="518.6" font-size="22.5" fill="#000" stroke="#000" stroke-width="0.45" font-family='"Liberation Sans", sans-serif'>c</text>
<path d="M1050,514.96 L1052.3,512.86 L1052.3,521.6" fill="none" stroke="#000" stroke-width="1.6" stroke-linejoin="miter"/>
<text x="1054.3" y="521.6" font-size="13" fill="#000" stroke="#000" stroke-width="0.55" font-family='"Liberation Sans", sans-serif'>7</text>
<text x="1041.4" y="616.2" font-size="22.5" fill="#000" stroke="#000" stroke-width="0.45" font-family='"Liberation Sans", sans-serif'>z</text>
<circle cx="1057.1" cy="608.4" r="2.9" fill="#000"/>
<path d="M1062.1,612.56 L1064.4,610.46 L1064.4,619.2" fill="none" stroke="#000" stroke-width="1.6" stroke-linejoin="miter"/>
<text x="1066.4" y="619.2" font-size="13" fill="#000" stroke="#000" stroke-width="0.55" font-family='"Liberation Sans", sans-serif'>7</text>
<text x="173.5" y="1536.5" font-size="22.5" fill="#000" stroke="#000" stroke-width="0.15" font-family='"Liberation Sans", sans-serif'>z</text>
<circle cx="189.2" cy="1528.7" r="2.9" fill="#000"/>
<path d="M194.2,1532.86 L196.5,1530.76 L196.5,1539.5" fill="none" stroke="#000" stroke-width="1.6" stroke-linejoin="miter"/>
<text x="187" y="1552.9" font-size="22.5" fill="#000" stroke="#000" stroke-width="0.15" font-family='"Liberation Sans", sans-serif'>y</text>
<path d="M198.7,1549.26 L201,1547.16 L201,1555.9" fill="none" stroke="#000" stroke-width="1.6" stroke-linejoin="miter"/>
<text x="224.5" y="1541" font-size="22.5" fill="#000" stroke="#000" stroke-width="0.15" font-family='"Liberation Sans", sans-serif'>z</text>
<circle cx="240.2" cy="1533.2" r="2.9" fill="#000"/>
<text x="244.6" y="1544" font-size="13" fill="#000" stroke="#000" stroke-width="0.55" font-family='"Liberation Sans", sans-serif'>2</text>
<text x="244.9" y="1552" font-size="22.5" fill="#000" stroke="#000" stroke-width="0.15" font-family='"Liberation Sans", sans-serif'>y</text>
<text x="256" y="1555" font-size="13" fill="#000" stroke="#000" stroke-width="0.55" font-family='"Liberation Sans", sans-serif'>2</text>
<text x="269.5" y="1552.9" font-size="22.5" fill="#000" stroke="#000" stroke-width="0.15" font-family='"Liberation Sans", sans-serif'>c</text>
<text x="280.4" y="1555.9" font-size="13" fill="#000" stroke="#000" stroke-width="0.55" font-family='"Liberation Sans", sans-serif'>3</text>
<text x="275.9" y="1541.9" font-size="22.5" fill="#000" stroke="#000" stroke-width="0.15" font-family='"Liberation Sans", sans-serif'>z</text>
<circle cx="291.6" cy="1534.1" r="2.9" fill="#000"/>
<text x="296" y="1544.9" font-size="13" fill="#000" stroke="#000" stroke-width="0.55" font-family='"Liberation Sans", sans-serif'>3</text>
<text x="302.8" y="1552.9" font-size="22.5" fill="#000" stroke="#000" stroke-width="0.15" font-family='"Liberation Sans", sans-serif'>z</text>
<circle cx="318.5" cy="1545.1" r="2.9" fill="#000"/>
<text x="322.9" y="1555.9" font-size="13" fill="#000" stroke="#000" stroke-width="0.55" font-family='"Liberation Sans", sans-serif'>4</text>
<text x="318.7" y="1532.8" font-size="22.5" fill="#000" stroke="#000" stroke-width="0.15" font-family='"Liberation Sans", sans-serif'>y</text>
<text x="329.8" y="1535.8" font-size="13" fill="#000" stroke="#000" stroke-width="0.55" font-family='"Liberation Sans", sans-serif'>4</text>
<text x="328.1" y="1518.3" font-size="22.5" fill="#000" stroke="#000" stroke-width="0.15" font-family='"Liberation Sans", sans-serif'>c</text>
<text x="339" y="1521.3" font-size="13" fill="#000" stroke="#000" stroke-width="0.55" font-family='"Liberation Sans", sans-serif'>4</text>
<text x="347" y="1550.1" font-size="22.5" fill="#000" stroke="#000" stroke-width="0.15" font-family='"Liberation Sans", sans-serif'>y</text>
<text x="358.1" y="1553.1" font-size="13" fill="#000" stroke="#000" stroke-width="0.55" font-family='"Liberation Sans", sans-serif'>6</text>
<text x="365.7" y="1550.1" font-size="21.38" fill="#000" stroke="#000" stroke-width="0.09" font-family='"Liberation Sans", sans-serif'>+</text>
<text x="378" y="1542.6" font-size="13" fill="#000" stroke="#000" stroke-width="0.55" font-family='"Liberation Sans", sans-serif'>2</text>
<text x="378.4" y="1504.6" font-size="22.5" fill="#000" stroke="#000" stroke-width="0.15" font-family='"Liberation Sans", sans-serif'>c</text>
<text x="389.3" y="1507.6" font-size="13" fill="#000" stroke="#000" stroke-width="0.55" font-family='"Liberation Sans", sans-serif'>5</text>
<text x="396.7" y="1532.8" font-size="22.5" fill="#000" stroke="#000" stroke-width="0.15" font-family='"Liberation Sans", sans-serif'>y</text>
<text x="407.8" y="1535.8" font-size="13" fill="#000" stroke="#000" stroke-width="0.55" font-family='"Liberation Sans", sans-serif'>8</text>
<text x="415.4" y="1532.8" font-size="21.38" fill="#000" stroke="#000" stroke-width="0.09" font-family='"Liberation Sans", sans-serif'>+</text>
<text x="427.7" y="1525.3" font-size="13" fill="#000" stroke="#000" stroke-width="0.55" font-family='"Liberation Sans", sans-serif'>2</text>
<text x="450.1" y="1529.2" font-size="22.5" fill="#000" stroke="#000" stroke-width="0.15" font-family='"Liberation Sans", sans-serif'>y</text>
<path d="M461.8,1525.56 L464.1,1523.46 L464.1,1532.2" fill="none" stroke="#000" stroke-width="1.6" stroke-linejoin="miter"/>
<path d="M466.7,1525.56 L469,1523.46 L469,1532.2" fill="none" stroke="#000" stroke-width="1.6" stroke-linejoin="miter"/>
<text x="471.7" y="1529.2" font-size="21.38" fill="#000" stroke="#000" stroke-width="0.09" font-family='"Liberation Sans", sans-serif'>+</text>
<text x="484" y="1521.7" font-size="13" fill="#000" stroke="#000" stroke-width="0.55" font-family='"Liberation Sans", sans-serif'>2</text>
<text x="453.4" y="1465.2" font-size="22.5" fill="#000" stroke="#000" stroke-width="0.15" font-family='"Liberation Sans", sans-serif'>c</text>
<text x="464.3" y="1468.2" font-size="13" fill="#000" stroke="#000" stroke-width="0.55" font-family='"Liberation Sans", sans-serif'>6</text>
<text x="490" y="1434.3" font-size="22.5" fill="#000" stroke="#000" stroke-width="0.15" font-family='"Liberation Sans", sans-serif'>c</text>
<text x="500.9" y="1437.3" font-size="13" fill="#000" stroke="#000" stroke-width="0.55" font-family='"Liberation Sans", sans-serif'>7</text>
<text x="511.1" y="1541" font-size="22.5" fill="#000" stroke="#000" stroke-width="0.15" font-family='"Liberation Sans", sans-serif'>z</text>
<circle cx="526.8" cy="1533.2" r="2.9" fill="#000"/>
<text x="531.2" y="1544" font-size="13" fill="#000" stroke="#000" stroke-width="0.55" font-family='"Liberation Sans", sans-serif'>5</text>
<text x="522" y="1553.8" font-size="22.5" fill="#000" stroke="#000" stroke-width="0.15" font-family='"Liberation Sans", sans-serif'>y</text>
<text x="533.1" y="1556.8" font-size="13" fill="#000" stroke="#000" stroke-width="0.55" font-family='"Liberation Sans", sans-serif'>5</text>
<text x="541.7" y="1546.5" font-size="22.5" fill="#000" stroke="#000" stroke-width="0.15" font-family='"Liberation Sans", sans-serif'>y</text>
<path d="M553.4,1542.86 L555.7,1540.76 L555.7,1549.5" fill="none" stroke="#000" stroke-width="1.6" stroke-linejoin="miter"/>
<text x="557.7" y="1549.5" font-size="13" fill="#000" stroke="#000" stroke-width="0.55" font-family='"Liberation Sans", sans-serif'>5</text>
<text x="565.3" y="1546.5" font-size="21.38" fill="#000" stroke="#000" stroke-width="0.09" font-family='"Liberation Sans", sans-serif'>+</text>
<text x="577.6" y="1539" font-size="13" fill="#000" stroke="#000" stroke-width="0.55" font-family='"Liberation Sans", sans-serif'>2</text>
<text x="541.6" y="1505.5" font-size="22.5" fill="#000" stroke="#000" stroke-width="0.15" font-family='"Liberation Sans", sans-serif'>c</text>
<text x="552.5" y="1508.5" font-size="13" fill="#000" stroke="#000" stroke-width="0.55" font-family='"Liberation Sans", sans-serif'>8</text>
<text x="571.1" y="1530.1" font-size="22.5" fill="#000" stroke="#000" stroke-width="0.15" font-family='"Liberation Sans", sans-serif'>c</text>
<text x="582" y="1533.1" font-size="13" fill="#000" stroke="#000" stroke-width="0.55" font-family='"Liberation Sans", sans-serif'>9</text>
<text x="576.4" y="1502.4" font-size="22.5" fill="#000" stroke="#000" stroke-width="0.15" font-family='"Liberation Sans", sans-serif'>z</text>
<circle cx="592.1" cy="1494.6" r="2.9" fill="#000"/>
<text x="596.5" y="1505.4" font-size="13" fill="#000" stroke="#000" stroke-width="0.55" font-family='"Liberation Sans", sans-serif'>6</text>
<text x="576.3" y="1551" font-size="22.5" fill="#000" stroke="#000" stroke-width="0.15" font-family='"Liberation Sans", sans-serif'>y</text>
<path d="M588,1547.36 L590.3,1545.26 L590.3,1554" fill="none" stroke="#000" stroke-width="1.6" stroke-linejoin="miter"/>
<text x="592.3" y="1554" font-size="13" fill="#000" stroke="#000" stroke-width="0.55" font-family='"Liberation Sans", sans-serif'>6</text>
<text x="599.9" y="1551" font-size="21.38" fill="#000" stroke="#000" stroke-width="0.09" font-family='"Liberation Sans", sans-serif'>+</text>
<text x="612.2" y="1543.5" font-size="13" fill="#000" stroke="#000" stroke-width="0.55" font-family='"Liberation Sans", sans-serif'>2</text>
<text x="579.3" y="1520.1" font-size="22.5" fill="#000" stroke="#000" stroke-width="0.15" font-family='"Liberation Sans", sans-serif'>c</text>
<path d="M590.8,1516.46 L593.1,1514.36 L593.1,1523.1" fill="none" stroke="#000" stroke-width="1.6" stroke-linejoin="miter"/>
<text x="595.1" y="1523.1" font-size="13" fill="#000" stroke="#000" stroke-width="0.55" font-family='"Liberation Sans", sans-serif'>7</text>
<text x="602.7" y="1520.1" font-size="21.38" fill="#000" stroke="#000" stroke-width="0.09" font-family='"Liberation Sans", sans-serif'>+</text>
<text x="615" y="1512.6" font-size="13" fill="#000" stroke="#000" stroke-width="0.55" font-family='"Liberation Sans", sans-serif'>2</text>
<text x="591.5" y="1459.2" font-size="22.5" fill="#000" stroke="#000" stroke-width="0.15" font-family='"Liberation Sans", sans-serif'>c</text>
<path d="M603,1455.56 L605.3,1453.46 L605.3,1462.2" fill="none" stroke="#000" stroke-width="1.6" stroke-linejoin="miter"/>
<text x="607.3" y="1462.2" font-size="13" fill="#000" stroke="#000" stroke-width="0.55" font-family='"Liberation Sans", sans-serif'>0</text>
<text x="610.5" y="1528.3" font-size="22.5" fill="#000" stroke="#000" stroke-width="0.15" font-family='"Liberation Sans", sans-serif'>z</text>
<circle cx="626.2" cy="1520.5" r="2.9" fill="#000"/>
<path d="M631.2,1524.66 L633.5,1522.56 L633.5,1531.3" fill="none" stroke="#000" stroke-width="1.6" stroke-linejoin="miter"/>
<text x="635.5" y="1531.3" font-size="13" fill="#000" stroke="#000" stroke-width="0.55" font-family='"Liberation Sans", sans-serif'>7</text>
<text x="643.1" y="1528.3" font-size="21.38" fill="#000" stroke="#000" stroke-width="0.09" font-family='"Liberation Sans", sans-serif'>+</text>
<text x="655.4" y="1520.8" font-size="13" fill="#000" stroke="#000" stroke-width="0.55" font-family='"Liberation Sans", sans-serif'>2</text>
<text x="618.1" y="1550.1" font-size="22.5" fill="#000" stroke="#000" stroke-width="0.15" font-family='"Liberation Sans", sans-serif'>c</text>
<path d="M629.6,1546.46 L631.9,1544.36 L631.9,1553.1" fill="none" stroke="#000" stroke-width="1.6" stroke-linejoin="miter"/>
<text x="633.9" y="1553.1" font-size="13" fill="#000" stroke="#000" stroke-width="0.55" font-family='"Liberation Sans", sans-serif'>8</text>
<text x="641.5" y="1550.1" font-size="21.38" fill="#000" stroke="#000" stroke-width="0.09" font-family='"Liberation Sans", sans-serif'>+</text>
<text x="653.8" y="1542.6" font-size="13" fill="#000" stroke="#000" stroke-width="0.55" font-family='"Liberation Sans", sans-serif'>2</text>
<text x="619" y="1392.6" font-size="22.5" fill="#000" stroke="#000" stroke-width="0.15" font-family='"Liberation Sans", sans-serif'>z</text>
<circle cx="634.7" cy="1384.8" r="2.9" fill="#000"/>
<path d="M639.7,1388.96 L642,1386.86 L642,1395.6" fill="none" stroke="#000" stroke-width="1.6" stroke-linejoin="miter"/>
<text x="644" y="1395.6" font-size="13" fill="#000" stroke="#000" stroke-width="0.55" font-family='"Liberation Sans", sans-serif'>8</text>
<text x="651.6" y="1392.6" font-size="21.38" fill="#000" stroke="#000" stroke-width="0.09" font-family='"Liberation Sans", sans-serif'>+</text>
<text x="663.9" y="1385.1" font-size="13" fill="#000" stroke="#000" stroke-width="0.55" font-family='"Liberation Sans", sans-serif'>2</text>
<text x="690.1" y="1548.3" font-size="22.5" fill="#000" stroke="#000" stroke-width="0.15" font-family='"Liberation Sans", sans-serif'>y</text>
<text x="701.2" y="1551.3" font-size="13" fill="#000" stroke="#000" stroke-width="0.55" font-family='"Liberation Sans", sans-serif'>8</text>
<text x="692.8" y="1537.1" font-size="22.5" fill="#000" stroke="#000" stroke-width="0.15" font-family='"Liberation Sans", sans-serif'>c</text>
<path d="M704.3,1533.46 L706.6,1531.36 L706.6,1540.1" fill="none" stroke="#000" stroke-width="1.6" stroke-linejoin="miter"/>
<text x="708.6" y="1540.1" font-size="13" fill="#000" stroke="#000" stroke-width="0.55" font-family='"Liberation Sans", sans-serif'>2</text>
<text x="728" y="1495.9" font-size="22.5" fill="#000" stroke="#000" stroke-width="0.15" font-family='"Liberation Sans", sans-serif'>z</text>
<circle cx="743.7" cy="1488.1" r="2.9" fill="#000"/>
<text x="748.1" y="1498.9" font-size="13" fill="#000" stroke="#000" stroke-width="0.55" font-family='"Liberation Sans", sans-serif'>9</text>
<text x="743.5" y="1491" font-size="22.5" fill="#000" stroke="#000" stroke-width="0.15" font-family='"Liberation Sans", sans-serif'>c</text>
<path d="M755,1487.36 L757.3,1485.26 L757.3,1494" fill="none" stroke="#000" stroke-width="1.6" stroke-linejoin="miter"/>
<text x="759.3" y="1494" font-size="13" fill="#000" stroke="#000" stroke-width="0.55" font-family='"Liberation Sans", sans-serif'>3</text>
<text x="741.2" y="1551.1" font-size="22.5" fill="#000" stroke="#000" stroke-width="0.15" font-family='"Liberation Sans", sans-serif'>y</text>
<text x="752.3" y="1554.1" font-size="13" fill="#000" stroke="#000" stroke-width="0.55" font-family='"Liberation Sans", sans-serif'>9</text>
<text x="749.5" y="1544.8" font-size="22.5" fill="#000" stroke="#000" stroke-width="0.15" font-family='"Liberation Sans", sans-serif'>z</text>
<circle cx="765.2" cy="1537" r="2.9" fill="#000"/>
<path d="M770.2,1541.16 L772.5,1539.06 L772.5,1547.8" fill="none" stroke="#000" stroke-width="1.6" stroke-linejoin="miter"/>
<text x="774.5" y="1547.8" font-size="13" fill="#000" stroke="#000" stroke-width="0.55" font-family='"Liberation Sans", sans-serif'>0</text>
<text x="762.7" y="1552" font-size="22.5" fill="#000" stroke="#000" stroke-width="0.15" font-family='"Liberation Sans", sans-serif'>y</text>
<path d="M774.4,1548.36 L776.7,1546.26 L776.7,1555" fill="none" stroke="#000" stroke-width="1.6" stroke-linejoin="miter"/>
<text x="778.7" y="1555" font-size="13" fill="#000" stroke="#000" stroke-width="0.55" font-family='"Liberation Sans", sans-serif'>0</text>
<text x="777.7" y="1531.1" font-size="22.5" fill="#000" stroke="#000" stroke-width="0.15" font-family='"Liberation Sans", sans-serif'>z</text>
<circle cx="793.4" cy="1523.3" r="2.9" fill="#000"/>
<path d="M798.4,1527.46 L800.7,1525.36 L800.7,1534.1" fill="none" stroke="#000" stroke-width="1.6" stroke-linejoin="miter"/>
<path d="M803.3,1527.46 L805.6,1525.36 L805.6,1534.1" fill="none" stroke="#000" stroke-width="1.6" stroke-linejoin="miter"/>
<text x="790.9" y="1550.2" font-size="22.5" fill="#000" stroke="#000" stroke-width="0.15" font-family='"Liberation Sans", sans-serif'>y</text>
<path d="M802.6,1546.56 L804.9,1544.46 L804.9,1553.2" fill="none" stroke="#000" stroke-width="1.6" stroke-linejoin="miter"/>
<path d="M807.5,1546.56 L809.8,1544.46 L809.8,1553.2" fill="none" stroke="#000" stroke-width="1.6" stroke-linejoin="miter"/>
<text x="808.5" y="1505.6" font-size="22.5" fill="#000" stroke="#000" stroke-width="0.15" font-family='"Liberation Sans", sans-serif'>c</text>
<path d="M820,1501.96 L822.3,1499.86 L822.3,1508.6" fill="none" stroke="#000" stroke-width="1.6" stroke-linejoin="miter"/>
<text x="824.3" y="1508.6" font-size="13" fill="#000" stroke="#000" stroke-width="0.55" font-family='"Liberation Sans", sans-serif'>4</text>
<text x="829.7" y="1459.1" font-size="22.5" fill="#000" stroke="#000" stroke-width="0.15" font-family='"Liberation Sans", sans-serif'>z</text>
<circle cx="845.4" cy="1451.3" r="2.9" fill="#000"/>
<path d="M850.4,1455.46 L852.7,1453.36 L852.7,1462.1" fill="none" stroke="#000" stroke-width="1.6" stroke-linejoin="miter"/>
<text x="854.7" y="1462.1" font-size="13" fill="#000" stroke="#000" stroke-width="0.55" font-family='"Liberation Sans", sans-serif'>2</text>
<text x="842.8" y="1553.9" font-size="22.5" fill="#000" stroke="#000" stroke-width="0.15" font-family='"Liberation Sans", sans-serif'>y</text>
<path d="M854.5,1550.26 L856.8,1548.16 L856.8,1556.9" fill="none" stroke="#000" stroke-width="1.6" stroke-linejoin="miter"/>
<text x="858.8" y="1556.9" font-size="13" fill="#000" stroke="#000" stroke-width="0.55" font-family='"Liberation Sans", sans-serif'>2</text>
<text x="866.3" y="1484.6" font-size="22.5" fill="#000" stroke="#000" stroke-width="0.15" font-family='"Liberation Sans", sans-serif'>z</text>
<circle cx="882" cy="1476.8" r="2.9" fill="#000"/>
<path d="M887,1480.96 L889.3,1478.86 L889.3,1487.6" fill="none" stroke="#000" stroke-width="1.6" stroke-linejoin="miter"/>
<text x="891.3" y="1487.6" font-size="13" fill="#000" stroke="#000" stroke-width="0.55" font-family='"Liberation Sans", sans-serif'>3</text>
<text x="878.9" y="1555.7" font-size="22.5" fill="#000" stroke="#000" stroke-width="0.15" font-family='"Liberation Sans", sans-serif'>y</text>
<path d="M890.6,1552.06 L892.9,1549.96 L892.9,1558.7" fill="none" stroke="#000" stroke-width="1.6" stroke-linejoin="miter"/>
<text x="894.9" y="1558.7" font-size="13" fill="#000" stroke="#000" stroke-width="0.55" font-family='"Liberation Sans", sans-serif'>3</text>
<text x="941.4" y="1523.8" font-size="22.5" fill="#000" stroke="#000" stroke-width="0.15" font-family='"Liberation Sans", sans-serif'>z</text>
<circle cx="957.1" cy="1516" r="2.9" fill="#000"/>
<path d="M962.1,1520.16 L964.4,1518.06 L964.4,1526.8" fill="none" stroke="#000" stroke-width="1.6" stroke-linejoin="miter"/>
<text x="966.4" y="1526.8" font-size="13" fill="#000" stroke="#000" stroke-width="0.55" font-family='"Liberation Sans", sans-serif'>4</text>
<text x="954.5" y="1551.1" font-size="22.5" fill="#000" stroke="#000" stroke-width="0.15" font-family='"Liberation Sans", sans-serif'>y</text>
<path d="M966.2,1547.46 L968.5,1545.36 L968.5,1554.1" fill="none" stroke="#000" stroke-width="1.6" stroke-linejoin="miter"/>
<text x="970.5" y="1554.1" font-size="13" fill="#000" stroke="#000" stroke-width="0.55" font-family='"Liberation Sans", sans-serif'>4</text>
<text x="991.4" y="1526.5" font-size="22.5" fill="#000" stroke="#000" stroke-width="0.15" font-family='"Liberation Sans", sans-serif'>z</text>
<circle cx="1007.1" cy="1518.7" r="2.9" fill="#000"/>
<path d="M1012.1,1522.86 L1014.4,1520.76 L1014.4,1529.5" fill="none" stroke="#000" stroke-width="1.6" stroke-linejoin="miter"/>
<text x="1016.4" y="1529.5" font-size="13" fill="#000" stroke="#000" stroke-width="0.55" font-family='"Liberation Sans", sans-serif'>5</text>
<text x="1014.5" y="1495.5" font-size="22.5" fill="#000" stroke="#000" stroke-width="0.15" font-family='"Liberation Sans", sans-serif'>c</text>
<path d="M1026,1491.86 L1028.3,1489.76 L1028.3,1498.5" fill="none" stroke="#000" stroke-width="1.6" stroke-linejoin="miter"/>
<text x="1030.3" y="1498.5" font-size="13" fill="#000" stroke="#000" stroke-width="0.55" font-family='"Liberation Sans", sans-serif'>5</text>
<text x="1044" y="1509.6" font-size="22.5" fill="#000" stroke="#000" stroke-width="0.15" font-family='"Liberation Sans", sans-serif'>c</text>
<path d="M1055.5,1505.96 L1057.8,1503.86 L1057.8,1512.6" fill="none" stroke="#000" stroke-width="1.6" stroke-linejoin="miter"/>
<text x="1059.8" y="1512.6" font-size="13" fill="#000" stroke="#000" stroke-width="0.55" font-family='"Liberation Sans", sans-serif'>6</text>
<text x="1049.8" y="1550.7" font-size="22.5" fill="#000" stroke="#000" stroke-width="0.15" font-family='"Liberation Sans", sans-serif'>z</text>
<circle cx="1065.5" cy="1542.9" r="2.9" fill="#000"/>
<path d="M1070.5,1547.06 L1072.8,1544.96 L1072.8,1553.7" fill="none" stroke="#000" stroke-width="1.6" stroke-linejoin="miter"/>
<text x="1074.8" y="1553.7" font-size="13" fill="#000" stroke="#000" stroke-width="0.55" font-family='"Liberation Sans", sans-serif'>6</text>
<text x="1095.5" y="1539.3" font-size="22.5" fill="#000" stroke="#000" stroke-width="0.15" font-family='"Liberation Sans", sans-serif'>c</text>
<path d="M1107,1535.66 L1109.3,1533.56 L1109.3,1542.3" fill="none" stroke="#000" stroke-width="1.6" stroke-linejoin="miter"/>
<text x="1111.3" y="1542.3" font-size="13" fill="#000" stroke="#000" stroke-width="0.55" font-family='"Liberation Sans", sans-serif'>7</text>
<text x="227.6" y="2437.1" font-size="22.5" fill="#000" stroke="#000" stroke-width="0.15" font-family='"Liberation Sans", sans-serif'>y</text>
<path d="M239.3,2433.46 L241.6,2431.36 L241.6,2440.1" fill="none" stroke="#000" stroke-width="1.6" stroke-linejoin="miter"/>
<text x="243.7" y="2476.2" font-size="22.5" fill="#000" stroke="#000" stroke-width="0.15" font-family='"Liberation Sans", sans-serif'>b</text>
<text x="256.2" y="2479.2" font-size="13" fill="#000" stroke="#000" stroke-width="0.55" font-family='"Liberation Sans", sans-serif'>2</text>
<text x="269.6" y="2413.9" font-size="22.5" fill="#000" stroke="#000" stroke-width="0.15" font-family='"Liberation Sans", sans-serif'>z</text>
<circle cx="285.3" cy="2406.1" r="2.9" fill="#000"/>
<text x="289.7" y="2416.9" font-size="13" fill="#000" stroke="#000" stroke-width="0.55" font-family='"Liberation Sans", sans-serif'>2</text>
<text x="285" y="2471.3" font-size="22.5" fill="#000" stroke="#000" stroke-width="0.15" font-family='"Liberation Sans", sans-serif'>y</text>
<text x="296.1" y="2474.3" font-size="13" fill="#000" stroke="#000" stroke-width="0.55" font-family='"Liberation Sans", sans-serif'>2</text>
<text x="336" y="2472.6" font-size="22.5" fill="#000" stroke="#000" stroke-width="0.15" font-family='"Liberation Sans", sans-serif'>z</text>
<circle cx="351.7" cy="2464.8" r="2.9" fill="#000"/>
<text x="356.1" y="2475.6" font-size="13" fill="#000" stroke="#000" stroke-width="0.55" font-family='"Liberation Sans", sans-serif'>3</text>
<text x="350.6" y="2454.9" font-size="22.5" fill="#000" stroke="#000" stroke-width="0.15" font-family='"Liberation Sans", sans-serif'>y</text>
<text x="361.7" y="2457.9" font-size="13" fill="#000" stroke="#000" stroke-width="0.55" font-family='"Liberation Sans", sans-serif'>3</text>
<text x="382.7" y="2382.5" font-size="22.5" fill="#000" stroke="#000" stroke-width="0.15" font-family='"Liberation Sans", sans-serif'>z</text>
<circle cx="398.4" cy="2374.7" r="2.9" fill="#000"/>
<text x="402.8" y="2385.5" font-size="13" fill="#000" stroke="#000" stroke-width="0.55" font-family='"Liberation Sans", sans-serif'>4</text>
<text x="398.4" y="2456.2" font-size="22.5" fill="#000" stroke="#000" stroke-width="0.15" font-family='"Liberation Sans", sans-serif'>y</text>
<text x="409.5" y="2459.2" font-size="13" fill="#000" stroke="#000" stroke-width="0.55" font-family='"Liberation Sans", sans-serif'>4</text>
<text x="649.2" y="2351.6" font-size="22.5" fill="#000" stroke="#000" stroke-width="0.15" font-family='"Liberation Sans", sans-serif'>z</text>
<circle cx="664.9" cy="2343.8" r="2.9" fill="#000"/>
<text x="669.3" y="2354.6" font-size="13" fill="#000" stroke="#000" stroke-width="0.55" font-family='"Liberation Sans", sans-serif'>5</text>
<text x="665.2" y="2429" font-size="22.5" fill="#000" stroke="#000" stroke-width="0.15" font-family='"Liberation Sans", sans-serif'>y</text>
<text x="676.3" y="2432" font-size="13" fill="#000" stroke="#000" stroke-width="0.55" font-family='"Liberation Sans", sans-serif'>5</text>
<text x="725.9" y="2388.8" font-size="22.5" fill="#000" stroke="#000" stroke-width="0.15" font-family='"Liberation Sans", sans-serif'>z</text>
<circle cx="741.6" cy="2381" r="2.9" fill="#000"/>
<text x="746" y="2391.8" font-size="13" fill="#000" stroke="#000" stroke-width="0.55" font-family='"Liberation Sans", sans-serif'>6</text>
<text x="740.5" y="2453.9" font-size="22.5" fill="#000" stroke="#000" stroke-width="0.15" font-family='"Liberation Sans", sans-serif'>y</text>
<text x="751.6" y="2456.9" font-size="13" fill="#000" stroke="#000" stroke-width="0.55" font-family='"Liberation Sans", sans-serif'>6</text>
<text x="801.2" y="2397.1" font-size="22.5" fill="#000" stroke="#000" stroke-width="0.15" font-family='"Liberation Sans", sans-serif'>z</text>
<circle cx="816.9" cy="2389.3" r="2.9" fill="#000"/>
<text x="821.3" y="2400.1" font-size="13" fill="#000" stroke="#000" stroke-width="0.55" font-family='"Liberation Sans", sans-serif'>7</text>
<text x="816.3" y="2463.4" font-size="22.5" fill="#000" stroke="#000" stroke-width="0.15" font-family='"Liberation Sans", sans-serif'>y</text>
<text x="827.4" y="2466.4" font-size="13" fill="#000" stroke="#000" stroke-width="0.55" font-family='"Liberation Sans", sans-serif'>7</text>
<text x="868" y="2398.3" font-size="22.5" fill="#000" stroke="#000" stroke-width="0.15" font-family='"Liberation Sans", sans-serif'>z</text>
<circle cx="883.7" cy="2390.5" r="2.9" fill="#000"/>
<text x="888.1" y="2401.3" font-size="13" fill="#000" stroke="#000" stroke-width="0.55" font-family='"Liberation Sans", sans-serif'>8</text>
<text x="883.5" y="2464.5" font-size="22.5" fill="#000" stroke="#000" stroke-width="0.15" font-family='"Liberation Sans", sans-serif'>y</text>
<text x="894.6" y="2467.5" font-size="13" fill="#000" stroke="#000" stroke-width="0.55" font-family='"Liberation Sans", sans-serif'>8</text>
<text x="939.5" y="2477" font-size="22.5" fill="#000" stroke="#000" stroke-width="0.15" font-family='"Liberation Sans", sans-serif'>b</text>
<text x="952" y="2480" font-size="13" fill="#000" stroke="#000" stroke-width="0.55" font-family='"Liberation Sans", sans-serif'>9</text>
<text x="951.5" y="2470.2" font-size="22.5" fill="#000" stroke="#000" stroke-width="0.15" font-family='"Liberation Sans", sans-serif'>c</text>
<text x="962.4" y="2473.2" font-size="13" fill="#000" stroke="#000" stroke-width="0.55" font-family='"Liberation Sans", sans-serif'>9</text>
<text x="965.2" y="2421.9" font-size="22.5" fill="#000" stroke="#000" stroke-width="0.15" font-family='"Liberation Sans", sans-serif'>z</text>
<circle cx="980.9" cy="2414.1" r="2.9" fill="#000"/>
<text x="985.3" y="2424.9" font-size="13" fill="#000" stroke="#000" stroke-width="0.55" font-family='"Liberation Sans", sans-serif'>9</text>
<text x="980.6" y="2462.1" font-size="22.5" fill="#000" stroke="#000" stroke-width="0.15" font-family='"Liberation Sans", sans-serif'>y</text>
<text x="991.7" y="2465.1" font-size="13" fill="#000" stroke="#000" stroke-width="0.55" font-family='"Liberation Sans", sans-serif'>9</text>
<text x="988.3" y="2468.9" font-size="22.5" fill="#000" stroke="#000" stroke-width="0.15" font-family='"Liberation Sans", sans-serif'>b</text>
<path d="M1001.4,2465.26 L1003.7,2463.16 L1003.7,2471.9" fill="none" stroke="#000" stroke-width="1.6" stroke-linejoin="miter"/>
<text x="1005.7" y="2471.9" font-size="13" fill="#000" stroke="#000" stroke-width="0.55" font-family='"Liberation Sans", sans-serif'>0</text>
<text x="1000.3" y="2414.6" font-size="22.5" fill="#000" stroke="#000" stroke-width="0.15" font-family='"Liberation Sans", sans-serif'>c</text>
<path d="M1011.8,2410.96 L1014.1,2408.86 L1014.1,2417.6" fill="none" stroke="#000" stroke-width="1.6" stroke-linejoin="miter"/>
<text x="1016.1" y="2417.6" font-size="13" fill="#000" stroke="#000" stroke-width="0.55" font-family='"Liberation Sans", sans-serif'>0</text>
<text x="1014.6" y="2454.5" font-size="22.5" fill="#000" stroke="#000" stroke-width="0.15" font-family='"Liberation Sans", sans-serif'>z</text>
<circle cx="1030.3" cy="2446.7" r="2.9" fill="#000"/>
<path d="M1035.3,2450.86 L1037.6,2448.76 L1037.6,2457.5" fill="none" stroke="#000" stroke-width="1.6" stroke-linejoin="miter"/>
<text x="1039.6" y="2457.5" font-size="13" fill="#000" stroke="#000" stroke-width="0.55" font-family='"Liberation Sans", sans-serif'>0</text>
<text x="1030.8" y="2474.3" font-size="22.5" fill="#000" stroke="#000" stroke-width="0.15" font-family='"Liberation Sans", sans-serif'>y</text>
<path d="M1042.5,2470.66 L1044.8,2468.56 L1044.8,2477.3" fill="none" stroke="#000" stroke-width="1.6" stroke-linejoin="miter"/>
<text x="1046.8" y="2477.3" font-size="13" fill="#000" stroke="#000" stroke-width="0.55" font-family='"Liberation Sans", sans-serif'>0</text>
<rect x="171.8" y="642.24" width="1" height="1.46" fill="#A7A9AC"/>
<rect x="183.35" y="643.44" width="1" height="0.26" fill="#A7A9AC"/>
<rect x="188.35" y="642.42" width="1" height="1.28" fill="#A7A9AC"/>
<rect x="194.24" y="643.49" width="1" height="0.21" fill="#A7A9AC"/>
<rect x="181.75" y="642.62" width="1" height="1.08" fill="#A7A9AC"/>
<rect x="174.82" y="641.94" width="1" height="1.76" fill="#A7A9AC"/>
<rect x="168.31" y="643.16" width="1" height="0.54" fill="#A7A9AC"/>
<rect x="197.55" y="643.65" width="1" height="0.05" fill="#A7A9AC"/>
<rect x="174.43" y="643.52" width="1" height="0.18" fill="#A7A9AC"/>
<rect x="256.86" y="642.89" width="1" height="0.81" fill="#A7A9AC"/>
<rect x="249.63" y="643.32" width="1" height="0.38" fill="#A7A9AC"/>
<rect x="235.86" y="643.58" width="1" height="0.12" fill="#A7A9AC"/>
<rect x="242.88" y="642.79" width="1" height="0.91" fill="#A7A9AC"/>
<rect x="192.55" y="637.25" width="1.3" height="6.45" fill="#A7A9AC"/>
<rect x="209.05" y="641.02" width="1.3" height="2.68" fill="#A7A9AC"/>
<rect x="216.05" y="595.49" width="1.5" height="48.21" fill="#A7A9AC"/>
<rect x="263.05" y="630.71" width="1.3" height="12.99" fill="#A7A9AC"/>
<rect x="358.25" y="639.26" width="1.3" height="4.44" fill="#A7A9AC"/>
<rect x="534.65" y="635.24" width="1.3" height="8.46" fill="#A7A9AC"/>
<rect x="572.65" y="640.27" width="2.5" height="3.43" fill="#EF9333"/>
<rect x="609.95" y="638.76" width="1.3" height="4.94" fill="#A7A9AC"/>
<rect x="613.9" y="142.2" width="3.4" height="501.5" fill="#8E8E8E"/>
<rect x="775.05" y="639.77" width="1.3" height="3.93" fill="#A7A9AC"/>
<rect x="818.65" y="636.75" width="3.3" height="6.95" fill="#EF9333"/>
<rect x="826.95" y="641.78" width="3.3" height="1.92" fill="#BE1E2D"/>
<rect x="863.05" y="620.14" width="3.3" height="23.55" fill="#EF9333"/>
<rect x="871.35" y="631.21" width="3.3" height="12.49" fill="#BE1E2D"/>
<rect x="966.25" y="541.16" width="1.5" height="102.54" fill="#A7A9AC"/>
<rect x="990.35" y="640.27" width="1.3" height="3.43" fill="#A7A9AC"/>
<rect x="1002.15" y="620.14" width="3.3" height="23.55" fill="#3FA063"/>
<rect x="1038.65" y="637.25" width="1.3" height="6.45" fill="#A7A9AC"/>
<rect x="1061.85" y="495.88" width="1.1" height="147.82" fill="#A7A9AC"/>
<rect x="1059.85" y="521.03" width="3.3" height="122.67" fill="#3FA063"/>
<rect x="1067.65" y="619.14" width="3.3" height="24.56" fill="#EF9333"/>
<rect x="1097.45" y="633.73" width="1.3" height="9.97" fill="#A7A9AC"/>
<rect x="1104.45" y="579.39" width="1.5" height="64.31" fill="#A7A9AC"/>
<rect x="1109.15" y="638.76" width="1.3" height="4.94" fill="#A7A9AC"/>
<rect x="1113.6" y="616.62" width="1.4" height="27.08" fill="#A7A9AC"/>
<rect x="965.5" y="635.24" width="3" height="8.46" fill="#A7A9AC"/>
<rect x="1103.7" y="637.75" width="3" height="5.95" fill="#A7A9AC"/>
<rect x="613.9" y="142.2" width="3.4" height="236.46" fill="#666666"/>
<rect x="609.4" y="1558.44" width="1" height="1.16" fill="#A7A9AC"/>
<rect x="1066.14" y="1558.82" width="1" height="0.78" fill="#A7A9AC"/>
<rect x="663.09" y="1558.33" width="1" height="1.27" fill="#A7A9AC"/>
<rect x="350.25" y="1558.64" width="1" height="0.96" fill="#A7A9AC"/>
<rect x="781.23" y="1557.51" width="1" height="2.09" fill="#A7A9AC"/>
<rect x="262.61" y="1559.48" width="1" height="0.12" fill="#A7A9AC"/>
<rect x="259.27" y="1557.44" width="1" height="2.16" fill="#A7A9AC"/>
<rect x="1122.26" y="1556.81" width="1" height="2.79" fill="#A7A9AC"/>
<rect x="804.5" y="1558.22" width="1" height="1.38" fill="#A7A9AC"/>
<rect x="200.62" y="1558.83" width="1" height="0.77" fill="#A7A9AC"/>
<rect x="597.93" y="1557.31" width="1" height="2.29" fill="#A7A9AC"/>
<rect x="674.01" y="1558.12" width="1" height="1.48" fill="#A7A9AC"/>
<rect x="655.28" y="1558.03" width="1" height="1.57" fill="#A7A9AC"/>
<rect x="614.2" y="1559.58" width="1" height="0.02" fill="#A7A9AC"/>
<rect x="1137.23" y="1556.69" width="1" height="2.91" fill="#A7A9AC"/>
<rect x="984.83" y="1557.85" width="1" height="1.75" fill="#A7A9AC"/>
<rect x="913.27" y="1559.09" width="1" height="0.51" fill="#A7A9AC"/>
<rect x="990.99" y="1559.14" width="1" height="0.46" fill="#A7A9AC"/>
<rect x="1098.89" y="1557.29" width="1" height="2.31" fill="#A7A9AC"/>
<rect x="1052.64" y="1558.81" width="1" height="0.79" fill="#A7A9AC"/>
<rect x="1120.49" y="1559.1" width="1" height="0.5" fill="#A7A9AC"/>
<rect x="242.2" y="1558.16" width="1" height="1.44" fill="#A7A9AC"/>
<rect x="255.86" y="1559.36" width="1" height="0.24" fill="#A7A9AC"/>
<rect x="1104.73" y="1557.65" width="1" height="1.95" fill="#A7A9AC"/>
<rect x="712.9" y="1558.9" width="1" height="0.7" fill="#A7A9AC"/>
<rect x="356.08" y="1557.75" width="1" height="1.85" fill="#A7A9AC"/>
<rect x="298.28" y="1558.11" width="1" height="1.49" fill="#A7A9AC"/>
<rect x="284.28" y="1559" width="1" height="0.6" fill="#A7A9AC"/>
<rect x="1111.36" y="1557.46" width="1" height="2.14" fill="#A7A9AC"/>
<rect x="465.91" y="1557.14" width="1" height="2.46" fill="#A7A9AC"/>
<rect x="375.47" y="1559.11" width="1" height="0.49" fill="#A7A9AC"/>
<rect x="998.54" y="1558.11" width="1" height="1.49" fill="#A7A9AC"/>
<rect x="268.62" y="1556.72" width="1" height="2.88" fill="#A7A9AC"/>
<rect x="919.46" y="1559.37" width="1" height="0.23" fill="#A7A9AC"/>
<rect x="258.73" y="1558.35" width="1" height="1.25" fill="#A7A9AC"/>
<rect x="406.74" y="1558.28" width="1" height="1.32" fill="#A7A9AC"/>
<rect x="531.31" y="1558.87" width="1" height="0.73" fill="#A7A9AC"/>
<rect x="1099.94" y="1558.75" width="1" height="0.85" fill="#A7A9AC"/>
<rect x="727.68" y="1557.21" width="1" height="2.39" fill="#A7A9AC"/>
<rect x="1050.85" y="1557.41" width="1" height="2.19" fill="#A7A9AC"/>
<rect x="887.26" y="1556.91" width="1" height="2.69" fill="#A7A9AC"/>
<rect x="361.8" y="1556.87" width="1" height="2.73" fill="#A7A9AC"/>
<rect x="1025.46" y="1558.27" width="1" height="1.33" fill="#A7A9AC"/>
<rect x="208.96" y="1556.82" width="1" height="2.78" fill="#A7A9AC"/>
<rect x="402.28" y="1557.86" width="1" height="1.74" fill="#A7A9AC"/>
<rect x="420.26" y="1557.38" width="1" height="2.22" fill="#A7A9AC"/>
<rect x="748.88" y="1559.52" width="1" height="0.08" fill="#A7A9AC"/>
<rect x="341.32" y="1557.8" width="1" height="1.8" fill="#A7A9AC"/>
<rect x="712.97" y="1557.27" width="1" height="2.33" fill="#A7A9AC"/>
<rect x="766.15" y="1559.57" width="1" height="0.03" fill="#A7A9AC"/>
<rect x="342.11" y="1559.21" width="1" height="0.39" fill="#A7A9AC"/>
<rect x="522.06" y="1557.11" width="1" height="2.49" fill="#A7A9AC"/>
<rect x="1120.62" y="1558.05" width="1" height="1.55" fill="#A7A9AC"/>
<rect x="840.6" y="1558.34" width="1" height="1.26" fill="#A7A9AC"/>
<rect x="188.82" y="1557.03" width="1" height="2.57" fill="#A7A9AC"/>
<rect x="850.04" y="1556.82" width="1" height="2.78" fill="#A7A9AC"/>
<rect x="192.08" y="1558.14" width="1" height="1.46" fill="#A7A9AC"/>
<rect x="638.3" y="1557.76" width="1" height="1.84" fill="#A7A9AC"/>
<rect x="480.2" y="1556.67" width="1" height="2.93" fill="#A7A9AC"/>
<rect x="244.35" y="1558.5" width="1" height="1.1" fill="#A7A9AC"/>
<rect x="884.92" y="1557.07" width="1" height="2.53" fill="#A7A9AC"/>
<rect x="885" y="1557.86" width="1" height="1.74" fill="#A7A9AC"/>
<rect x="939.38" y="1557.01" width="1" height="2.59" fill="#A7A9AC"/>
<rect x="512.08" y="1557.94" width="1" height="1.66" fill="#A7A9AC"/>
<rect x="1043.51" y="1557.19" width="1" height="2.41" fill="#A7A9AC"/>
<rect x="575.3" y="1557.52" width="1" height="2.08" fill="#A7A9AC"/>
<rect x="1007.34" y="1558.39" width="1" height="1.21" fill="#A7A9AC"/>
<rect x="776.46" y="1559.16" width="1" height="0.44" fill="#A7A9AC"/>
<rect x="735.53" y="1558.25" width="1" height="1.35" fill="#A7A9AC"/>
<rect x="249.14" y="1558.12" width="1" height="1.48" fill="#A7A9AC"/>
<rect x="1133.04" y="1557.16" width="1" height="2.44" fill="#A7A9AC"/>
<rect x="876.4" y="1559.13" width="1" height="0.47" fill="#A7A9AC"/>
<rect x="883.02" y="1558.36" width="1" height="1.24" fill="#A7A9AC"/>
<rect x="597.93" y="1557.32" width="1" height="2.28" fill="#A7A9AC"/>
<rect x="252.6" y="1557.68" width="1" height="1.92" fill="#A7A9AC"/>
<rect x="200.34" y="1558.28" width="1" height="1.32" fill="#A7A9AC"/>
<rect x="847.49" y="1558.7" width="1" height="0.9" fill="#A7A9AC"/>
<rect x="766.34" y="1556.99" width="1" height="2.61" fill="#A7A9AC"/>
<rect x="462.9" y="1557.97" width="1" height="1.63" fill="#A7A9AC"/>
<rect x="1048.24" y="1558.04" width="1" height="1.56" fill="#A7A9AC"/>
<rect x="599.29" y="1557.11" width="1" height="2.49" fill="#A7A9AC"/>
<rect x="488" y="1558.02" width="1" height="1.58" fill="#A7A9AC"/>
<rect x="363.65" y="1558.96" width="1" height="0.64" fill="#A7A9AC"/>
<rect x="951.7" y="1557.02" width="1" height="2.58" fill="#A7A9AC"/>
<rect x="1023.6" y="1559.15" width="1" height="0.45" fill="#A7A9AC"/>
<rect x="735.95" y="1559.42" width="1" height="0.18" fill="#A7A9AC"/>
<rect x="303.32" y="1558.7" width="1" height="0.9" fill="#A7A9AC"/>
<rect x="981.81" y="1557.28" width="1" height="2.32" fill="#A7A9AC"/>
<rect x="859.96" y="1556.87" width="1" height="2.73" fill="#A7A9AC"/>
<rect x="607.73" y="1559.59" width="1" height="0.01" fill="#A7A9AC"/>
<rect x="378.73" y="1559.03" width="1" height="0.57" fill="#A7A9AC"/>
<rect x="777.21" y="1558.71" width="1" height="0.89" fill="#A7A9AC"/>
<rect x="476.78" y="1557.32" width="1" height="2.28" fill="#A7A9AC"/>
<rect x="1122.11" y="1558.88" width="1" height="0.72" fill="#A7A9AC"/>
<rect x="857.45" y="1558.4" width="1" height="1.2" fill="#A7A9AC"/>
<rect x="470.64" y="1557.51" width="1" height="2.09" fill="#A7A9AC"/>
<rect x="780.55" y="1558.9" width="1" height="0.7" fill="#A7A9AC"/>
<rect x="781.31" y="1558.06" width="1" height="1.54" fill="#A7A9AC"/>
<rect x="953.05" y="1556.84" width="1" height="2.76" fill="#A7A9AC"/>
<rect x="181.92" y="1558.8" width="1" height="0.8" fill="#A7A9AC"/>
<rect x="435.14" y="1559.31" width="1" height="0.29" fill="#A7A9AC"/>
<rect x="846.5" y="1558.6" width="1" height="1" fill="#A7A9AC"/>
<rect x="766.29" y="1557.65" width="1" height="1.95" fill="#A7A9AC"/>
<rect x="552.42" y="1557.51" width="1" height="2.09" fill="#A7A9AC"/>
<rect x="1074.26" y="1557.79" width="1" height="1.81" fill="#A7A9AC"/>
<rect x="297.25" y="1558.87" width="1" height="0.73" fill="#A7A9AC"/>
<rect x="777.03" y="1557.03" width="1" height="2.57" fill="#A7A9AC"/>
<rect x="536.25" y="1558.41" width="1" height="1.19" fill="#A7A9AC"/>
<rect x="1022.68" y="1557.49" width="1" height="2.11" fill="#A7A9AC"/>
<rect x="1085.54" y="1558.83" width="1" height="0.77" fill="#A7A9AC"/>
<rect x="870.33" y="1557.4" width="1" height="2.2" fill="#A7A9AC"/>
<rect x="792.58" y="1557.81" width="1" height="1.79" fill="#A7A9AC"/>
<rect x="377.97" y="1557.07" width="1" height="2.53" fill="#A7A9AC"/>
<rect x="1120.62" y="1556.76" width="1" height="2.84" fill="#A7A9AC"/>
<rect x="691.27" y="1557.51" width="1" height="2.09" fill="#A7A9AC"/>
<rect x="481.64" y="1557.03" width="1" height="2.57" fill="#A7A9AC"/>
<rect x="999.9" y="1559.29" width="1" height="0.31" fill="#A7A9AC"/>
<rect x="251.62" y="1558.92" width="1" height="0.68" fill="#A7A9AC"/>
<rect x="704.19" y="1557.6" width="1" height="2" fill="#A7A9AC"/>
<rect x="191.05" y="1538.56" width="3.3" height="21.04" fill="#EF9333"/>
<rect x="199.75" y="1558.18" width="3.3" height="1.42" fill="#BE1E2D"/>
<rect x="212.65" y="1558.68" width="1.3" height="0.92" fill="#A7A9AC"/>
<rect x="237.25" y="1543.59" width="1.3" height="16.01" fill="#A7A9AC"/>
<rect x="242.05" y="1544.09" width="3.3" height="15.51" fill="#EF9333"/>
<rect x="249.85" y="1552.65" width="3.3" height="6.95" fill="#BE1E2D"/>
<rect x="263.95" y="1527.49" width="1.3" height="32.11" fill="#A7A9AC"/>
<rect x="273.1" y="1447.5" width="1.2" height="112.1" fill="#A7A9AC"/>
<rect x="283.25" y="1555.67" width="3.3" height="3.93" fill="#3FA063"/>
<rect x="294.55" y="1523.47" width="1.3" height="36.13" fill="#A7A9AC"/>
<rect x="293.55" y="1546.61" width="3.3" height="12.99" fill="#D6A672"/>
<rect x="320.35" y="1557.68" width="3.3" height="1.92" fill="#EF9333"/>
<rect x="324.25" y="1521.96" width="1.3" height="37.64" fill="#A7A9AC"/>
<rect x="330.55" y="1538.06" width="3.3" height="21.54" fill="#BE1E2D"/>
<rect x="341.85" y="1520.95" width="3.3" height="38.65" fill="#3FA063"/>
<rect x="384.45" y="1552.14" width="1.3" height="7.46" fill="#A7A9AC"/>
<rect x="392.15" y="1507.37" width="3.3" height="52.23" fill="#3FA063"/>
<rect x="406.15" y="1542.59" width="3.3" height="17.01" fill="#BE1E2D"/>
<rect x="434.55" y="1558.18" width="1.3" height="1.42" fill="#A7A9AC"/>
<rect x="461.35" y="1538.56" width="3.3" height="21.04" fill="#BE1E2D"/>
<rect x="467.25" y="1468.63" width="3.3" height="90.97" fill="#3FA063"/>
<rect x="482.45" y="1552.14" width="1.3" height="7.46" fill="#A7A9AC"/>
<rect x="488.2" y="1418.82" width="1" height="140.78" fill="#A7A9AC"/>
<rect x="490.2" y="1168.78" width="2.2" height="390.82" fill="#6D6E71"/>
<rect x="492.5" y="1410.27" width="1" height="149.33" fill="#A7A9AC"/>
<rect x="487.25" y="1556.17" width="3.3" height="3.43" fill="#BE1E2D"/>
<rect x="503.65" y="1437.44" width="3.3" height="122.16" fill="#3FA063"/>
<rect x="495.55" y="1553.65" width="1.3" height="5.95" fill="#A7A9AC"/>
<rect x="499.15" y="1553.65" width="1.3" height="5.95" fill="#A7A9AC"/>
<rect x="528.05" y="1543.59" width="3.3" height="16.01" fill="#D6A672"/>
<rect x="530.35" y="1528" width="1.3" height="31.6" fill="#A7A9AC"/>
<rect x="536.55" y="1554.16" width="3.3" height="5.44" fill="#BE1E2D"/>
<rect x="542.95" y="1556.67" width="3.3" height="2.93" fill="#BE1E2D"/>
<rect x="546.65" y="1550.13" width="1.3" height="9.47" fill="#A7A9AC"/>
<rect x="555.15" y="1508.37" width="3.3" height="51.23" fill="#3FA063"/>
<rect x="563.95" y="1556.17" width="1.3" height="3.43" fill="#A7A9AC"/>
<rect x="584.45" y="1533.03" width="3.3" height="26.57" fill="#3FA063"/>
<rect x="593.95" y="1505.36" width="3.3" height="54.24" fill="#EF9333"/>
<rect x="599.95" y="1143.63" width="1.3" height="415.97" fill="#A7A9AC"/>
<rect x="602.15" y="1555.67" width="3.3" height="3.93" fill="#BE1E2D"/>
<rect x="613.45" y="1462.59" width="3.3" height="97.01" fill="#3FA063"/>
<rect x="628.65" y="1553.65" width="1.3" height="5.95" fill="#A7A9AC"/>
<rect x="634.55" y="1536.05" width="3.3" height="23.56" fill="#EF9333"/>
<rect x="639.15" y="1557.18" width="3.3" height="2.42" fill="#3FA063"/>
<rect x="644.45" y="1544.6" width="3.3" height="15" fill="#EF9333"/>
<rect x="654.15" y="1539.06" width="1.3" height="20.54" fill="#A7A9AC"/>
<rect x="657.35" y="1396.69" width="3.3" height="162.91" fill="#D6A672"/>
<rect x="666" y="1402.22" width="1.2" height="157.38" fill="#A7A9AC"/>
<rect x="669.9" y="1441.97" width="1.2" height="117.63" fill="#A7A9AC"/>
<rect x="676.25" y="1060.11" width="1.5" height="499.49" fill="#BCBEC0"/>
<rect x="680.1" y="1058.1" width="2.8" height="501.5" fill="#6D6E71"/>
<rect x="702.25" y="1552.65" width="3.3" height="6.95" fill="#BE1E2D"/>
<rect x="714.55" y="1540.57" width="3.3" height="19.03" fill="#3FA063"/>
<rect x="717.05" y="1546.11" width="1.3" height="13.49" fill="#A7A9AC"/>
<rect x="745.75" y="1499.82" width="3.3" height="59.78" fill="#EF9333"/>
<rect x="753.95" y="1555.16" width="3.3" height="4.44" fill="#BE1E2D"/>
<rect x="765.25" y="1493.78" width="3.3" height="65.82" fill="#3FA063"/>
<rect x="774.85" y="1554.66" width="3.3" height="4.94" fill="#D6A672"/>
<rect x="783.05" y="1555.67" width="3.3" height="3.93" fill="#BE1E2D"/>
<rect x="804.05" y="1534.54" width="3.3" height="25.06" fill="#EF9333"/>
<rect x="812.25" y="1552.65" width="3.3" height="6.95" fill="#BE1E2D"/>
<rect x="826.85" y="1558.18" width="1.3" height="1.42" fill="#A7A9AC"/>
<rect x="830.75" y="1508.88" width="3.3" height="50.72" fill="#3FA063"/>
<rect x="855.55" y="1462.59" width="3.3" height="97.01" fill="#EF9333"/>
<rect x="862.05" y="1545.6" width="1.3" height="14" fill="#A7A9AC"/>
<rect x="864.15" y="1558.68" width="3.3" height="0.92" fill="#BE1E2D"/>
<rect x="869.65" y="1532.02" width="1.3" height="27.58" fill="#A7A9AC"/>
<rect x="871.15" y="1521.96" width="1.3" height="37.64" fill="#A7A9AC"/>
<rect x="892.05" y="1488.25" width="3.3" height="71.35" fill="#EF9333"/>
<rect x="936.75" y="1556.67" width="1.3" height="2.93" fill="#A7A9AC"/>
<rect x="967.05" y="1526.49" width="3.3" height="33.11" fill="#EF9333"/>
<rect x="975.45" y="1554.66" width="3.3" height="4.94" fill="#BE1E2D"/>
<rect x="1015.55" y="1545.6" width="1.3" height="14" fill="#A7A9AC"/>
<rect x="1017.65" y="1531.01" width="3.3" height="28.59" fill="#D6A672"/>
<rect x="1036.75" y="1498.82" width="3.3" height="60.78" fill="#3FA063"/>
<rect x="1065.85" y="1512.9" width="3.3" height="46.7" fill="#3FA063"/>
<rect x="1075.35" y="1555.16" width="3.3" height="4.44" fill="#EF9333"/>
<rect x="1077.55" y="1522.96" width="1.3" height="36.64" fill="#A7A9AC"/>
<rect x="1079.45" y="1554.16" width="1.3" height="5.44" fill="#A7A9AC"/>
<rect x="1088" y="1505.86" width="1.4" height="53.74" fill="#A7A9AC"/>
<rect x="1117.55" y="1543.59" width="3.3" height="16.01" fill="#3FA063"/>
<rect x="191.92" y="2476.25" width="1" height="7.35" fill="#A7A9AC"/>
<rect x="213.07" y="2478.83" width="1" height="4.77" fill="#A7A9AC"/>
<rect x="194.22" y="2474.99" width="1" height="8.61" fill="#A7A9AC"/>
<rect x="220.85" y="2478.42" width="1" height="5.18" fill="#A7A9AC"/>
<rect x="207.23" y="2481.8" width="1" height="1.8" fill="#A7A9AC"/>
<rect x="184.64" y="2480.15" width="1" height="3.45" fill="#A7A9AC"/>
<rect x="220.22" y="2481.85" width="1" height="1.75" fill="#A7A9AC"/>
<rect x="229.39" y="2475.65" width="1" height="7.95" fill="#A7A9AC"/>
<rect x="223.88" y="2477.15" width="1" height="6.45" fill="#A7A9AC"/>
<rect x="186.03" y="2480.66" width="1" height="2.94" fill="#A7A9AC"/>
<rect x="206.89" y="2483.27" width="1" height="0.33" fill="#A7A9AC"/>
<rect x="227.34" y="2480.18" width="1" height="3.42" fill="#A7A9AC"/>
<rect x="191.47" y="2474.68" width="1" height="8.92" fill="#A7A9AC"/>
<rect x="190.12" y="2473.33" width="1" height="10.27" fill="#A7A9AC"/>
<rect x="204.89" y="2477.93" width="1" height="5.67" fill="#A7A9AC"/>
<rect x="199.93" y="2478.76" width="1" height="4.84" fill="#A7A9AC"/>
<rect x="223.46" y="2481.82" width="1" height="1.78" fill="#A7A9AC"/>
<rect x="1111.05" y="2483.19" width="1" height="0.41" fill="#A7A9AC"/>
<rect x="251.23" y="2473.99" width="1" height="9.61" fill="#A7A9AC"/>
<rect x="399.01" y="2483.4" width="1" height="0.2" fill="#A7A9AC"/>
<rect x="828.81" y="2480.99" width="1" height="2.61" fill="#A7A9AC"/>
<rect x="1047.89" y="2482.21" width="1" height="1.39" fill="#A7A9AC"/>
<rect x="1112.23" y="2481.27" width="1" height="2.33" fill="#A7A9AC"/>
<rect x="782.55" y="2474.71" width="1" height="8.89" fill="#A7A9AC"/>
<rect x="859.94" y="2474.8" width="1" height="8.8" fill="#A7A9AC"/>
<rect x="1040.36" y="2478.38" width="1" height="5.22" fill="#A7A9AC"/>
<rect x="515.33" y="2482.65" width="1" height="0.95" fill="#A7A9AC"/>
<rect x="1011.32" y="2478.45" width="1" height="5.15" fill="#A7A9AC"/>
<rect x="1092.45" y="2476.4" width="1" height="7.2" fill="#A7A9AC"/>
<rect x="1113.8" y="2478.62" width="1" height="4.98" fill="#A7A9AC"/>
<rect x="872.01" y="2478.13" width="1" height="5.47" fill="#A7A9AC"/>
<rect x="467.24" y="2474.44" width="1" height="9.16" fill="#A7A9AC"/>
<rect x="516.97" y="2476.32" width="1" height="7.28" fill="#A7A9AC"/>
<rect x="1107.76" y="2477.72" width="1" height="5.88" fill="#A7A9AC"/>
<rect x="360.35" y="2475.85" width="1" height="7.75" fill="#A7A9AC"/>
<rect x="843.6" y="2482.71" width="1" height="0.89" fill="#A7A9AC"/>
<rect x="274.7" y="2478.99" width="1" height="4.61" fill="#A7A9AC"/>
<rect x="259.18" y="2474.78" width="1" height="8.82" fill="#A7A9AC"/>
<rect x="695.28" y="2479.15" width="1" height="4.45" fill="#A7A9AC"/>
<rect x="606.19" y="2477.61" width="1" height="5.99" fill="#A7A9AC"/>
<rect x="1072.65" y="2481.4" width="1" height="2.2" fill="#A7A9AC"/>
<rect x="573.38" y="2478.45" width="1" height="5.15" fill="#A7A9AC"/>
<rect x="503.03" y="2478.31" width="1" height="5.29" fill="#A7A9AC"/>
<rect x="729.17" y="2480.05" width="1" height="3.55" fill="#A7A9AC"/>
<rect x="848.88" y="2479.03" width="1" height="4.57" fill="#A7A9AC"/>
<rect x="310.56" y="2474.02" width="1" height="9.58" fill="#A7A9AC"/>
<rect x="556.74" y="2480.07" width="1" height="3.53" fill="#A7A9AC"/>
<rect x="600.08" y="2474.74" width="1" height="8.86" fill="#A7A9AC"/>
<rect x="1105.48" y="2479.21" width="1" height="4.39" fill="#A7A9AC"/>
<rect x="1053.36" y="2482.85" width="1" height="0.75" fill="#A7A9AC"/>
<rect x="732.4" y="2480.95" width="1" height="2.65" fill="#A7A9AC"/>
<rect x="531.53" y="2480.86" width="1" height="2.74" fill="#A7A9AC"/>
<rect x="722.12" y="2476.17" width="1" height="7.43" fill="#A7A9AC"/>
<rect x="824.81" y="2482.53" width="1" height="1.07" fill="#A7A9AC"/>
<rect x="607.39" y="2475.82" width="1" height="7.78" fill="#A7A9AC"/>
<rect x="1076.83" y="2479.76" width="1" height="3.84" fill="#A7A9AC"/>
<rect x="1008.31" y="2479.35" width="1" height="4.25" fill="#A7A9AC"/>
<rect x="711.54" y="2478.43" width="1" height="5.17" fill="#A7A9AC"/>
<rect x="1141.48" y="2476.73" width="1" height="6.87" fill="#A7A9AC"/>
<rect x="664.69" y="2476.9" width="1" height="6.7" fill="#A7A9AC"/>
<rect x="821.31" y="2480.9" width="1" height="2.7" fill="#A7A9AC"/>
<rect x="950.94" y="2475.91" width="1" height="7.69" fill="#A7A9AC"/>
<rect x="789.24" y="2474.59" width="1" height="9.01" fill="#A7A9AC"/>
<rect x="246.23" y="2479.33" width="1" height="4.27" fill="#A7A9AC"/>
<rect x="813.31" y="2481.04" width="1" height="2.56" fill="#A7A9AC"/>
<rect x="387.17" y="2477.28" width="1" height="6.32" fill="#A7A9AC"/>
<rect x="629.15" y="2481.81" width="1" height="1.79" fill="#A7A9AC"/>
<rect x="268.02" y="2474.33" width="1" height="9.27" fill="#A7A9AC"/>
<rect x="553.6" y="2483.43" width="1" height="0.17" fill="#A7A9AC"/>
<rect x="428.54" y="2481.96" width="1" height="1.64" fill="#A7A9AC"/>
<rect x="1026.4" y="2482.76" width="1" height="0.84" fill="#A7A9AC"/>
<rect x="661.86" y="2482.47" width="1" height="1.13" fill="#A7A9AC"/>
<rect x="546.1" y="2476.82" width="1" height="6.78" fill="#A7A9AC"/>
<rect x="1080.56" y="2475.76" width="1" height="7.84" fill="#A7A9AC"/>
<rect x="264.72" y="2480.64" width="1" height="2.96" fill="#A7A9AC"/>
<rect x="416.45" y="2479.44" width="1" height="4.16" fill="#A7A9AC"/>
<rect x="581.34" y="2476.65" width="1" height="6.95" fill="#A7A9AC"/>
<rect x="890.18" y="2479.72" width="1" height="3.88" fill="#A7A9AC"/>
<rect x="458.6" y="2482.22" width="1" height="1.38" fill="#A7A9AC"/>
<rect x="842" y="2483" width="1" height="0.6" fill="#A7A9AC"/>
<rect x="1047.75" y="2477.77" width="1" height="5.83" fill="#A7A9AC"/>
<rect x="281.75" y="2479.35" width="1" height="4.25" fill="#A7A9AC"/>
<rect x="810.93" y="2474.13" width="1" height="9.47" fill="#A7A9AC"/>
<rect x="1008.17" y="2482.19" width="1" height="1.41" fill="#A7A9AC"/>
<rect x="721.28" y="2483.19" width="1" height="0.41" fill="#A7A9AC"/>
<rect x="544.41" y="2475.44" width="1" height="8.16" fill="#A7A9AC"/>
<rect x="578.99" y="2477.83" width="1" height="5.77" fill="#A7A9AC"/>
<rect x="390.94" y="2476.09" width="1" height="7.51" fill="#A7A9AC"/>
<rect x="1051.13" y="2478.78" width="1" height="4.82" fill="#A7A9AC"/>
<rect x="562.6" y="2475.6" width="1" height="8" fill="#A7A9AC"/>
<rect x="701.3" y="2482.67" width="1" height="0.93" fill="#A7A9AC"/>
<rect x="485.05" y="2482.99" width="1" height="0.61" fill="#A7A9AC"/>
<rect x="1001.12" y="2479.23" width="1" height="4.37" fill="#A7A9AC"/>
<rect x="870.43" y="2475.94" width="1" height="7.66" fill="#A7A9AC"/>
<rect x="1125.38" y="2482.65" width="1" height="0.95" fill="#A7A9AC"/>
<rect x="602.77" y="2475.33" width="1" height="8.27" fill="#A7A9AC"/>
<rect x="930.25" y="2480.55" width="1" height="3.05" fill="#A7A9AC"/>
<rect x="832.81" y="2482.6" width="1" height="1" fill="#A7A9AC"/>
<rect x="578.83" y="2482.16" width="1" height="1.44" fill="#A7A9AC"/>
<rect x="705.76" y="2474.31" width="1" height="9.29" fill="#A7A9AC"/>
<rect x="370.14" y="2478.72" width="1" height="4.88" fill="#A7A9AC"/>
<rect x="1024.98" y="2478.28" width="1" height="5.32" fill="#A7A9AC"/>
<rect x="714.52" y="2476.47" width="1" height="7.13" fill="#A7A9AC"/>
<rect x="249.58" y="2474.53" width="1" height="9.07" fill="#A7A9AC"/>
<rect x="861.05" y="2476.05" width="1" height="7.55" fill="#A7A9AC"/>
<rect x="290.78" y="2482.78" width="1" height="0.82" fill="#A7A9AC"/>
<rect x="693.9" y="2474.64" width="1" height="8.96" fill="#A7A9AC"/>
<rect x="1066.06" y="2480.28" width="1" height="3.32" fill="#A7A9AC"/>
<rect x="802.12" y="2476.77" width="1" height="6.83" fill="#A7A9AC"/>
<rect x="535.3" y="2474.3" width="1" height="9.3" fill="#A7A9AC"/>
<rect x="1095.95" y="2476.9" width="1" height="6.7" fill="#A7A9AC"/>
<rect x="1058.82" y="2476.11" width="1" height="7.49" fill="#A7A9AC"/>
<rect x="829.54" y="2481.25" width="1" height="2.35" fill="#A7A9AC"/>
<rect x="488.36" y="2482.14" width="1" height="1.46" fill="#A7A9AC"/>
<rect x="282.28" y="2474.77" width="1" height="8.83" fill="#A7A9AC"/>
<rect x="520.31" y="2483.59" width="1" height="0.01" fill="#A7A9AC"/>
<rect x="639.04" y="2481.13" width="1" height="2.47" fill="#A7A9AC"/>
<rect x="390.94" y="2479.58" width="1" height="4.02" fill="#A7A9AC"/>
<rect x="611.16" y="2480.9" width="1" height="2.7" fill="#A7A9AC"/>
<rect x="977.7" y="2481.4" width="1" height="2.2" fill="#A7A9AC"/>
<rect x="727.44" y="2475.29" width="1" height="8.31" fill="#A7A9AC"/>
<rect x="1111.83" y="2480.68" width="1" height="2.92" fill="#A7A9AC"/>
<rect x="266.75" y="2474.51" width="1" height="9.09" fill="#A7A9AC"/>
<rect x="702.52" y="2482.36" width="1" height="1.24" fill="#A7A9AC"/>
<rect x="347.43" y="2482.13" width="1" height="1.47" fill="#A7A9AC"/>
<rect x="515.14" y="2483.2" width="1" height="0.4" fill="#A7A9AC"/>
<rect x="274.59" y="2474.04" width="1" height="9.56" fill="#A7A9AC"/>
<rect x="984.13" y="2483.48" width="1" height="0.12" fill="#A7A9AC"/>
<rect x="671.77" y="2476.11" width="1" height="7.49" fill="#A7A9AC"/>
<rect x="541.98" y="2480.61" width="1" height="2.99" fill="#A7A9AC"/>
<rect x="1070.85" y="2478.45" width="1" height="5.15" fill="#A7A9AC"/>
<rect x="651.76" y="2477.94" width="1" height="5.66" fill="#A7A9AC"/>
<rect x="274.24" y="2477.34" width="1" height="6.26" fill="#A7A9AC"/>
<rect x="972.86" y="2477.51" width="1" height="6.09" fill="#A7A9AC"/>
<rect x="561.51" y="2481.63" width="1" height="1.97" fill="#A7A9AC"/>
<rect x="371.7" y="2479.84" width="1" height="3.76" fill="#A7A9AC"/>
<rect x="945.52" y="2482.36" width="1" height="1.24" fill="#A7A9AC"/>
<rect x="664.06" y="2477.88" width="1" height="5.72" fill="#A7A9AC"/>
<rect x="1076.41" y="2478.42" width="1" height="5.18" fill="#A7A9AC"/>
<rect x="508.49" y="2482.13" width="1" height="1.47" fill="#A7A9AC"/>
<rect x="863.35" y="2474.7" width="1" height="8.9" fill="#A7A9AC"/>
<rect x="539.85" y="2480.43" width="1" height="3.17" fill="#A7A9AC"/>
<rect x="742.05" y="2482.82" width="1" height="0.78" fill="#A7A9AC"/>
<rect x="602.91" y="2474.86" width="1" height="8.74" fill="#A7A9AC"/>
<rect x="741.37" y="2475.88" width="1" height="7.72" fill="#A7A9AC"/>
<rect x="470.41" y="2475.39" width="1" height="8.21" fill="#A7A9AC"/>
<rect x="949.54" y="2482.28" width="1" height="1.32" fill="#A7A9AC"/>
<rect x="717.1" y="2477.39" width="1" height="6.21" fill="#A7A9AC"/>
<rect x="756.54" y="2478.24" width="1" height="5.36" fill="#A7A9AC"/>
<rect x="450.35" y="2478.76" width="1" height="4.84" fill="#A7A9AC"/>
<rect x="555.69" y="2476.14" width="1" height="7.46" fill="#A7A9AC"/>
<rect x="572.39" y="2474.2" width="1" height="9.4" fill="#A7A9AC"/>
<rect x="763.57" y="2482.25" width="1" height="1.35" fill="#A7A9AC"/>
<rect x="611.96" y="2483.32" width="1" height="0.28" fill="#A7A9AC"/>
<rect x="786.04" y="2481.39" width="1" height="2.21" fill="#A7A9AC"/>
<rect x="944.38" y="2483.33" width="1" height="0.27" fill="#A7A9AC"/>
<rect x="855.5" y="2477.04" width="1" height="6.56" fill="#A7A9AC"/>
<rect x="443.98" y="2483.3" width="1" height="0.3" fill="#A7A9AC"/>
<rect x="572.23" y="2477.74" width="1" height="5.86" fill="#A7A9AC"/>
<rect x="635.62" y="2476.03" width="1" height="7.57" fill="#A7A9AC"/>
<rect x="374.69" y="2474.61" width="1" height="8.99" fill="#A7A9AC"/>
<rect x="697.07" y="2482.97" width="1" height="0.63" fill="#A7A9AC"/>
<rect x="321.56" y="2480.72" width="1" height="2.88" fill="#A7A9AC"/>
<rect x="667.78" y="2482.81" width="1" height="0.79" fill="#A7A9AC"/>
<rect x="306.87" y="2479.32" width="1" height="4.28" fill="#A7A9AC"/>
<rect x="463.2" y="2479.93" width="1" height="3.67" fill="#A7A9AC"/>
<rect x="644.2" y="2477.22" width="1" height="6.38" fill="#A7A9AC"/>
<rect x="760.87" y="2482.24" width="1" height="1.36" fill="#A7A9AC"/>
<rect x="394.82" y="2475.49" width="1" height="8.11" fill="#A7A9AC"/>
<rect x="275.96" y="2483.37" width="1" height="0.23" fill="#A7A9AC"/>
<rect x="293.81" y="2475.84" width="1" height="7.76" fill="#A7A9AC"/>
<rect x="727.2" y="2474.8" width="1" height="8.8" fill="#A7A9AC"/>
<rect x="805.67" y="2481.1" width="1" height="2.5" fill="#A7A9AC"/>
<rect x="625.54" y="2476.85" width="1" height="6.75" fill="#A7A9AC"/>
<rect x="442.22" y="2476.09" width="1" height="7.51" fill="#A7A9AC"/>
<rect x="545.68" y="2478.69" width="1" height="4.91" fill="#A7A9AC"/>
<rect x="364.35" y="2474.99" width="1" height="8.61" fill="#A7A9AC"/>
<rect x="1081.56" y="2479.21" width="1" height="4.39" fill="#A7A9AC"/>
<rect x="1061.72" y="2477.3" width="1" height="6.3" fill="#A7A9AC"/>
<rect x="724.5" y="2483" width="1" height="0.6" fill="#A7A9AC"/>
<rect x="1106.1" y="2474.84" width="1" height="8.76" fill="#A7A9AC"/>
<rect x="645.32" y="2480.57" width="1" height="3.03" fill="#A7A9AC"/>
<rect x="297.25" y="2478.06" width="1" height="5.54" fill="#A7A9AC"/>
<rect x="1016" y="2480.53" width="1" height="3.07" fill="#A7A9AC"/>
<rect x="495.16" y="2478.13" width="1" height="5.47" fill="#A7A9AC"/>
<rect x="959.39" y="2482.87" width="1" height="0.73" fill="#A7A9AC"/>
<rect x="489.26" y="2477.81" width="1" height="5.79" fill="#A7A9AC"/>
<rect x="267.52" y="2475.94" width="1" height="7.66" fill="#A7A9AC"/>
<rect x="519.8" y="2475.78" width="1" height="7.82" fill="#A7A9AC"/>
<rect x="647.97" y="2482.92" width="1" height="0.68" fill="#A7A9AC"/>
<rect x="247.35" y="2483.48" width="1" height="0.12" fill="#A7A9AC"/>
<rect x="468.99" y="2476.58" width="1" height="7.02" fill="#A7A9AC"/>
<rect x="959.99" y="2477.93" width="1" height="5.67" fill="#A7A9AC"/>
<rect x="512.07" y="2477.58" width="1" height="6.02" fill="#A7A9AC"/>
<rect x="903.4" y="2480.76" width="1" height="2.84" fill="#A7A9AC"/>
<rect x="304.53" y="2479.67" width="1" height="3.93" fill="#A7A9AC"/>
<rect x="433.73" y="2482.67" width="1" height="0.93" fill="#A7A9AC"/>
<rect x="1055.6" y="2481.68" width="1" height="1.92" fill="#A7A9AC"/>
<rect x="1056.06" y="2476.79" width="1" height="6.81" fill="#A7A9AC"/>
<rect x="239.44" y="2475.06" width="1" height="8.54" fill="#A7A9AC"/>
<rect x="974.17" y="2479.06" width="1" height="4.54" fill="#A7A9AC"/>
<rect x="1043.04" y="2479.57" width="1" height="4.03" fill="#A7A9AC"/>
<rect x="252.62" y="2483.08" width="1" height="0.52" fill="#A7A9AC"/>
<rect x="515.22" y="2475.5" width="1" height="8.1" fill="#A7A9AC"/>
<rect x="992.62" y="2483.43" width="1" height="0.17" fill="#A7A9AC"/>
<rect x="551.4" y="2483.5" width="1" height="0.1" fill="#A7A9AC"/>
<rect x="439.64" y="2480.92" width="1" height="2.68" fill="#A7A9AC"/>
<rect x="610.78" y="2483.08" width="1" height="0.52" fill="#A7A9AC"/>
<rect x="834.5" y="2482.1" width="1" height="1.5" fill="#A7A9AC"/>
<rect x="1048.36" y="2479.53" width="1" height="4.07" fill="#A7A9AC"/>
<rect x="624.74" y="2476.49" width="1" height="7.11" fill="#A7A9AC"/>
<rect x="546.85" y="2481.94" width="1" height="1.66" fill="#A7A9AC"/>
<rect x="342.26" y="2481.53" width="1" height="2.07" fill="#A7A9AC"/>
<rect x="445.3" y="2476.82" width="1" height="6.78" fill="#A7A9AC"/>
<rect x="556.04" y="2477.12" width="1" height="6.48" fill="#A7A9AC"/>
<rect x="509.97" y="2480.48" width="1" height="3.12" fill="#A7A9AC"/>
<rect x="1066.82" y="2482.56" width="1" height="1.04" fill="#A7A9AC"/>
<rect x="424.22" y="2483.02" width="1" height="0.58" fill="#A7A9AC"/>
<rect x="462.47" y="2474.4" width="1" height="9.2" fill="#A7A9AC"/>
<rect x="1086.82" y="2482.25" width="1" height="1.35" fill="#A7A9AC"/>
<rect x="275.35" y="2479.48" width="1" height="4.12" fill="#A7A9AC"/>
<rect x="767.37" y="2483.49" width="1" height="0.11" fill="#A7A9AC"/>
<rect x="614.18" y="2476.46" width="1" height="7.14" fill="#A7A9AC"/>
<rect x="230.73" y="2476.99" width="1" height="6.61" fill="#A7A9AC"/>
<rect x="859.62" y="2476.27" width="1" height="7.33" fill="#A7A9AC"/>
<rect x="677.4" y="2479.72" width="1" height="3.88" fill="#A7A9AC"/>
<rect x="706.55" y="2483.23" width="1" height="0.37" fill="#A7A9AC"/>
<rect x="702.29" y="2482.13" width="1" height="1.47" fill="#A7A9AC"/>
<rect x="727.22" y="2482.16" width="1" height="1.44" fill="#A7A9AC"/>
<rect x="740.68" y="2479.3" width="1" height="4.3" fill="#A7A9AC"/>
<rect x="443.86" y="2483.33" width="1" height="0.27" fill="#A7A9AC"/>
<rect x="777.81" y="2477.44" width="1" height="6.16" fill="#A7A9AC"/>
<rect x="864.61" y="2479.25" width="1" height="4.35" fill="#A7A9AC"/>
<rect x="511.35" y="2476.12" width="1" height="7.48" fill="#A7A9AC"/>
<rect x="576.52" y="2483.58" width="1" height="0.02" fill="#A7A9AC"/>
<rect x="616.72" y="2475.76" width="1" height="7.84" fill="#A7A9AC"/>
<rect x="319.77" y="2483.49" width="1" height="0.11" fill="#A7A9AC"/>
<rect x="687.94" y="2475.35" width="1" height="8.25" fill="#A7A9AC"/>
<rect x="588.7" y="2482.03" width="1" height="1.57" fill="#A7A9AC"/>
<rect x="501.27" y="2478.28" width="1" height="5.32" fill="#A7A9AC"/>
<rect x="1010.97" y="2475.47" width="1" height="8.13" fill="#A7A9AC"/>
<rect x="529.19" y="2481.84" width="1" height="1.76" fill="#A7A9AC"/>
<rect x="563.81" y="2483.39" width="1" height="0.21" fill="#A7A9AC"/>
<rect x="480.33" y="2476.48" width="1" height="7.12" fill="#A7A9AC"/>
<rect x="1130.14" y="2481.8" width="1" height="1.8" fill="#A7A9AC"/>
<rect x="296.11" y="2476.77" width="1" height="6.83" fill="#A7A9AC"/>
<rect x="1118.36" y="2476.18" width="1" height="7.42" fill="#A7A9AC"/>
<rect x="609.16" y="2476.72" width="1" height="6.88" fill="#A7A9AC"/>
<rect x="929.19" y="2476.72" width="1" height="6.88" fill="#A7A9AC"/>
<rect x="682.89" y="2473.99" width="1" height="9.61" fill="#A7A9AC"/>
<rect x="947.8" y="2482.17" width="1" height="1.43" fill="#A7A9AC"/>
<rect x="232.25" y="2470.41" width="1.3" height="13.19" fill="#A7A9AC"/>
<rect x="241.25" y="2440.32" width="3.3" height="43.28" fill="#BE1E2D"/>
<rect x="247.65" y="2475" width="1.3" height="8.6" fill="#A7A9AC"/>
<rect x="258.15" y="2479.59" width="3.3" height="4.01" fill="#1C75BC"/>
<rect x="263.25" y="2473.98" width="1.3" height="9.62" fill="#A7A9AC"/>
<rect x="272.7" y="2413.8" width="1.2" height="69.8" fill="#A7A9AC"/>
<rect x="273.75" y="2464.8" width="1.3" height="18.8" fill="#A7A9AC"/>
<rect x="287.95" y="2416.86" width="3.3" height="66.74" fill="#EF9333"/>
<rect x="287.95" y="2462.25" width="3.3" height="21.35" fill="#D6A672"/>
<rect x="298.65" y="2473.98" width="3.3" height="9.62" fill="#BE1E2D"/>
<rect x="304.85" y="2432.16" width="1.3" height="51.44" fill="#A7A9AC"/>
<rect x="311.85" y="2467.35" width="1.3" height="16.25" fill="#A7A9AC"/>
<rect x="318.05" y="2458.17" width="1.3" height="25.43" fill="#A7A9AC"/>
<rect x="321.15" y="2441.85" width="1.3" height="41.75" fill="#A7A9AC"/>
<rect x="323.85" y="2455.11" width="1.3" height="28.49" fill="#A7A9AC"/>
<rect x="336.1" y="2313.84" width="1.2" height="169.76" fill="#A7A9AC"/>
<rect x="344.65" y="2475" width="1.3" height="8.6" fill="#A7A9AC"/>
<rect x="353.75" y="2475.51" width="3.3" height="8.09" fill="#EF9333"/>
<rect x="361.05" y="2477.55" width="1.3" height="6.05" fill="#A7A9AC"/>
<rect x="364.15" y="2457.15" width="3.3" height="26.45" fill="#BE1E2D"/>
<rect x="371.15" y="2451.03" width="1.3" height="32.57" fill="#A7A9AC"/>
<rect x="383.75" y="2457.15" width="1.3" height="26.45" fill="#A7A9AC"/>
<rect x="391.65" y="2472.45" width="1.3" height="11.15" fill="#A7A9AC"/>
<rect x="402.1" y="2344.44" width="1.2" height="139.16" fill="#A7A9AC"/>
<rect x="400.55" y="2384.73" width="3.3" height="98.87" fill="#EF9333"/>
<rect x="411.65" y="2443.89" width="1.3" height="39.71" fill="#A7A9AC"/>
<rect x="411.45" y="2458.17" width="3.3" height="25.43" fill="#BE1E2D"/>
<rect x="419.85" y="2475" width="1.3" height="8.6" fill="#A7A9AC"/>
<rect x="430.75" y="2455.11" width="1.3" height="28.49" fill="#A7A9AC"/>
<rect x="437.55" y="2475" width="1.3" height="8.6" fill="#A7A9AC"/>
<rect x="448.85" y="2158.8" width="1.3" height="324.8" fill="#A7A9AC"/>
<rect x="448.9" y="2378.1" width="1.8" height="105.5" fill="#A7A9AC"/>
<rect x="458.65" y="2461.74" width="1.3" height="21.86" fill="#A7A9AC"/>
<rect x="477.65" y="2469.9" width="1.3" height="13.7" fill="#A7A9AC"/>
<rect x="495.35" y="2475" width="1.3" height="8.6" fill="#A7A9AC"/>
<rect x="507.15" y="2465.82" width="1.3" height="17.78" fill="#A7A9AC"/>
<rect x="511.75" y="2471.94" width="1.3" height="11.66" fill="#A7A9AC"/>
<rect x="522.65" y="2463.27" width="1.3" height="20.33" fill="#A7A9AC"/>
<rect x="525.45" y="2430.12" width="1.3" height="53.48" fill="#A7A9AC"/>
<rect x="534.95" y="2468.37" width="1.3" height="15.23" fill="#A7A9AC"/>
<rect x="552.8" y="2357.7" width="1.2" height="125.9" fill="#A7A9AC"/>
<rect x="566.35" y="2475" width="1.3" height="8.6" fill="#A7A9AC"/>
<rect x="597.25" y="2411.76" width="1.3" height="71.84" fill="#A7A9AC"/>
<rect x="600.05" y="2465.82" width="1.3" height="17.78" fill="#A7A9AC"/>
<rect x="612.85" y="2475" width="1.3" height="8.6" fill="#A7A9AC"/>
<rect x="621.05" y="2441.34" width="1.3" height="42.26" fill="#A7A9AC"/>
<rect x="626.6" y="2243.46" width="1.2" height="240.14" fill="#A7A9AC"/>
<rect x="628.85" y="1975.2" width="1.3" height="508.4" fill="#A7A9AC"/>
<rect x="630.65" y="2455.11" width="1.3" height="28.49" fill="#A7A9AC"/>
<rect x="639.65" y="2475" width="1.3" height="8.6" fill="#A7A9AC"/>
<rect x="667.85" y="2353.62" width="3.3" height="129.98" fill="#EF9333"/>
<rect x="677.95" y="2429.61" width="3.3" height="53.99" fill="#BE1E2D"/>
<rect x="697.55" y="2464.8" width="1.3" height="18.8" fill="#A7A9AC"/>
<rect x="705.25" y="2444.4" width="1.3" height="39.2" fill="#A7A9AC"/>
<rect x="716" y="2357.19" width="1.2" height="126.41" fill="#A7A9AC"/>
<rect x="743.85" y="2391.36" width="3.3" height="92.24" fill="#EF9333"/>
<rect x="743.85" y="2459.7" width="3.3" height="23.9" fill="#D6A672"/>
<rect x="754.45" y="2457.66" width="3.3" height="25.94" fill="#BE1E2D"/>
<rect x="763.75" y="2475" width="1.3" height="8.6" fill="#A7A9AC"/>
<rect x="774.65" y="2464.8" width="1.3" height="18.8" fill="#A7A9AC"/>
<rect x="784.55" y="2467.35" width="1.3" height="16.25" fill="#A7A9AC"/>
<rect x="791.25" y="2455.62" width="1.3" height="27.98" fill="#A7A9AC"/>
<rect x="819.55" y="2400.54" width="3.3" height="83.06" fill="#EF9333"/>
<rect x="819.55" y="2459.7" width="3.3" height="23.9" fill="#D6A672"/>
<rect x="829.75" y="2465.82" width="3.3" height="17.78" fill="#BE1E2D"/>
<rect x="848.55" y="2461.23" width="1.3" height="22.37" fill="#A7A9AC"/>
<rect x="858.45" y="2467.35" width="1.3" height="16.25" fill="#A7A9AC"/>
<rect x="868.65" y="2471.43" width="1.3" height="12.17" fill="#A7A9AC"/>
<rect x="879.35" y="2477.55" width="1.3" height="6.05" fill="#A7A9AC"/>
<rect x="885.85" y="2400.03" width="3.3" height="83.57" fill="#EF9333"/>
<rect x="885.85" y="2459.7" width="3.3" height="23.9" fill="#D6A672"/>
<rect x="896.75" y="2465.82" width="3.3" height="17.78" fill="#BE1E2D"/>
<rect x="907.75" y="2435.22" width="1.3" height="48.38" fill="#A7A9AC"/>
<rect x="916.75" y="2464.8" width="1.3" height="18.8" fill="#A7A9AC"/>
<rect x="918.75" y="2275.59" width="1.3" height="208.01" fill="#A7A9AC"/>
<rect x="924.35" y="2469.9" width="1.3" height="13.7" fill="#A7A9AC"/>
<rect x="936.15" y="2477.55" width="1.3" height="6.05" fill="#A7A9AC"/>
<rect x="953.95" y="2479.59" width="3.3" height="4.01" fill="#1C75BC"/>
<rect x="964.95" y="2472.96" width="3.3" height="10.64" fill="#3FA063"/>
<rect x="983.15" y="2424.51" width="3.3" height="59.09" fill="#EF9333"/>
<rect x="983.15" y="2469.9" width="3.3" height="13.7" fill="#D6A672"/>
<rect x="994.05" y="2464.8" width="3.3" height="18.8" fill="#BE1E2D"/>
<rect x="1011.15" y="2472.45" width="3.3" height="11.15" fill="#1C75BC"/>
<rect x="1022.55" y="2417.37" width="3.3" height="66.23" fill="#3FA063"/>
<rect x="1040.75" y="2458.17" width="3.3" height="25.43" fill="#EF9333"/>
<rect x="1051.85" y="2478.57" width="3.3" height="5.03" fill="#BE1E2D"/>
<rect x="1059.9" y="2445.93" width="1.4" height="37.67" fill="#A7A9AC"/>
<rect x="1068.25" y="2463.27" width="1.3" height="20.33" fill="#A7A9AC"/>
<rect x="1070.55" y="2475" width="1.3" height="8.6" fill="#A7A9AC"/>
<rect x="1079.15" y="2481.12" width="1.3" height="2.48" fill="#A7A9AC"/>
<rect x="1089.3" y="2381.16" width="1.4" height="102.44" fill="#A7A9AC"/>
<rect x="1088" y="2454.6" width="4" height="29" fill="#A7A9AC"/>
<rect x="1093.35" y="2477.55" width="1.3" height="6.05" fill="#A7A9AC"/>
<rect x="1099.7" y="2385.24" width="1.4" height="98.36" fill="#A7A9AC"/>
<rect x="1098.5" y="2449.5" width="3.8" height="34.1" fill="#A7A9AC"/>
<rect x="1105.45" y="2477.55" width="1.3" height="6.05" fill="#A7A9AC"/>
<rect x="1109.75" y="2469.9" width="1.3" height="13.7" fill="#A7A9AC"/>
<rect x="1117.2" y="2360.25" width="1.4" height="123.35" fill="#A7A9AC"/>
<rect x="1116.15" y="2454.6" width="3.5" height="29" fill="#A7A9AC"/>
<rect x="1121.25" y="2477.55" width="1.3" height="6.05" fill="#A7A9AC"/>
<rect x="1127.1" y="2201.13" width="3.8" height="282.47" fill="#A3A5A8"/>
<rect x="1131.55" y="2468.37" width="1.3" height="15.23" fill="#A7A9AC"/>
<rect x="1127.8" y="2201.13" width="2.4" height="143.82" fill="#6D6E71"/>
</svg></body></html>
